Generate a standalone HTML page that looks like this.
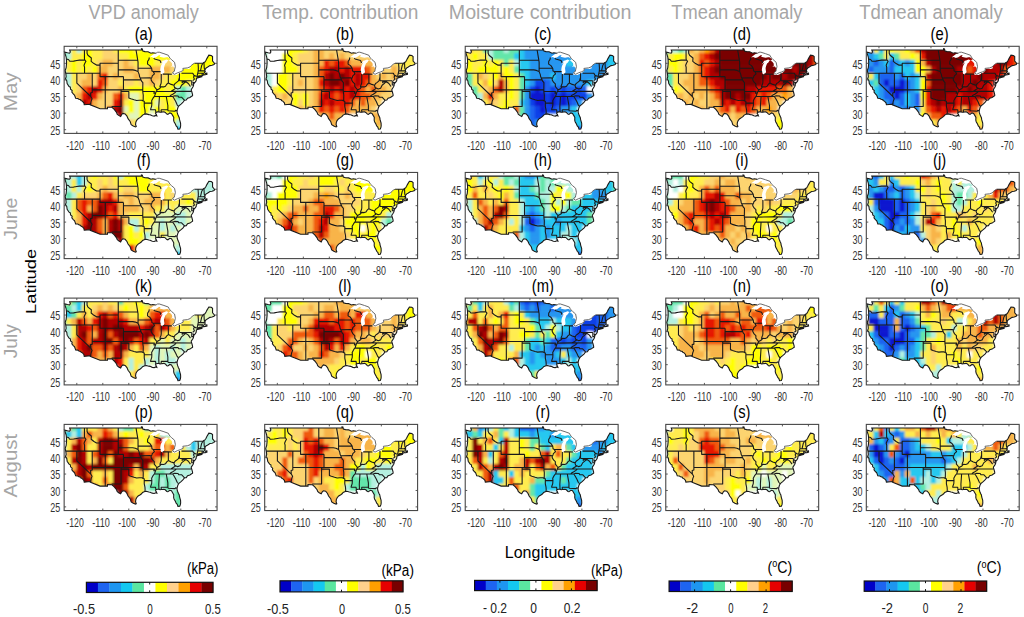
<!DOCTYPE html><html><head><meta charset="utf-8"><style>html,body{margin:0;padding:0;background:#fff;}svg{display:block;}text{font-family:"Liberation Sans",sans-serif;}</style></head><body><svg width="1024" height="617" viewBox="0 0 1024 617"><defs><clipPath id="us"><path d="M0.9 6.3L3.8 7.0L5.9 7.4L6.7 6.2L6.0 4.2L77.8 4.2L77.8 3.0L78.7 3.2L79.2 5.2L81.3 5.8L84.4 6.0L87.3 7.4L89.1 6.9L92.2 7.5L89.9 8.5L87.3 10.5L85.7 11.7L88.0 11.2L90.1 12.2L92.5 11.4L95.3 9.5L96.9 9.4L95.8 10.9L97.9 11.4L100.3 12.0L102.9 11.5L104.2 11.5L105.5 12.5L106.5 12.5L106.8 14.2L104.9 14.7L102.9 13.8L100.3 14.8L99.0 15.0L97.4 17.2L96.4 19.0L97.7 17.8L99.2 16.5L97.7 19.2L97.1 20.8L96.6 23.5L96.7 25.8L97.4 28.0L98.4 28.8L100.0 27.8L100.8 26.1L100.5 24.1L100.3 22.1L101.0 19.8L101.8 17.8L103.1 16.8L104.2 15.0L104.9 14.8L106.8 15.8L108.3 17.5L108.6 19.8L107.0 21.1L108.3 20.8L109.6 20.7L110.7 22.1L110.9 24.1L110.7 25.5L109.1 26.5L108.8 27.5L108.2 28.5L110.1 29.3L112.7 29.1L115.9 27.6L117.7 26.6L119.6 24.6L119.6 23.3L122.4 23.0L125.0 23.3L127.0 22.5L126.8 20.8L128.1 19.5L130.2 17.8L130.9 17.5L139.3 17.5L140.6 16.5L141.3 16.2L142.4 14.5L143.2 12.8L145.2 9.4L147.6 9.7L148.9 10.7L148.9 15.2L149.8 16.2L151.0 17.8L150.4 18.7L148.4 19.5L146.3 19.8L143.7 21.5L142.5 22.1L141.3 23.8L141.1 25.1L141.6 25.5L140.6 26.5L141.6 27.5L143.2 27.3L143.3 28.5L141.6 29.0L140.0 29.1L138.2 29.8L135.6 29.9L133.5 30.9L138.0 30.6L138.2 30.9L133.0 32.3L132.8 32.4L132.5 34.9L131.7 36.1L130.4 37.6L129.1 36.1L129.9 38.1L130.0 39.2L129.5 40.7L128.6 42.2L127.7 43.6L127.6 44.4L128.1 45.7L128.9 48.7L128.9 49.9L127.6 50.7L126.3 51.7L123.9 52.4L122.6 54.3L120.8 54.5L119.2 56.7L117.4 58.3L115.3 60.0L114.3 61.7L113.8 63.3L113.4 65.0L113.5 66.6L114.0 68.3L114.8 70.3L115.6 71.9L115.9 73.9L116.9 77.3L117.0 79.6L116.8 81.4L116.1 83.2L114.3 83.4L113.6 81.2L112.5 80.2L111.7 78.3L110.4 75.9L110.0 74.3L110.1 71.6L109.4 70.3L107.8 67.6L106.2 67.1L104.2 68.6L103.2 68.3L101.6 66.6L100.3 66.0L97.7 66.3L96.4 66.5L95.3 66.1L93.8 66.1L92.2 66.6L91.9 67.6L92.7 68.6L93.2 70.0L91.9 69.6L90.6 70.3L88.6 70.0L86.5 69.0L85.2 68.8L82.6 68.1L81.1 68.3L78.9 69.3L77.9 70.6L76.6 71.6L74.5 72.9L73.0 74.6L72.2 76.3L71.9 78.6L72.6 80.7L71.9 81.1L69.6 80.2L67.5 78.9L66.5 75.6L64.4 72.9L63.3 70.3L61.5 68.1L59.2 67.6L58.1 68.6L57.0 70.7L55.0 69.6L53.5 68.3L52.9 66.6L50.6 63.6L48.3 61.5L43.8 61.4L43.8 62.9L36.4 62.9L26.7 59.0L26.9 58.3L20.6 58.9L20.2 57.0L18.6 55.3L17.3 54.8L17.1 54.0L15.2 53.5L14.2 52.7L12.0 52.5L11.5 51.0L10.8 49.2L9.8 48.4L8.2 46.4L8.5 44.7L6.9 43.4L6.7 41.4L5.4 40.7L3.5 37.7L3.1 34.8L1.8 33.1L2.5 30.8L2.2 28.1L1.5 24.8L2.5 21.8L2.9 17.5L2.8 14.2L2.5 11.2L0.9 6.3Z"/></clipPath><filter id="bl" x="-5%%" y="-5%%" width="110%%" height="110%%"><feGaussianBlur stdDeviation="0.9"/></filter><g id="st"><path d="M2.8 13.3L4.8 13.7L6.1 15.5L10.0 15.3L13.2 14.7L15.8 14.3L21.2 14.2M20.8 4.2L20.8 12.8L21.2 14.2M21.2 14.2L22.3 15.5L21.2 17.5L20.4 19.5L20.9 21.5L20.9 27.5M2.2 27.5L36.4 27.5M13.2 27.5L13.2 37.4L27.1 50.7M27.1 50.7L28.4 53.0L27.5 55.3L26.9 58.3M28.6 44.1L28.6 46.7L26.9 47.2L27.1 50.7M28.6 27.5L28.6 44.1M28.6 44.1L79.1 44.1M41.6 30.8L41.6 62.9M36.4 27.5L36.4 30.8L59.8 30.8M36.4 27.5L36.4 19.2L32.9 19.3L30.3 17.8L27.5 15.5L27.7 12.2L24.3 9.5L23.4 7.5L23.4 4.2M36.4 19.2L36.4 17.5L54.6 17.5M54.6 4.2L54.6 30.8M59.8 30.8L59.8 44.1M57.4 44.1L57.4 60.7L48.0 60.7M57.4 45.7L65.2 45.7L65.2 52.2L67.2 53.0L70.4 54.0L73.0 54.7L75.6 54.5L78.2 54.5L79.5 55.2M54.6 24.1L69.1 24.1L71.7 24.6L74.4 25.8M54.6 14.4L74.1 14.4M72.4 4.2L73.5 10.9L74.1 14.4L74.4 16.5L74.4 25.8M59.8 34.1L77.4 34.1M74.4 25.8L75.6 28.8L75.9 30.8L77.4 34.1L77.9 35.4L79.2 36.9L79.1 44.1L79.1 45.7M74.4 22.5L88.0 22.5M76.1 32.2L86.7 32.1L87.5 32.8M85.7 11.7L85.2 13.8L84.0 15.5L83.9 18.3L86.2 19.8L88.0 22.5L88.3 25.1L89.6 25.8L90.8 28.1L88.6 30.1L88.3 31.4L87.5 32.8L87.5 34.1L88.8 36.4L90.6 38.1L90.6 40.7L92.5 43.1L93.4 44.1L92.5 45.7L91.9 47.4L90.9 50.4L89.6 52.0L88.0 55.0L88.2 57.3L88.0 60.3L87.0 63.3L87.0 64.0L91.9 64.0L92.2 66.6M93.4 44.1L96.1 42.6L97.4 40.9L100.0 41.1L101.8 40.4L103.1 38.4L104.7 37.1L107.5 38.6L110.4 39.4L111.4 37.7L112.7 36.8L114.8 35.1L115.6 32.1M97.6 28.3L97.6 36.3L97.4 37.7L96.6 39.7L96.2 41.4M104.7 28.3L104.7 37.1M99.0 28.3L104.7 28.3L108.2 28.4M89.5 25.8L96.9 25.8M90.1 12.3L90.9 13.2L94.5 14.2L96.4 14.8L97.4 17.2M92.5 45.7L107.6 45.4L127.9 45.6M79.1 45.7L90.8 45.7L90.2 47.4L91.9 47.4M79.1 45.7L79.6 49.4L79.5 55.2L80.6 55.5L80.6 57.3L88.2 57.3M80.6 57.3L80.6 60.7L81.3 64.0L81.5 67.0L81.1 68.3M95.8 50.7L95.1 61.0L95.3 66.0M102.6 50.7L104.2 59.7L104.2 64.0M97.4 64.0L104.2 64.0L104.5 65.0L111.4 65.4L112.0 64.6L113.4 65.0M97.4 64.0L97.7 66.3M90.4 50.7L109.1 50.7M109.1 50.7L110.4 52.7L112.2 56.0L113.5 59.0L114.8 60.5M109.1 50.7L110.9 50.0L114.4 50.2L115.1 51.4L117.9 51.4L120.9 54.5M106.0 50.7L106.8 49.7L109.1 48.4L111.2 47.0L112.8 45.4M107.6 45.4L109.9 43.9L111.2 43.1L112.0 42.3L110.9 41.7L110.4 40.1L110.4 39.4M112.0 42.3L114.0 43.2L116.4 42.4L117.9 39.4L120.0 37.7L121.6 36.1L123.0 36.4M123.0 36.4L121.6 35.4L119.8 35.8L118.5 36.8L118.5 35.0M123.0 36.4L124.7 37.7L126.8 40.7M115.8 35.0L128.1 35.0M115.8 35.0L115.8 27.5M117.8 27.5L129.2 27.5L129.9 29.1L130.9 29.6L129.9 31.3L130.8 33.4L129.1 34.8M130.9 29.6L133.0 30.8M128.1 35.0L128.1 39.2L130.0 39.2M134.4 17.5L134.7 22.1L134.6 25.0L134.1 27.3L133.5 30.4L133.8 30.8M139.3 17.5L138.0 19.8L136.8 25.0M134.7 25.0L139.8 25.1L141.1 24.6M134.1 27.3L139.6 27.4M138.5 27.4L138.5 29.8M139.6 27.4L140.3 29.1M140.3 16.5L140.6 22.5L141.3 23.9" fill="none" stroke="#1a1a1a" stroke-width="1.1" stroke-linejoin="round"/><path d="M130.9 17.5L139.3 17.5L140.6 16.5L141.3 16.2L142.4 14.5L143.2 12.8L145.2 9.4L147.6 9.7L148.9 10.7L148.9 15.2L149.8 16.2L151.0 17.8L150.4 18.7L148.4 19.5L146.3 19.8L143.7 21.5L142.5 22.1L141.3 23.8L141.1 25.1L141.6 25.5L140.6 26.5L141.6 27.5L143.2 27.3L143.3 28.5L141.6 29.0L140.0 29.1L138.2 29.8L135.6 29.9L133.5 30.9L138.0 30.6L138.2 30.9L133.0 32.3L132.8 32.4L132.5 34.9L131.7 36.1L130.4 37.6L129.1 36.1L129.9 38.1L130.0 39.2L129.5 40.7L128.6 42.2L127.7 43.6L127.6 44.4L128.1 45.7L128.9 48.7L128.9 49.9L127.6 50.7L126.3 51.7L123.9 52.4L122.6 54.3L120.8 54.5L119.2 56.7L117.4 58.3L115.3 60.0L114.3 61.7L113.8 63.3L113.4 65.0L113.5 66.6L114.0 68.3L114.8 70.3L115.6 71.9L115.9 73.9L116.9 77.3L117.0 79.6L116.8 81.4L116.1 83.2L114.3 83.4L113.6 81.2L112.5 80.2L111.7 78.3L110.4 75.9L110.0 74.3L110.1 71.6L109.4 70.3L107.8 67.6L106.2 67.1L104.2 68.6L103.2 68.3L101.6 66.6L100.3 66.0L97.7 66.3L96.4 66.5L95.3 66.1L93.8 66.1L92.2 66.6L91.9 67.6L92.7 68.6L93.2 70.0L91.9 69.6L90.6 70.3L88.6 70.0L86.5 69.0L85.2 68.8L82.6 68.1L81.1 68.3L78.9 69.3L77.9 70.6L76.6 71.6L74.5 72.9L73.0 74.6L72.2 76.3L71.9 78.6L72.6 80.7L71.9 81.1L69.6 80.2L67.5 78.9L66.5 75.6L64.4 72.9L63.3 70.3L61.5 68.1L59.2 67.6L58.1 68.6L57.0 70.7L55.0 69.6L53.5 68.3L52.9 66.6L50.6 63.6L48.3 61.5L43.8 61.4L43.8 62.9L36.4 62.9L26.7 59.0L26.9 58.3L20.6 58.9L20.2 57.0L18.6 55.3L17.3 54.8L17.1 54.0L15.2 53.5L14.2 52.7L12.0 52.5L11.5 51.0L10.8 49.2L9.8 48.4L8.2 46.4L8.5 44.7L6.9 43.4L6.7 41.4L5.4 40.7L3.5 37.7L3.1 34.8L1.8 33.1L2.5 30.8L2.2 28.1L1.5 24.8L2.5 21.8L2.9 17.5L2.8 14.2L2.5 11.2L0.9 6.3L0.9 6.3L3.8 7.0L5.9 7.4L6.7 6.2L6.0 4.2L77.8 4.2L77.8 3.0L78.7 3.2L79.2 5.2L81.3 5.8L84.4 6.0L87.3 7.4L89.1 6.9L92.2 7.5" fill="none" stroke="#1a1a1a" stroke-width="1.1"/><path d="M92.2 7.5L93.8 6.5L95.6 6.4L100.3 7.9L104.7 9.5L105.5 11.2L106.5 12.5L107.8 13.8L110.9 16.5L111.7 20.8L110.9 24.1L110.7 25.5L109.1 26.5L109.1 27.5L110.9 28.5L113.8 27.0L116.6 26.1L119.6 24.6L119.2 22.6L123.7 22.1L126.5 21.1L127.0 20.2L129.4 18.2L130.9 17.5" fill="none" stroke="#5a5a5a" stroke-width="0.9"/></g></defs><text x="88.6" y="18.8" font-size="19.5" fill="#a6a6a6" textLength="110.2" lengthAdjust="spacingAndGlyphs">VPD anomaly</text><text x="262.0" y="18.8" font-size="19.5" fill="#a6a6a6" textLength="156.4" lengthAdjust="spacingAndGlyphs">Temp. contribution</text><text x="448.8" y="18.8" font-size="19.5" fill="#a6a6a6" textLength="182.6" lengthAdjust="spacingAndGlyphs">Moisture contribution</text><text x="671.3" y="18.8" font-size="19.5" fill="#a6a6a6" textLength="131.2" lengthAdjust="spacingAndGlyphs">Tmean anomaly</text><text x="859.2" y="18.8" font-size="19.5" fill="#a6a6a6" textLength="143.5" lengthAdjust="spacingAndGlyphs">Tdmean anomaly</text><text transform="translate(16.6 91.8) rotate(-90)" text-anchor="middle" font-size="18.5" fill="#a6a6a6" textLength="39.0" lengthAdjust="spacingAndGlyphs">May</text><text transform="translate(16.6 218.7) rotate(-90)" text-anchor="middle" font-size="18.5" fill="#a6a6a6" textLength="42.0" lengthAdjust="spacingAndGlyphs">June</text><text transform="translate(16.6 341.3) rotate(-90)" text-anchor="middle" font-size="18.5" fill="#a6a6a6" textLength="34.0" lengthAdjust="spacingAndGlyphs">July</text><text transform="translate(16.6 465.6) rotate(-90)" text-anchor="middle" font-size="18.5" fill="#a6a6a6" textLength="63.6" lengthAdjust="spacingAndGlyphs">August</text><text transform="translate(36.4 281.4) rotate(-90)" text-anchor="middle" font-size="15.5" fill="#000" textLength="65" lengthAdjust="spacingAndGlyphs">Latitude</text><g transform="translate(63.65 45.80) scale(1 1.0000)"><g clip-path="url(#us)"><g filter="url(#bl)"><rect x="-2.7" y="-1.1" width="11.0" height="8.9" fill="#b4f0e0"/><rect x="7.7" y="-1.1" width="5.8" height="8.9" fill="#ffec50"/><rect x="12.9" y="-1.1" width="5.8" height="8.9" fill="#b4f0e0"/><rect x="18.1" y="-1.1" width="5.8" height="8.9" fill="#ffec50"/><rect x="23.3" y="-1.1" width="5.8" height="8.9" fill="#ffff00"/><rect x="28.5" y="-1.1" width="11.0" height="8.9" fill="#ffec50"/><rect x="38.9" y="-1.1" width="11.0" height="8.9" fill="#fcd470"/><rect x="49.3" y="-1.1" width="5.8" height="8.9" fill="#ffec50"/><rect x="54.5" y="-1.1" width="16.2" height="8.9" fill="#ffff00"/><rect x="70.1" y="-1.1" width="5.8" height="8.9" fill="#ffec50"/><rect x="75.3" y="-1.1" width="16.2" height="8.9" fill="#ffff00"/><rect x="-2.7" y="7.2" width="5.8" height="7.2" fill="#64e6aa"/><rect x="2.5" y="7.2" width="5.8" height="7.2" fill="#b4f0e0"/><rect x="7.7" y="7.2" width="11.0" height="7.2" fill="#ffec50"/><rect x="18.1" y="7.2" width="11.0" height="7.2" fill="#ffff00"/><rect x="28.5" y="7.2" width="11.0" height="7.2" fill="#ffec50"/><rect x="38.9" y="7.2" width="16.2" height="7.2" fill="#fcd470"/><rect x="54.5" y="7.2" width="11.0" height="7.2" fill="#ffec50"/><rect x="64.9" y="7.2" width="42.2" height="7.2" fill="#ffff00"/><rect x="137.7" y="7.2" width="16.2" height="7.2" fill="#ffff00"/><rect x="-2.7" y="13.9" width="5.8" height="7.2" fill="#b4f0e0"/><rect x="2.5" y="13.9" width="5.8" height="7.2" fill="#ffec50"/><rect x="7.7" y="13.9" width="5.8" height="7.2" fill="#ffff00"/><rect x="12.9" y="13.9" width="5.8" height="7.2" fill="#ffec50"/><rect x="18.1" y="13.9" width="11.0" height="7.2" fill="#ffff00"/><rect x="28.5" y="13.9" width="5.8" height="7.2" fill="#ffec50"/><rect x="33.7" y="13.9" width="5.8" height="7.2" fill="#fcd470"/><rect x="38.9" y="13.9" width="11.0" height="7.2" fill="#f8b448"/><rect x="49.3" y="13.9" width="11.0" height="7.2" fill="#fcd470"/><rect x="59.7" y="13.9" width="5.8" height="7.2" fill="#f8b448"/><rect x="64.9" y="13.9" width="5.8" height="7.2" fill="#fcd470"/><rect x="70.1" y="13.9" width="5.8" height="7.2" fill="#ffec50"/><rect x="75.3" y="13.9" width="16.2" height="7.2" fill="#ffff00"/><rect x="90.9" y="13.9" width="11.0" height="7.2" fill="#ffec50"/><rect x="101.3" y="13.9" width="11.0" height="7.2" fill="#fcd470"/><rect x="116.9" y="13.9" width="37.0" height="7.2" fill="#ffff00"/><rect x="-2.7" y="20.5" width="5.8" height="7.2" fill="#b4f0e0"/><rect x="2.5" y="20.5" width="5.8" height="7.2" fill="#ffec50"/><rect x="7.7" y="20.5" width="5.8" height="7.2" fill="#ffff00"/><rect x="12.9" y="20.5" width="5.8" height="7.2" fill="#ffec50"/><rect x="18.1" y="20.5" width="5.8" height="7.2" fill="#ffff00"/><rect x="23.3" y="20.5" width="5.8" height="7.2" fill="#ffec50"/><rect x="28.5" y="20.5" width="5.8" height="7.2" fill="#ffff00"/><rect x="33.7" y="20.5" width="11.0" height="7.2" fill="#f8b448"/><rect x="44.1" y="20.5" width="16.2" height="7.2" fill="#fcd470"/><rect x="59.7" y="20.5" width="11.0" height="7.2" fill="#f8b448"/><rect x="70.1" y="20.5" width="16.2" height="7.2" fill="#fcd470"/><rect x="85.7" y="20.5" width="21.4" height="7.2" fill="#f8b448"/><rect x="106.5" y="20.5" width="5.8" height="7.2" fill="#fcd470"/><rect x="111.7" y="20.5" width="31.8" height="7.2" fill="#ffff00"/><rect x="-2.7" y="27.2" width="5.8" height="7.2" fill="#64e6aa"/><rect x="2.5" y="27.2" width="5.8" height="7.2" fill="#b4f0e0"/><rect x="7.7" y="27.2" width="5.8" height="7.2" fill="#ffec50"/><rect x="12.9" y="27.2" width="11.0" height="7.2" fill="#fcd470"/><rect x="23.3" y="27.2" width="5.8" height="7.2" fill="#f8b448"/><rect x="28.5" y="27.2" width="5.8" height="7.2" fill="#fcd470"/><rect x="33.7" y="27.2" width="5.8" height="7.2" fill="#f05a10"/><rect x="38.9" y="27.2" width="5.8" height="7.2" fill="#e61400"/><rect x="44.1" y="27.2" width="5.8" height="7.2" fill="#fcd470"/><rect x="49.3" y="27.2" width="5.8" height="7.2" fill="#f8b448"/><rect x="54.5" y="27.2" width="16.2" height="7.2" fill="#fcd470"/><rect x="70.1" y="27.2" width="5.8" height="7.2" fill="#f8b448"/><rect x="75.3" y="27.2" width="11.0" height="7.2" fill="#fcd470"/><rect x="85.7" y="27.2" width="11.0" height="7.2" fill="#f8b448"/><rect x="96.1" y="27.2" width="5.8" height="7.2" fill="#fcd470"/><rect x="101.3" y="27.2" width="11.0" height="7.2" fill="#ffec50"/><rect x="111.7" y="27.2" width="31.8" height="7.2" fill="#ffff00"/><rect x="2.5" y="33.8" width="5.8" height="7.2" fill="#b4f0e0"/><rect x="7.7" y="33.8" width="5.8" height="7.2" fill="#ffec50"/><rect x="12.9" y="33.8" width="5.8" height="7.2" fill="#fcd470"/><rect x="18.1" y="33.8" width="11.0" height="7.2" fill="#f8b448"/><rect x="28.5" y="33.8" width="5.8" height="7.2" fill="#fcd470"/><rect x="33.7" y="33.8" width="5.8" height="7.2" fill="#e61400"/><rect x="38.9" y="33.8" width="5.8" height="7.2" fill="#f05a10"/><rect x="44.1" y="33.8" width="11.0" height="7.2" fill="#fcd470"/><rect x="54.5" y="33.8" width="5.8" height="7.2" fill="#ffec50"/><rect x="59.7" y="33.8" width="11.0" height="7.2" fill="#fcd470"/><rect x="70.1" y="33.8" width="5.8" height="7.2" fill="#ffec50"/><rect x="75.3" y="33.8" width="11.0" height="7.2" fill="#fcd470"/><rect x="85.7" y="33.8" width="5.8" height="7.2" fill="#f8b448"/><rect x="90.9" y="33.8" width="5.8" height="7.2" fill="#fcd470"/><rect x="96.1" y="33.8" width="11.0" height="7.2" fill="#ffec50"/><rect x="106.5" y="33.8" width="16.2" height="7.2" fill="#ffff00"/><rect x="122.1" y="33.8" width="5.8" height="7.2" fill="#ffec50"/><rect x="2.5" y="40.4" width="5.8" height="7.2" fill="#b4f0e0"/><rect x="7.7" y="40.4" width="5.8" height="7.2" fill="#ffec50"/><rect x="12.9" y="40.4" width="5.8" height="7.2" fill="#fcd470"/><rect x="18.1" y="40.4" width="5.8" height="7.2" fill="#f05a10"/><rect x="23.3" y="40.4" width="5.8" height="7.2" fill="#e61400"/><rect x="28.5" y="40.4" width="5.8" height="7.2" fill="#b00000"/><rect x="33.7" y="40.4" width="5.8" height="7.2" fill="#e61400"/><rect x="38.9" y="40.4" width="5.8" height="7.2" fill="#f8b448"/><rect x="44.1" y="40.4" width="11.0" height="7.2" fill="#fcd470"/><rect x="54.5" y="40.4" width="5.8" height="7.2" fill="#f8b448"/><rect x="59.7" y="40.4" width="5.8" height="7.2" fill="#ffec50"/><rect x="64.9" y="40.4" width="37.0" height="7.2" fill="#ffff00"/><rect x="101.3" y="40.4" width="5.8" height="7.2" fill="#ffec50"/><rect x="106.5" y="40.4" width="5.8" height="7.2" fill="#ffff00"/><rect x="111.7" y="40.4" width="5.8" height="7.2" fill="#b4f0e0"/><rect x="116.9" y="40.4" width="5.8" height="7.2" fill="#64e6aa"/><rect x="122.1" y="40.4" width="5.8" height="7.2" fill="#b4f0e0"/><rect x="7.7" y="47.1" width="5.8" height="7.2" fill="#fcd470"/><rect x="12.9" y="47.1" width="5.8" height="7.2" fill="#f8b448"/><rect x="18.1" y="47.1" width="5.8" height="7.2" fill="#e61400"/><rect x="23.3" y="47.1" width="5.8" height="7.2" fill="#b00000"/><rect x="28.5" y="47.1" width="5.8" height="7.2" fill="#e61400"/><rect x="33.7" y="47.1" width="5.8" height="7.2" fill="#f8b448"/><rect x="38.9" y="47.1" width="11.0" height="7.2" fill="#fcd470"/><rect x="49.3" y="47.1" width="5.8" height="7.2" fill="#f05a10"/><rect x="54.5" y="47.1" width="5.8" height="7.2" fill="#e61400"/><rect x="59.7" y="47.1" width="5.8" height="7.2" fill="#f8b448"/><rect x="64.9" y="47.1" width="11.0" height="7.2" fill="#e2f6b8"/><rect x="75.3" y="47.1" width="5.8" height="7.2" fill="#ffec50"/><rect x="80.5" y="47.1" width="26.6" height="7.2" fill="#ffff00"/><rect x="106.5" y="47.1" width="5.8" height="7.2" fill="#ffec50"/><rect x="111.7" y="47.1" width="11.0" height="7.2" fill="#64e6aa"/><rect x="122.1" y="47.1" width="5.8" height="7.2" fill="#b4f0e0"/><rect x="12.9" y="53.7" width="5.8" height="7.2" fill="#f8b448"/><rect x="18.1" y="53.7" width="5.8" height="7.2" fill="#b00000"/><rect x="23.3" y="53.7" width="5.8" height="7.2" fill="#e61400"/><rect x="28.5" y="53.7" width="5.8" height="7.2" fill="#f8b448"/><rect x="33.7" y="53.7" width="16.2" height="7.2" fill="#fcd470"/><rect x="49.3" y="53.7" width="5.8" height="7.2" fill="#e61400"/><rect x="54.5" y="53.7" width="5.8" height="7.2" fill="#b00000"/><rect x="59.7" y="53.7" width="5.8" height="7.2" fill="#ffec50"/><rect x="64.9" y="53.7" width="5.8" height="7.2" fill="#ffff00"/><rect x="70.1" y="53.7" width="5.8" height="7.2" fill="#e2f6b8"/><rect x="75.3" y="53.7" width="16.2" height="7.2" fill="#ffff00"/><rect x="90.9" y="53.7" width="5.8" height="7.2" fill="#e2f6b8"/><rect x="96.1" y="53.7" width="5.8" height="7.2" fill="#ffec50"/><rect x="101.3" y="53.7" width="5.8" height="7.2" fill="#ffff00"/><rect x="106.5" y="53.7" width="5.8" height="7.2" fill="#ffec50"/><rect x="111.7" y="53.7" width="5.8" height="7.2" fill="#b4f0e0"/><rect x="23.3" y="60.4" width="11.0" height="7.2" fill="#f8b448"/><rect x="33.7" y="60.4" width="11.0" height="7.2" fill="#fcd470"/><rect x="44.1" y="60.4" width="5.8" height="7.2" fill="#f05a10"/><rect x="49.3" y="60.4" width="5.8" height="7.2" fill="#b00000"/><rect x="54.5" y="60.4" width="5.8" height="7.2" fill="#7a0000"/><rect x="59.7" y="60.4" width="5.8" height="7.2" fill="#e2f6b8"/><rect x="64.9" y="60.4" width="5.8" height="7.2" fill="#ffff00"/><rect x="70.1" y="60.4" width="5.8" height="7.2" fill="#e2f6b8"/><rect x="75.3" y="60.4" width="11.0" height="7.2" fill="#ffff00"/><rect x="85.7" y="60.4" width="5.8" height="7.2" fill="#e2f6b8"/><rect x="90.9" y="60.4" width="5.8" height="7.2" fill="#ffff00"/><rect x="96.1" y="60.4" width="5.8" height="7.2" fill="#ffec50"/><rect x="101.3" y="60.4" width="11.0" height="7.2" fill="#ffff00"/><rect x="54.5" y="67.0" width="5.8" height="7.2" fill="#b00000"/><rect x="59.7" y="67.0" width="5.8" height="7.2" fill="#ffec50"/><rect x="64.9" y="67.0" width="11.0" height="7.2" fill="#e2f6b8"/><rect x="75.3" y="67.0" width="5.8" height="7.2" fill="#ffff00"/><rect x="106.5" y="67.0" width="11.0" height="7.2" fill="#ffff00"/><rect x="64.9" y="73.6" width="5.8" height="7.2" fill="#fcd470"/><rect x="70.1" y="73.6" width="5.8" height="7.2" fill="#ffec50"/><rect x="106.5" y="73.6" width="5.8" height="7.2" fill="#ffff00"/><rect x="111.7" y="73.6" width="5.8" height="7.2" fill="#b4f0e0"/><rect x="70.1" y="80.3" width="5.8" height="7.2" fill="#fcd470"/><rect x="111.7" y="80.3" width="5.8" height="7.2" fill="#28c8f0"/></g></g><use href="#st"/></g><rect x="64.15" y="46.30" width="152.90" height="87.10" fill="none" stroke="#474747" stroke-width="1.1"/><path d="M76.80 133.40v-2M76.80 46.30v2M102.80 133.40v-2M102.80 46.30v2M128.80 133.40v-2M128.80 46.30v2M154.80 133.40v-2M154.80 46.30v2M180.80 133.40v-2M180.80 46.30v2M206.80 133.40v-2M206.80 46.30v2M64.15 129.70h2M217.05 129.70h-2M64.15 113.10h2M217.05 113.10h-2M64.15 96.50h2M217.05 96.50h-2M64.15 79.90h2M217.05 79.90h-2M64.15 63.30h2M217.05 63.30h-2" stroke="#474747" stroke-width="0.9"/><g font-size="12.2" fill="#333"><text x="75.00" y="149.70" text-anchor="middle" textLength="17.5" lengthAdjust="spacingAndGlyphs">-120</text><text x="101.00" y="149.70" text-anchor="middle" textLength="17.5" lengthAdjust="spacingAndGlyphs">-110</text><text x="127.00" y="149.70" text-anchor="middle" textLength="17.5" lengthAdjust="spacingAndGlyphs">-100</text><text x="153.00" y="149.70" text-anchor="middle" textLength="12.9" lengthAdjust="spacingAndGlyphs">-90</text><text x="179.00" y="149.70" text-anchor="middle" textLength="12.9" lengthAdjust="spacingAndGlyphs">-80</text><text x="205.00" y="149.70" text-anchor="middle" textLength="12.9" lengthAdjust="spacingAndGlyphs">-70</text><text x="60.25" y="135.10" text-anchor="end" textLength="10" lengthAdjust="spacingAndGlyphs">25</text><text x="60.25" y="118.50" text-anchor="end" textLength="10" lengthAdjust="spacingAndGlyphs">30</text><text x="60.25" y="101.90" text-anchor="end" textLength="10" lengthAdjust="spacingAndGlyphs">35</text><text x="60.25" y="85.30" text-anchor="end" textLength="10" lengthAdjust="spacingAndGlyphs">40</text><text x="60.25" y="68.70" text-anchor="end" textLength="10" lengthAdjust="spacingAndGlyphs">45</text></g><text transform="translate(143.65 40.10) scale(0.82 1)" font-size="18" text-anchor="middle" fill="#000">(a)</text><g transform="translate(264.19 45.80) scale(1 1.0000)"><g clip-path="url(#us)"><g filter="url(#bl)"><rect x="-2.7" y="-1.1" width="5.8" height="8.9" fill="#64e6aa"/><rect x="2.5" y="-1.1" width="21.4" height="8.9" fill="#ffffff"/><rect x="23.3" y="-1.1" width="16.2" height="8.9" fill="#ffff00"/><rect x="38.9" y="-1.1" width="5.8" height="8.9" fill="#ffec50"/><rect x="44.1" y="-1.1" width="5.8" height="8.9" fill="#fcd470"/><rect x="49.3" y="-1.1" width="11.0" height="8.9" fill="#f8b448"/><rect x="59.7" y="-1.1" width="31.8" height="8.9" fill="#fcd470"/><rect x="-2.7" y="7.2" width="5.8" height="7.2" fill="#64e6aa"/><rect x="2.5" y="7.2" width="16.2" height="7.2" fill="#ffffff"/><rect x="18.1" y="7.2" width="11.0" height="7.2" fill="#ffff00"/><rect x="28.5" y="7.2" width="5.8" height="7.2" fill="#ffec50"/><rect x="33.7" y="7.2" width="16.2" height="7.2" fill="#fcd470"/><rect x="49.3" y="7.2" width="11.0" height="7.2" fill="#f8b448"/><rect x="59.7" y="7.2" width="5.8" height="7.2" fill="#fcd470"/><rect x="64.9" y="7.2" width="5.8" height="7.2" fill="#f8b448"/><rect x="70.1" y="7.2" width="5.8" height="7.2" fill="#fcd470"/><rect x="75.3" y="7.2" width="5.8" height="7.2" fill="#f8b448"/><rect x="80.5" y="7.2" width="26.6" height="7.2" fill="#fcd470"/><rect x="137.7" y="7.2" width="5.8" height="7.2" fill="#fcd470"/><rect x="142.9" y="7.2" width="11.0" height="7.2" fill="#ffec50"/><rect x="-2.7" y="13.9" width="5.8" height="7.2" fill="#64e6aa"/><rect x="2.5" y="13.9" width="16.2" height="7.2" fill="#ffffff"/><rect x="18.1" y="13.9" width="11.0" height="7.2" fill="#ffff00"/><rect x="28.5" y="13.9" width="5.8" height="7.2" fill="#ffec50"/><rect x="33.7" y="13.9" width="16.2" height="7.2" fill="#fcd470"/><rect x="49.3" y="13.9" width="11.0" height="7.2" fill="#f8b448"/><rect x="59.7" y="13.9" width="5.8" height="7.2" fill="#e61400"/><rect x="64.9" y="13.9" width="5.8" height="7.2" fill="#f05a10"/><rect x="70.1" y="13.9" width="11.0" height="7.2" fill="#e61400"/><rect x="80.5" y="13.9" width="5.8" height="7.2" fill="#f05a10"/><rect x="85.7" y="13.9" width="26.6" height="7.2" fill="#f8b448"/><rect x="116.9" y="13.9" width="16.2" height="7.2" fill="#fcd470"/><rect x="132.5" y="13.9" width="21.4" height="7.2" fill="#ffec50"/><rect x="-2.7" y="20.5" width="5.8" height="7.2" fill="#64e6aa"/><rect x="2.5" y="20.5" width="16.2" height="7.2" fill="#ffffff"/><rect x="18.1" y="20.5" width="16.2" height="7.2" fill="#ffff00"/><rect x="33.7" y="20.5" width="16.2" height="7.2" fill="#fcd470"/><rect x="49.3" y="20.5" width="5.8" height="7.2" fill="#f8b448"/><rect x="54.5" y="20.5" width="5.8" height="7.2" fill="#f05a10"/><rect x="59.7" y="20.5" width="5.8" height="7.2" fill="#e61400"/><rect x="64.9" y="20.5" width="11.0" height="7.2" fill="#b00000"/><rect x="75.3" y="20.5" width="5.8" height="7.2" fill="#e61400"/><rect x="80.5" y="20.5" width="5.8" height="7.2" fill="#b00000"/><rect x="85.7" y="20.5" width="16.2" height="7.2" fill="#e61400"/><rect x="101.3" y="20.5" width="5.8" height="7.2" fill="#f05a10"/><rect x="106.5" y="20.5" width="11.0" height="7.2" fill="#f8b448"/><rect x="116.9" y="20.5" width="11.0" height="7.2" fill="#fcd470"/><rect x="127.3" y="20.5" width="5.8" height="7.2" fill="#f8b448"/><rect x="132.5" y="20.5" width="5.8" height="7.2" fill="#fcd470"/><rect x="137.7" y="20.5" width="5.8" height="7.2" fill="#ffec50"/><rect x="-2.7" y="27.2" width="5.8" height="7.2" fill="#64e6aa"/><rect x="2.5" y="27.2" width="5.8" height="7.2" fill="#b4f0e0"/><rect x="7.7" y="27.2" width="5.8" height="7.2" fill="#ffffff"/><rect x="12.9" y="27.2" width="11.0" height="7.2" fill="#ffff00"/><rect x="23.3" y="27.2" width="5.8" height="7.2" fill="#ffec50"/><rect x="28.5" y="27.2" width="21.4" height="7.2" fill="#fcd470"/><rect x="49.3" y="27.2" width="5.8" height="7.2" fill="#f8b448"/><rect x="54.5" y="27.2" width="5.8" height="7.2" fill="#f05a10"/><rect x="59.7" y="27.2" width="5.8" height="7.2" fill="#b00000"/><rect x="64.9" y="27.2" width="5.8" height="7.2" fill="#7a0000"/><rect x="70.1" y="27.2" width="5.8" height="7.2" fill="#b00000"/><rect x="75.3" y="27.2" width="5.8" height="7.2" fill="#7a0000"/><rect x="80.5" y="27.2" width="5.8" height="7.2" fill="#b00000"/><rect x="85.7" y="27.2" width="5.8" height="7.2" fill="#e61400"/><rect x="90.9" y="27.2" width="5.8" height="7.2" fill="#b00000"/><rect x="96.1" y="27.2" width="11.0" height="7.2" fill="#e61400"/><rect x="106.5" y="27.2" width="5.8" height="7.2" fill="#f8b448"/><rect x="111.7" y="27.2" width="5.8" height="7.2" fill="#fcd470"/><rect x="116.9" y="27.2" width="5.8" height="7.2" fill="#f8b448"/><rect x="122.1" y="27.2" width="5.8" height="7.2" fill="#fcd470"/><rect x="127.3" y="27.2" width="5.8" height="7.2" fill="#f8b448"/><rect x="132.5" y="27.2" width="5.8" height="7.2" fill="#fcd470"/><rect x="2.5" y="33.8" width="5.8" height="7.2" fill="#b4f0e0"/><rect x="7.7" y="33.8" width="5.8" height="7.2" fill="#ffffff"/><rect x="12.9" y="33.8" width="11.0" height="7.2" fill="#ffff00"/><rect x="23.3" y="33.8" width="5.8" height="7.2" fill="#ffec50"/><rect x="28.5" y="33.8" width="5.8" height="7.2" fill="#fcd470"/><rect x="33.7" y="33.8" width="5.8" height="7.2" fill="#f8b448"/><rect x="38.9" y="33.8" width="11.0" height="7.2" fill="#fcd470"/><rect x="49.3" y="33.8" width="5.8" height="7.2" fill="#f8b448"/><rect x="54.5" y="33.8" width="5.8" height="7.2" fill="#e61400"/><rect x="59.7" y="33.8" width="5.8" height="7.2" fill="#b00000"/><rect x="64.9" y="33.8" width="11.0" height="7.2" fill="#7a0000"/><rect x="75.3" y="33.8" width="5.8" height="7.2" fill="#b00000"/><rect x="80.5" y="33.8" width="5.8" height="7.2" fill="#7a0000"/><rect x="85.7" y="33.8" width="5.8" height="7.2" fill="#e61400"/><rect x="90.9" y="33.8" width="5.8" height="7.2" fill="#b00000"/><rect x="96.1" y="33.8" width="5.8" height="7.2" fill="#e61400"/><rect x="101.3" y="33.8" width="5.8" height="7.2" fill="#f05a10"/><rect x="106.5" y="33.8" width="11.0" height="7.2" fill="#f8b448"/><rect x="116.9" y="33.8" width="11.0" height="7.2" fill="#fcd470"/><rect x="2.5" y="40.4" width="5.8" height="7.2" fill="#b4f0e0"/><rect x="7.7" y="40.4" width="5.8" height="7.2" fill="#ffec50"/><rect x="12.9" y="40.4" width="11.0" height="7.2" fill="#ffff00"/><rect x="23.3" y="40.4" width="26.6" height="7.2" fill="#fcd470"/><rect x="49.3" y="40.4" width="5.8" height="7.2" fill="#f8b448"/><rect x="54.5" y="40.4" width="5.8" height="7.2" fill="#f05a10"/><rect x="59.7" y="40.4" width="5.8" height="7.2" fill="#e61400"/><rect x="64.9" y="40.4" width="5.8" height="7.2" fill="#b00000"/><rect x="70.1" y="40.4" width="5.8" height="7.2" fill="#e61400"/><rect x="75.3" y="40.4" width="5.8" height="7.2" fill="#b00000"/><rect x="80.5" y="40.4" width="5.8" height="7.2" fill="#e61400"/><rect x="85.7" y="40.4" width="5.8" height="7.2" fill="#b00000"/><rect x="90.9" y="40.4" width="5.8" height="7.2" fill="#e61400"/><rect x="96.1" y="40.4" width="5.8" height="7.2" fill="#f05a10"/><rect x="101.3" y="40.4" width="5.8" height="7.2" fill="#f8b448"/><rect x="106.5" y="40.4" width="5.8" height="7.2" fill="#f05a10"/><rect x="111.7" y="40.4" width="11.0" height="7.2" fill="#f8b448"/><rect x="122.1" y="40.4" width="5.8" height="7.2" fill="#fcd470"/><rect x="7.7" y="47.1" width="5.8" height="7.2" fill="#f8b448"/><rect x="12.9" y="47.1" width="5.8" height="7.2" fill="#fcd470"/><rect x="18.1" y="47.1" width="5.8" height="7.2" fill="#f8b448"/><rect x="23.3" y="47.1" width="5.8" height="7.2" fill="#fcd470"/><rect x="28.5" y="47.1" width="5.8" height="7.2" fill="#ffff00"/><rect x="33.7" y="47.1" width="5.8" height="7.2" fill="#ffec50"/><rect x="38.9" y="47.1" width="5.8" height="7.2" fill="#ffff00"/><rect x="44.1" y="47.1" width="5.8" height="7.2" fill="#fcd470"/><rect x="49.3" y="47.1" width="5.8" height="7.2" fill="#f8b448"/><rect x="54.5" y="47.1" width="5.8" height="7.2" fill="#e61400"/><rect x="59.7" y="47.1" width="5.8" height="7.2" fill="#b00000"/><rect x="64.9" y="47.1" width="5.8" height="7.2" fill="#e61400"/><rect x="70.1" y="47.1" width="5.8" height="7.2" fill="#f05a10"/><rect x="75.3" y="47.1" width="11.0" height="7.2" fill="#e61400"/><rect x="85.7" y="47.1" width="5.8" height="7.2" fill="#b00000"/><rect x="90.9" y="47.1" width="5.8" height="7.2" fill="#e61400"/><rect x="96.1" y="47.1" width="11.0" height="7.2" fill="#f05a10"/><rect x="106.5" y="47.1" width="11.0" height="7.2" fill="#f8b448"/><rect x="116.9" y="47.1" width="11.0" height="7.2" fill="#fcd470"/><rect x="12.9" y="53.7" width="5.8" height="7.2" fill="#f8b448"/><rect x="18.1" y="53.7" width="11.0" height="7.2" fill="#fcd470"/><rect x="28.5" y="53.7" width="5.8" height="7.2" fill="#ffff00"/><rect x="33.7" y="53.7" width="5.8" height="7.2" fill="#fcd470"/><rect x="38.9" y="53.7" width="5.8" height="7.2" fill="#ffff00"/><rect x="44.1" y="53.7" width="5.8" height="7.2" fill="#fcd470"/><rect x="49.3" y="53.7" width="5.8" height="7.2" fill="#f8b448"/><rect x="54.5" y="53.7" width="5.8" height="7.2" fill="#b00000"/><rect x="59.7" y="53.7" width="5.8" height="7.2" fill="#e61400"/><rect x="64.9" y="53.7" width="5.8" height="7.2" fill="#b00000"/><rect x="70.1" y="53.7" width="16.2" height="7.2" fill="#e61400"/><rect x="85.7" y="53.7" width="5.8" height="7.2" fill="#f05a10"/><rect x="90.9" y="53.7" width="5.8" height="7.2" fill="#f8b448"/><rect x="96.1" y="53.7" width="5.8" height="7.2" fill="#f05a10"/><rect x="101.3" y="53.7" width="11.0" height="7.2" fill="#f8b448"/><rect x="111.7" y="53.7" width="5.8" height="7.2" fill="#fcd470"/><rect x="23.3" y="60.4" width="11.0" height="7.2" fill="#fcd470"/><rect x="33.7" y="60.4" width="5.8" height="7.2" fill="#f8b448"/><rect x="38.9" y="60.4" width="5.8" height="7.2" fill="#fcd470"/><rect x="44.1" y="60.4" width="11.0" height="7.2" fill="#f8b448"/><rect x="54.5" y="60.4" width="5.8" height="7.2" fill="#e61400"/><rect x="59.7" y="60.4" width="5.8" height="7.2" fill="#f05a10"/><rect x="64.9" y="60.4" width="5.8" height="7.2" fill="#e61400"/><rect x="70.1" y="60.4" width="5.8" height="7.2" fill="#f05a10"/><rect x="75.3" y="60.4" width="5.8" height="7.2" fill="#e61400"/><rect x="80.5" y="60.4" width="5.8" height="7.2" fill="#f05a10"/><rect x="85.7" y="60.4" width="21.4" height="7.2" fill="#f8b448"/><rect x="106.5" y="60.4" width="5.8" height="7.2" fill="#fcd470"/><rect x="54.5" y="67.0" width="11.0" height="7.2" fill="#f8b448"/><rect x="64.9" y="67.0" width="5.8" height="7.2" fill="#f05a10"/><rect x="70.1" y="67.0" width="11.0" height="7.2" fill="#f8b448"/><rect x="106.5" y="67.0" width="11.0" height="7.2" fill="#f8b448"/><rect x="64.9" y="73.6" width="11.0" height="7.2" fill="#f8b448"/><rect x="106.5" y="73.6" width="5.8" height="7.2" fill="#ffec50"/><rect x="111.7" y="73.6" width="5.8" height="7.2" fill="#f8b448"/><rect x="70.1" y="80.3" width="5.8" height="7.2" fill="#f8b448"/><rect x="111.7" y="80.3" width="5.8" height="7.2" fill="#ffec50"/></g></g><use href="#st"/></g><rect x="264.69" y="46.30" width="152.90" height="87.10" fill="none" stroke="#474747" stroke-width="1.1"/><path d="M277.34 133.40v-2M277.34 46.30v2M303.34 133.40v-2M303.34 46.30v2M329.34 133.40v-2M329.34 46.30v2M355.34 133.40v-2M355.34 46.30v2M381.34 133.40v-2M381.34 46.30v2M407.34 133.40v-2M407.34 46.30v2M264.69 129.70h2M417.59 129.70h-2M264.69 113.10h2M417.59 113.10h-2M264.69 96.50h2M417.59 96.50h-2M264.69 79.90h2M417.59 79.90h-2M264.69 63.30h2M417.59 63.30h-2" stroke="#474747" stroke-width="0.9"/><g font-size="12.2" fill="#333"><text x="275.54" y="149.70" text-anchor="middle" textLength="17.5" lengthAdjust="spacingAndGlyphs">-120</text><text x="301.54" y="149.70" text-anchor="middle" textLength="17.5" lengthAdjust="spacingAndGlyphs">-110</text><text x="327.54" y="149.70" text-anchor="middle" textLength="17.5" lengthAdjust="spacingAndGlyphs">-100</text><text x="353.54" y="149.70" text-anchor="middle" textLength="12.9" lengthAdjust="spacingAndGlyphs">-90</text><text x="379.54" y="149.70" text-anchor="middle" textLength="12.9" lengthAdjust="spacingAndGlyphs">-80</text><text x="405.54" y="149.70" text-anchor="middle" textLength="12.9" lengthAdjust="spacingAndGlyphs">-70</text><text x="260.79" y="135.10" text-anchor="end" textLength="10" lengthAdjust="spacingAndGlyphs">25</text><text x="260.79" y="118.50" text-anchor="end" textLength="10" lengthAdjust="spacingAndGlyphs">30</text><text x="260.79" y="101.90" text-anchor="end" textLength="10" lengthAdjust="spacingAndGlyphs">35</text><text x="260.79" y="85.30" text-anchor="end" textLength="10" lengthAdjust="spacingAndGlyphs">40</text><text x="260.79" y="68.70" text-anchor="end" textLength="10" lengthAdjust="spacingAndGlyphs">45</text></g><text transform="translate(344.89 40.10) scale(0.82 1)" font-size="18" text-anchor="middle" fill="#000">(b)</text><g transform="translate(464.73 45.80) scale(1 1.0000)"><g clip-path="url(#us)"><g filter="url(#bl)"><rect x="-2.7" y="-1.1" width="5.8" height="8.9" fill="#ffec50"/><rect x="2.5" y="-1.1" width="5.8" height="8.9" fill="#f8b448"/><rect x="7.7" y="-1.1" width="11.0" height="8.9" fill="#ffec50"/><rect x="18.1" y="-1.1" width="5.8" height="8.9" fill="#64e6aa"/><rect x="23.3" y="-1.1" width="5.8" height="8.9" fill="#b4f0e0"/><rect x="28.5" y="-1.1" width="11.0" height="8.9" fill="#64e6aa"/><rect x="38.9" y="-1.1" width="5.8" height="8.9" fill="#b4f0e0"/><rect x="44.1" y="-1.1" width="11.0" height="8.9" fill="#64e6aa"/><rect x="54.5" y="-1.1" width="5.8" height="8.9" fill="#28c8f0"/><rect x="59.7" y="-1.1" width="31.8" height="8.9" fill="#2896f0"/><rect x="-2.7" y="7.2" width="11.0" height="7.2" fill="#ffec50"/><rect x="7.7" y="7.2" width="5.8" height="7.2" fill="#ffff00"/><rect x="12.9" y="7.2" width="11.0" height="7.2" fill="#ffec50"/><rect x="23.3" y="7.2" width="5.8" height="7.2" fill="#b4f0e0"/><rect x="28.5" y="7.2" width="21.4" height="7.2" fill="#64e6aa"/><rect x="49.3" y="7.2" width="11.0" height="7.2" fill="#28c8f0"/><rect x="59.7" y="7.2" width="47.4" height="7.2" fill="#2896f0"/><rect x="137.7" y="7.2" width="16.2" height="7.2" fill="#28c8f0"/><rect x="-2.7" y="13.9" width="5.8" height="7.2" fill="#ffec50"/><rect x="2.5" y="13.9" width="5.8" height="7.2" fill="#ffff00"/><rect x="7.7" y="13.9" width="11.0" height="7.2" fill="#ffec50"/><rect x="18.1" y="13.9" width="5.8" height="7.2" fill="#ffff00"/><rect x="23.3" y="13.9" width="5.8" height="7.2" fill="#ffec50"/><rect x="28.5" y="13.9" width="5.8" height="7.2" fill="#ffff00"/><rect x="33.7" y="13.9" width="5.8" height="7.2" fill="#ffec50"/><rect x="38.9" y="13.9" width="5.8" height="7.2" fill="#64e6aa"/><rect x="44.1" y="13.9" width="5.8" height="7.2" fill="#ffec50"/><rect x="49.3" y="13.9" width="5.8" height="7.2" fill="#b4f0e0"/><rect x="54.5" y="13.9" width="11.0" height="7.2" fill="#28c8f0"/><rect x="64.9" y="13.9" width="37.0" height="7.2" fill="#2896f0"/><rect x="101.3" y="13.9" width="11.0" height="7.2" fill="#28c8f0"/><rect x="116.9" y="13.9" width="26.6" height="7.2" fill="#2896f0"/><rect x="142.9" y="13.9" width="11.0" height="7.2" fill="#28c8f0"/><rect x="-2.7" y="20.5" width="5.8" height="7.2" fill="#ffec50"/><rect x="2.5" y="20.5" width="5.8" height="7.2" fill="#ffff00"/><rect x="7.7" y="20.5" width="5.8" height="7.2" fill="#ffec50"/><rect x="12.9" y="20.5" width="21.4" height="7.2" fill="#ffff00"/><rect x="33.7" y="20.5" width="5.8" height="7.2" fill="#ffec50"/><rect x="38.9" y="20.5" width="5.8" height="7.2" fill="#ffff00"/><rect x="44.1" y="20.5" width="5.8" height="7.2" fill="#ffec50"/><rect x="49.3" y="20.5" width="5.8" height="7.2" fill="#64e6aa"/><rect x="54.5" y="20.5" width="11.0" height="7.2" fill="#28c8f0"/><rect x="64.9" y="20.5" width="78.6" height="7.2" fill="#2896f0"/><rect x="-2.7" y="27.2" width="11.0" height="7.2" fill="#64e6aa"/><rect x="7.7" y="27.2" width="5.8" height="7.2" fill="#ffec50"/><rect x="12.9" y="27.2" width="5.8" height="7.2" fill="#f8b448"/><rect x="18.1" y="27.2" width="5.8" height="7.2" fill="#fcd470"/><rect x="23.3" y="27.2" width="5.8" height="7.2" fill="#ffec50"/><rect x="28.5" y="27.2" width="5.8" height="7.2" fill="#ffff00"/><rect x="33.7" y="27.2" width="5.8" height="7.2" fill="#f8b448"/><rect x="38.9" y="27.2" width="11.0" height="7.2" fill="#ffff00"/><rect x="49.3" y="27.2" width="5.8" height="7.2" fill="#ffec50"/><rect x="54.5" y="27.2" width="5.8" height="7.2" fill="#64e6aa"/><rect x="59.7" y="27.2" width="5.8" height="7.2" fill="#28c8f0"/><rect x="64.9" y="27.2" width="21.4" height="7.2" fill="#2896f0"/><rect x="85.7" y="27.2" width="5.8" height="7.2" fill="#28c8f0"/><rect x="90.9" y="27.2" width="47.4" height="7.2" fill="#2896f0"/><rect x="2.5" y="33.8" width="5.8" height="7.2" fill="#64e6aa"/><rect x="7.7" y="33.8" width="11.0" height="7.2" fill="#ffec50"/><rect x="18.1" y="33.8" width="5.8" height="7.2" fill="#f8b448"/><rect x="23.3" y="33.8" width="5.8" height="7.2" fill="#ffff00"/><rect x="28.5" y="33.8" width="5.8" height="7.2" fill="#fcd470"/><rect x="33.7" y="33.8" width="5.8" height="7.2" fill="#b00000"/><rect x="38.9" y="33.8" width="5.8" height="7.2" fill="#f8b448"/><rect x="44.1" y="33.8" width="5.8" height="7.2" fill="#ffff00"/><rect x="49.3" y="33.8" width="5.8" height="7.2" fill="#ffec50"/><rect x="54.5" y="33.8" width="5.8" height="7.2" fill="#64e6aa"/><rect x="59.7" y="33.8" width="5.8" height="7.2" fill="#28c8f0"/><rect x="64.9" y="33.8" width="5.8" height="7.2" fill="#2896f0"/><rect x="70.1" y="33.8" width="11.0" height="7.2" fill="#1040e8"/><rect x="80.5" y="33.8" width="5.8" height="7.2" fill="#1e64f0"/><rect x="85.7" y="33.8" width="37.0" height="7.2" fill="#2896f0"/><rect x="122.1" y="33.8" width="5.8" height="7.2" fill="#28c8f0"/><rect x="2.5" y="40.4" width="5.8" height="7.2" fill="#b4f0e0"/><rect x="7.7" y="40.4" width="5.8" height="7.2" fill="#64e6aa"/><rect x="12.9" y="40.4" width="5.8" height="7.2" fill="#ffec50"/><rect x="18.1" y="40.4" width="5.8" height="7.2" fill="#fcd470"/><rect x="23.3" y="40.4" width="5.8" height="7.2" fill="#f8b448"/><rect x="28.5" y="40.4" width="5.8" height="7.2" fill="#f05a10"/><rect x="33.7" y="40.4" width="5.8" height="7.2" fill="#b00000"/><rect x="38.9" y="40.4" width="5.8" height="7.2" fill="#f8b448"/><rect x="44.1" y="40.4" width="5.8" height="7.2" fill="#ffff00"/><rect x="49.3" y="40.4" width="5.8" height="7.2" fill="#ffec50"/><rect x="54.5" y="40.4" width="5.8" height="7.2" fill="#64e6aa"/><rect x="59.7" y="40.4" width="5.8" height="7.2" fill="#2896f0"/><rect x="64.9" y="40.4" width="5.8" height="7.2" fill="#1040e8"/><rect x="70.1" y="40.4" width="5.8" height="7.2" fill="#0818d0"/><rect x="75.3" y="40.4" width="5.8" height="7.2" fill="#1040e8"/><rect x="80.5" y="40.4" width="5.8" height="7.2" fill="#1e64f0"/><rect x="85.7" y="40.4" width="5.8" height="7.2" fill="#1040e8"/><rect x="90.9" y="40.4" width="5.8" height="7.2" fill="#1e64f0"/><rect x="96.1" y="40.4" width="5.8" height="7.2" fill="#1040e8"/><rect x="101.3" y="40.4" width="11.0" height="7.2" fill="#1e64f0"/><rect x="111.7" y="40.4" width="5.8" height="7.2" fill="#1040e8"/><rect x="116.9" y="40.4" width="5.8" height="7.2" fill="#1e64f0"/><rect x="122.1" y="40.4" width="5.8" height="7.2" fill="#ffffff"/><rect x="7.7" y="47.1" width="5.8" height="7.2" fill="#64e6aa"/><rect x="12.9" y="47.1" width="5.8" height="7.2" fill="#b4f0e0"/><rect x="18.1" y="47.1" width="5.8" height="7.2" fill="#f8b448"/><rect x="23.3" y="47.1" width="5.8" height="7.2" fill="#e61400"/><rect x="28.5" y="47.1" width="5.8" height="7.2" fill="#f8b448"/><rect x="33.7" y="47.1" width="11.0" height="7.2" fill="#ffec50"/><rect x="44.1" y="47.1" width="5.8" height="7.2" fill="#ffff00"/><rect x="49.3" y="47.1" width="5.8" height="7.2" fill="#ffec50"/><rect x="54.5" y="47.1" width="5.8" height="7.2" fill="#64e6aa"/><rect x="59.7" y="47.1" width="5.8" height="7.2" fill="#2896f0"/><rect x="64.9" y="47.1" width="16.2" height="7.2" fill="#0818d0"/><rect x="80.5" y="47.1" width="5.8" height="7.2" fill="#1040e8"/><rect x="85.7" y="47.1" width="5.8" height="7.2" fill="#0818d0"/><rect x="90.9" y="47.1" width="5.8" height="7.2" fill="#1040e8"/><rect x="96.1" y="47.1" width="5.8" height="7.2" fill="#0818d0"/><rect x="101.3" y="47.1" width="21.4" height="7.2" fill="#1040e8"/><rect x="122.1" y="47.1" width="5.8" height="7.2" fill="#2896f0"/><rect x="12.9" y="53.7" width="5.8" height="7.2" fill="#b4f0e0"/><rect x="18.1" y="53.7" width="5.8" height="7.2" fill="#ffec50"/><rect x="23.3" y="53.7" width="5.8" height="7.2" fill="#f8b448"/><rect x="28.5" y="53.7" width="5.8" height="7.2" fill="#fcd470"/><rect x="33.7" y="53.7" width="5.8" height="7.2" fill="#ffec50"/><rect x="38.9" y="53.7" width="5.8" height="7.2" fill="#ffff00"/><rect x="44.1" y="53.7" width="11.0" height="7.2" fill="#ffec50"/><rect x="54.5" y="53.7" width="5.8" height="7.2" fill="#28c8f0"/><rect x="59.7" y="53.7" width="5.8" height="7.2" fill="#2896f0"/><rect x="64.9" y="53.7" width="5.8" height="7.2" fill="#1040e8"/><rect x="70.1" y="53.7" width="11.0" height="7.2" fill="#0818d0"/><rect x="80.5" y="53.7" width="5.8" height="7.2" fill="#1040e8"/><rect x="85.7" y="53.7" width="5.8" height="7.2" fill="#0818d0"/><rect x="90.9" y="53.7" width="5.8" height="7.2" fill="#1040e8"/><rect x="96.1" y="53.7" width="5.8" height="7.2" fill="#0818d0"/><rect x="101.3" y="53.7" width="5.8" height="7.2" fill="#1040e8"/><rect x="106.5" y="53.7" width="5.8" height="7.2" fill="#1e64f0"/><rect x="111.7" y="53.7" width="5.8" height="7.2" fill="#2896f0"/><rect x="23.3" y="60.4" width="5.8" height="7.2" fill="#ffec50"/><rect x="28.5" y="60.4" width="16.2" height="7.2" fill="#ffff00"/><rect x="44.1" y="60.4" width="5.8" height="7.2" fill="#ffec50"/><rect x="49.3" y="60.4" width="5.8" height="7.2" fill="#f05a10"/><rect x="54.5" y="60.4" width="5.8" height="7.2" fill="#64e6aa"/><rect x="59.7" y="60.4" width="5.8" height="7.2" fill="#2896f0"/><rect x="64.9" y="60.4" width="5.8" height="7.2" fill="#1e64f0"/><rect x="70.1" y="60.4" width="5.8" height="7.2" fill="#1040e8"/><rect x="75.3" y="60.4" width="5.8" height="7.2" fill="#0818d0"/><rect x="80.5" y="60.4" width="11.0" height="7.2" fill="#1040e8"/><rect x="90.9" y="60.4" width="5.8" height="7.2" fill="#1e64f0"/><rect x="96.1" y="60.4" width="11.0" height="7.2" fill="#2896f0"/><rect x="106.5" y="60.4" width="5.8" height="7.2" fill="#28c8f0"/><rect x="54.5" y="67.0" width="5.8" height="7.2" fill="#64e6aa"/><rect x="59.7" y="67.0" width="5.8" height="7.2" fill="#2896f0"/><rect x="64.9" y="67.0" width="5.8" height="7.2" fill="#1e64f0"/><rect x="70.1" y="67.0" width="11.0" height="7.2" fill="#1040e8"/><rect x="106.5" y="67.0" width="11.0" height="7.2" fill="#28c8f0"/><rect x="64.9" y="73.6" width="5.8" height="7.2" fill="#1e64f0"/><rect x="70.1" y="73.6" width="5.8" height="7.2" fill="#2896f0"/><rect x="106.5" y="73.6" width="11.0" height="7.2" fill="#28c8f0"/><rect x="70.1" y="80.3" width="5.8" height="7.2" fill="#2896f0"/><rect x="111.7" y="80.3" width="5.8" height="7.2" fill="#1e64f0"/></g></g><use href="#st"/></g><rect x="465.23" y="46.30" width="152.90" height="87.10" fill="none" stroke="#474747" stroke-width="1.1"/><path d="M477.88 133.40v-2M477.88 46.30v2M503.88 133.40v-2M503.88 46.30v2M529.88 133.40v-2M529.88 46.30v2M555.88 133.40v-2M555.88 46.30v2M581.88 133.40v-2M581.88 46.30v2M607.88 133.40v-2M607.88 46.30v2M465.23 129.70h2M618.13 129.70h-2M465.23 113.10h2M618.13 113.10h-2M465.23 96.50h2M618.13 96.50h-2M465.23 79.90h2M618.13 79.90h-2M465.23 63.30h2M618.13 63.30h-2" stroke="#474747" stroke-width="0.9"/><g font-size="12.2" fill="#333"><text x="476.08" y="149.70" text-anchor="middle" textLength="17.5" lengthAdjust="spacingAndGlyphs">-120</text><text x="502.08" y="149.70" text-anchor="middle" textLength="17.5" lengthAdjust="spacingAndGlyphs">-110</text><text x="528.08" y="149.70" text-anchor="middle" textLength="17.5" lengthAdjust="spacingAndGlyphs">-100</text><text x="554.08" y="149.70" text-anchor="middle" textLength="12.9" lengthAdjust="spacingAndGlyphs">-90</text><text x="580.08" y="149.70" text-anchor="middle" textLength="12.9" lengthAdjust="spacingAndGlyphs">-80</text><text x="606.08" y="149.70" text-anchor="middle" textLength="12.9" lengthAdjust="spacingAndGlyphs">-70</text><text x="461.33" y="135.10" text-anchor="end" textLength="10" lengthAdjust="spacingAndGlyphs">25</text><text x="461.33" y="118.50" text-anchor="end" textLength="10" lengthAdjust="spacingAndGlyphs">30</text><text x="461.33" y="101.90" text-anchor="end" textLength="10" lengthAdjust="spacingAndGlyphs">35</text><text x="461.33" y="85.30" text-anchor="end" textLength="10" lengthAdjust="spacingAndGlyphs">40</text><text x="461.33" y="68.70" text-anchor="end" textLength="10" lengthAdjust="spacingAndGlyphs">45</text></g><text transform="translate(542.83 40.10) scale(0.82 1)" font-size="18" text-anchor="middle" fill="#000">(c)</text><g transform="translate(665.27 45.80) scale(1 1.0000)"><g clip-path="url(#us)"><g filter="url(#bl)"><rect x="-2.7" y="-1.1" width="5.8" height="8.9" fill="#64e6aa"/><rect x="2.5" y="-1.1" width="11.0" height="8.9" fill="#b4f0e0"/><rect x="12.9" y="-1.1" width="5.8" height="8.9" fill="#64e6aa"/><rect x="18.1" y="-1.1" width="5.8" height="8.9" fill="#b4f0e0"/><rect x="23.3" y="-1.1" width="5.8" height="8.9" fill="#f8b448"/><rect x="28.5" y="-1.1" width="5.8" height="8.9" fill="#fcd470"/><rect x="33.7" y="-1.1" width="5.8" height="8.9" fill="#f8b448"/><rect x="38.9" y="-1.1" width="5.8" height="8.9" fill="#ffa000"/><rect x="44.1" y="-1.1" width="5.8" height="8.9" fill="#f05a10"/><rect x="49.3" y="-1.1" width="5.8" height="8.9" fill="#b00000"/><rect x="54.5" y="-1.1" width="37.0" height="8.9" fill="#7a0000"/><rect x="-2.7" y="7.2" width="5.8" height="7.2" fill="#64e6aa"/><rect x="2.5" y="7.2" width="5.8" height="7.2" fill="#ffec50"/><rect x="7.7" y="7.2" width="11.0" height="7.2" fill="#ffff00"/><rect x="18.1" y="7.2" width="5.8" height="7.2" fill="#ffec50"/><rect x="23.3" y="7.2" width="5.8" height="7.2" fill="#fcd470"/><rect x="28.5" y="7.2" width="5.8" height="7.2" fill="#f8b448"/><rect x="33.7" y="7.2" width="5.8" height="7.2" fill="#f05a10"/><rect x="38.9" y="7.2" width="5.8" height="7.2" fill="#e61400"/><rect x="44.1" y="7.2" width="5.8" height="7.2" fill="#b00000"/><rect x="49.3" y="7.2" width="57.8" height="7.2" fill="#7a0000"/><rect x="137.7" y="7.2" width="5.8" height="7.2" fill="#7a0000"/><rect x="142.9" y="7.2" width="5.8" height="7.2" fill="#b00000"/><rect x="148.1" y="7.2" width="5.8" height="7.2" fill="#f05a10"/><rect x="-2.7" y="13.9" width="5.8" height="7.2" fill="#64e6aa"/><rect x="2.5" y="13.9" width="11.0" height="7.2" fill="#ffff00"/><rect x="12.9" y="13.9" width="5.8" height="7.2" fill="#ffec50"/><rect x="18.1" y="13.9" width="11.0" height="7.2" fill="#fcd470"/><rect x="28.5" y="13.9" width="5.8" height="7.2" fill="#f8b448"/><rect x="33.7" y="13.9" width="5.8" height="7.2" fill="#e61400"/><rect x="38.9" y="13.9" width="5.8" height="7.2" fill="#f05a10"/><rect x="44.1" y="13.9" width="5.8" height="7.2" fill="#e61400"/><rect x="49.3" y="13.9" width="5.8" height="7.2" fill="#b00000"/><rect x="54.5" y="13.9" width="57.8" height="7.2" fill="#7a0000"/><rect x="116.9" y="13.9" width="26.6" height="7.2" fill="#7a0000"/><rect x="142.9" y="13.9" width="5.8" height="7.2" fill="#b00000"/><rect x="148.1" y="13.9" width="5.8" height="7.2" fill="#f05a10"/><rect x="-2.7" y="20.5" width="5.8" height="7.2" fill="#64e6aa"/><rect x="2.5" y="20.5" width="5.8" height="7.2" fill="#ffec50"/><rect x="7.7" y="20.5" width="5.8" height="7.2" fill="#ffff00"/><rect x="12.9" y="20.5" width="5.8" height="7.2" fill="#ffec50"/><rect x="18.1" y="20.5" width="11.0" height="7.2" fill="#fcd470"/><rect x="28.5" y="20.5" width="5.8" height="7.2" fill="#f8b448"/><rect x="33.7" y="20.5" width="5.8" height="7.2" fill="#f05a10"/><rect x="38.9" y="20.5" width="5.8" height="7.2" fill="#e61400"/><rect x="44.1" y="20.5" width="5.8" height="7.2" fill="#b00000"/><rect x="49.3" y="20.5" width="78.6" height="7.2" fill="#7a0000"/><rect x="127.3" y="20.5" width="5.8" height="7.2" fill="#b00000"/><rect x="132.5" y="20.5" width="11.0" height="7.2" fill="#7a0000"/><rect x="-2.7" y="27.2" width="11.0" height="7.2" fill="#64e6aa"/><rect x="7.7" y="27.2" width="5.8" height="7.2" fill="#ffec50"/><rect x="12.9" y="27.2" width="11.0" height="7.2" fill="#fcd470"/><rect x="23.3" y="27.2" width="11.0" height="7.2" fill="#f8b448"/><rect x="33.7" y="27.2" width="5.8" height="7.2" fill="#f05a10"/><rect x="38.9" y="27.2" width="5.8" height="7.2" fill="#e61400"/><rect x="44.1" y="27.2" width="11.0" height="7.2" fill="#b00000"/><rect x="54.5" y="27.2" width="47.4" height="7.2" fill="#7a0000"/><rect x="101.3" y="27.2" width="5.8" height="7.2" fill="#b00000"/><rect x="106.5" y="27.2" width="11.0" height="7.2" fill="#7a0000"/><rect x="116.9" y="27.2" width="5.8" height="7.2" fill="#b00000"/><rect x="122.1" y="27.2" width="11.0" height="7.2" fill="#7a0000"/><rect x="132.5" y="27.2" width="5.8" height="7.2" fill="#b00000"/><rect x="2.5" y="33.8" width="5.8" height="7.2" fill="#64e6aa"/><rect x="7.7" y="33.8" width="5.8" height="7.2" fill="#ffec50"/><rect x="12.9" y="33.8" width="5.8" height="7.2" fill="#fcd470"/><rect x="18.1" y="33.8" width="16.2" height="7.2" fill="#f8b448"/><rect x="33.7" y="33.8" width="11.0" height="7.2" fill="#f05a10"/><rect x="44.1" y="33.8" width="5.8" height="7.2" fill="#e61400"/><rect x="49.3" y="33.8" width="11.0" height="7.2" fill="#b00000"/><rect x="59.7" y="33.8" width="37.0" height="7.2" fill="#7a0000"/><rect x="96.1" y="33.8" width="21.4" height="7.2" fill="#b00000"/><rect x="116.9" y="33.8" width="5.8" height="7.2" fill="#7a0000"/><rect x="122.1" y="33.8" width="5.8" height="7.2" fill="#b00000"/><rect x="2.5" y="40.4" width="5.8" height="7.2" fill="#b4f0e0"/><rect x="7.7" y="40.4" width="5.8" height="7.2" fill="#ffff00"/><rect x="12.9" y="40.4" width="5.8" height="7.2" fill="#ffec50"/><rect x="18.1" y="40.4" width="5.8" height="7.2" fill="#fcd470"/><rect x="23.3" y="40.4" width="21.4" height="7.2" fill="#f8b448"/><rect x="44.1" y="40.4" width="5.8" height="7.2" fill="#f05a10"/><rect x="49.3" y="40.4" width="5.8" height="7.2" fill="#e61400"/><rect x="54.5" y="40.4" width="5.8" height="7.2" fill="#b00000"/><rect x="59.7" y="40.4" width="21.4" height="7.2" fill="#7a0000"/><rect x="80.5" y="40.4" width="11.0" height="7.2" fill="#b00000"/><rect x="90.9" y="40.4" width="21.4" height="7.2" fill="#e61400"/><rect x="111.7" y="40.4" width="11.0" height="7.2" fill="#f05a10"/><rect x="122.1" y="40.4" width="5.8" height="7.2" fill="#f8b448"/><rect x="7.7" y="47.1" width="5.8" height="7.2" fill="#fcd470"/><rect x="12.9" y="47.1" width="5.8" height="7.2" fill="#f8b448"/><rect x="18.1" y="47.1" width="5.8" height="7.2" fill="#fcd470"/><rect x="23.3" y="47.1" width="5.8" height="7.2" fill="#f8b448"/><rect x="28.5" y="47.1" width="5.8" height="7.2" fill="#fcd470"/><rect x="33.7" y="47.1" width="5.8" height="7.2" fill="#f8b448"/><rect x="38.9" y="47.1" width="5.8" height="7.2" fill="#fcd470"/><rect x="44.1" y="47.1" width="5.8" height="7.2" fill="#f8b448"/><rect x="49.3" y="47.1" width="5.8" height="7.2" fill="#f05a10"/><rect x="54.5" y="47.1" width="5.8" height="7.2" fill="#b00000"/><rect x="59.7" y="47.1" width="11.0" height="7.2" fill="#7a0000"/><rect x="70.1" y="47.1" width="5.8" height="7.2" fill="#b00000"/><rect x="75.3" y="47.1" width="11.0" height="7.2" fill="#7a0000"/><rect x="85.7" y="47.1" width="5.8" height="7.2" fill="#e61400"/><rect x="90.9" y="47.1" width="5.8" height="7.2" fill="#f05a10"/><rect x="96.1" y="47.1" width="5.8" height="7.2" fill="#e61400"/><rect x="101.3" y="47.1" width="5.8" height="7.2" fill="#f05a10"/><rect x="106.5" y="47.1" width="11.0" height="7.2" fill="#f8b448"/><rect x="116.9" y="47.1" width="5.8" height="7.2" fill="#ffa000"/><rect x="122.1" y="47.1" width="5.8" height="7.2" fill="#f8b448"/><rect x="12.9" y="53.7" width="5.8" height="7.2" fill="#fcd470"/><rect x="18.1" y="53.7" width="5.8" height="7.2" fill="#f8b448"/><rect x="23.3" y="53.7" width="5.8" height="7.2" fill="#fcd470"/><rect x="28.5" y="53.7" width="5.8" height="7.2" fill="#f8b448"/><rect x="33.7" y="53.7" width="11.0" height="7.2" fill="#fcd470"/><rect x="44.1" y="53.7" width="11.0" height="7.2" fill="#f8b448"/><rect x="54.5" y="53.7" width="5.8" height="7.2" fill="#b00000"/><rect x="59.7" y="53.7" width="5.8" height="7.2" fill="#e61400"/><rect x="64.9" y="53.7" width="5.8" height="7.2" fill="#b00000"/><rect x="70.1" y="53.7" width="5.8" height="7.2" fill="#e61400"/><rect x="75.3" y="53.7" width="11.0" height="7.2" fill="#b00000"/><rect x="85.7" y="53.7" width="5.8" height="7.2" fill="#e61400"/><rect x="90.9" y="53.7" width="5.8" height="7.2" fill="#f05a10"/><rect x="96.1" y="53.7" width="5.8" height="7.2" fill="#e61400"/><rect x="101.3" y="53.7" width="11.0" height="7.2" fill="#f8b448"/><rect x="111.7" y="53.7" width="5.8" height="7.2" fill="#fcd470"/><rect x="23.3" y="60.4" width="11.0" height="7.2" fill="#fcd470"/><rect x="33.7" y="60.4" width="5.8" height="7.2" fill="#f8b448"/><rect x="38.9" y="60.4" width="5.8" height="7.2" fill="#fcd470"/><rect x="44.1" y="60.4" width="11.0" height="7.2" fill="#f8b448"/><rect x="54.5" y="60.4" width="5.8" height="7.2" fill="#f05a10"/><rect x="59.7" y="60.4" width="5.8" height="7.2" fill="#e61400"/><rect x="64.9" y="60.4" width="5.8" height="7.2" fill="#f8b448"/><rect x="70.1" y="60.4" width="5.8" height="7.2" fill="#e61400"/><rect x="75.3" y="60.4" width="5.8" height="7.2" fill="#f05a10"/><rect x="80.5" y="60.4" width="5.8" height="7.2" fill="#e61400"/><rect x="85.7" y="60.4" width="5.8" height="7.2" fill="#f05a10"/><rect x="90.9" y="60.4" width="11.0" height="7.2" fill="#f8b448"/><rect x="101.3" y="60.4" width="5.8" height="7.2" fill="#ffa000"/><rect x="106.5" y="60.4" width="5.8" height="7.2" fill="#f8b448"/><rect x="54.5" y="67.0" width="11.0" height="7.2" fill="#f8b448"/><rect x="64.9" y="67.0" width="5.8" height="7.2" fill="#fcd470"/><rect x="70.1" y="67.0" width="11.0" height="7.2" fill="#f8b448"/><rect x="106.5" y="67.0" width="5.8" height="7.2" fill="#fcd470"/><rect x="111.7" y="67.0" width="5.8" height="7.2" fill="#ffec50"/><rect x="64.9" y="73.6" width="11.0" height="7.2" fill="#fcd470"/><rect x="106.5" y="73.6" width="5.8" height="7.2" fill="#ffec50"/><rect x="111.7" y="73.6" width="5.8" height="7.2" fill="#ffff00"/><rect x="70.1" y="80.3" width="5.8" height="7.2" fill="#f8b448"/><rect x="111.7" y="80.3" width="5.8" height="7.2" fill="#ffff00"/></g></g><use href="#st"/></g><rect x="665.77" y="46.30" width="152.90" height="87.10" fill="none" stroke="#474747" stroke-width="1.1"/><path d="M678.42 133.40v-2M678.42 46.30v2M704.42 133.40v-2M704.42 46.30v2M730.42 133.40v-2M730.42 46.30v2M756.42 133.40v-2M756.42 46.30v2M782.42 133.40v-2M782.42 46.30v2M808.42 133.40v-2M808.42 46.30v2M665.77 129.70h2M818.67 129.70h-2M665.77 113.10h2M818.67 113.10h-2M665.77 96.50h2M818.67 96.50h-2M665.77 79.90h2M818.67 79.90h-2M665.77 63.30h2M818.67 63.30h-2" stroke="#474747" stroke-width="0.9"/><g font-size="12.2" fill="#333"><text x="676.62" y="149.70" text-anchor="middle" textLength="17.5" lengthAdjust="spacingAndGlyphs">-120</text><text x="702.62" y="149.70" text-anchor="middle" textLength="17.5" lengthAdjust="spacingAndGlyphs">-110</text><text x="728.62" y="149.70" text-anchor="middle" textLength="17.5" lengthAdjust="spacingAndGlyphs">-100</text><text x="754.62" y="149.70" text-anchor="middle" textLength="12.9" lengthAdjust="spacingAndGlyphs">-90</text><text x="780.62" y="149.70" text-anchor="middle" textLength="12.9" lengthAdjust="spacingAndGlyphs">-80</text><text x="806.62" y="149.70" text-anchor="middle" textLength="12.9" lengthAdjust="spacingAndGlyphs">-70</text><text x="661.87" y="135.10" text-anchor="end" textLength="10" lengthAdjust="spacingAndGlyphs">25</text><text x="661.87" y="118.50" text-anchor="end" textLength="10" lengthAdjust="spacingAndGlyphs">30</text><text x="661.87" y="101.90" text-anchor="end" textLength="10" lengthAdjust="spacingAndGlyphs">35</text><text x="661.87" y="85.30" text-anchor="end" textLength="10" lengthAdjust="spacingAndGlyphs">40</text><text x="661.87" y="68.70" text-anchor="end" textLength="10" lengthAdjust="spacingAndGlyphs">45</text></g><text transform="translate(741.87 40.10) scale(0.82 1)" font-size="18" text-anchor="middle" fill="#000">(d)</text><g transform="translate(865.81 45.80) scale(1 1.0000)"><g clip-path="url(#us)"><g filter="url(#bl)"><rect x="-2.7" y="-1.1" width="5.8" height="8.9" fill="#28c8f0"/><rect x="2.5" y="-1.1" width="5.8" height="8.9" fill="#1e64f0"/><rect x="7.7" y="-1.1" width="5.8" height="8.9" fill="#ffec50"/><rect x="12.9" y="-1.1" width="5.8" height="8.9" fill="#28c8f0"/><rect x="18.1" y="-1.1" width="5.8" height="8.9" fill="#ffec50"/><rect x="23.3" y="-1.1" width="5.8" height="8.9" fill="#ffff00"/><rect x="28.5" y="-1.1" width="11.0" height="8.9" fill="#ffec50"/><rect x="38.9" y="-1.1" width="5.8" height="8.9" fill="#ffff00"/><rect x="44.1" y="-1.1" width="5.8" height="8.9" fill="#f8b448"/><rect x="49.3" y="-1.1" width="5.8" height="8.9" fill="#f05a10"/><rect x="54.5" y="-1.1" width="5.8" height="8.9" fill="#b00000"/><rect x="59.7" y="-1.1" width="31.8" height="8.9" fill="#7a0000"/><rect x="-2.7" y="7.2" width="5.8" height="7.2" fill="#28c8f0"/><rect x="2.5" y="7.2" width="5.8" height="7.2" fill="#2896f0"/><rect x="7.7" y="7.2" width="5.8" height="7.2" fill="#28c8f0"/><rect x="12.9" y="7.2" width="5.8" height="7.2" fill="#64e6aa"/><rect x="18.1" y="7.2" width="5.8" height="7.2" fill="#ffec50"/><rect x="23.3" y="7.2" width="5.8" height="7.2" fill="#28c8f0"/><rect x="28.5" y="7.2" width="5.8" height="7.2" fill="#64e6aa"/><rect x="33.7" y="7.2" width="11.0" height="7.2" fill="#ffec50"/><rect x="44.1" y="7.2" width="5.8" height="7.2" fill="#ffff00"/><rect x="49.3" y="7.2" width="5.8" height="7.2" fill="#ffec50"/><rect x="54.5" y="7.2" width="5.8" height="7.2" fill="#e61400"/><rect x="59.7" y="7.2" width="47.4" height="7.2" fill="#7a0000"/><rect x="137.7" y="7.2" width="5.8" height="7.2" fill="#b00000"/><rect x="142.9" y="7.2" width="5.8" height="7.2" fill="#e61400"/><rect x="148.1" y="7.2" width="5.8" height="7.2" fill="#f05a10"/><rect x="-2.7" y="13.9" width="5.8" height="7.2" fill="#28c8f0"/><rect x="2.5" y="13.9" width="5.8" height="7.2" fill="#2896f0"/><rect x="7.7" y="13.9" width="5.8" height="7.2" fill="#1e64f0"/><rect x="12.9" y="13.9" width="5.8" height="7.2" fill="#2896f0"/><rect x="18.1" y="13.9" width="5.8" height="7.2" fill="#28c8f0"/><rect x="23.3" y="13.9" width="5.8" height="7.2" fill="#1e64f0"/><rect x="28.5" y="13.9" width="5.8" height="7.2" fill="#2896f0"/><rect x="33.7" y="13.9" width="5.8" height="7.2" fill="#28c8f0"/><rect x="38.9" y="13.9" width="5.8" height="7.2" fill="#2896f0"/><rect x="44.1" y="13.9" width="5.8" height="7.2" fill="#28c8f0"/><rect x="49.3" y="13.9" width="5.8" height="7.2" fill="#ffff00"/><rect x="54.5" y="13.9" width="5.8" height="7.2" fill="#f8b448"/><rect x="59.7" y="13.9" width="5.8" height="7.2" fill="#b00000"/><rect x="64.9" y="13.9" width="37.0" height="7.2" fill="#7a0000"/><rect x="101.3" y="13.9" width="11.0" height="7.2" fill="#e61400"/><rect x="116.9" y="13.9" width="16.2" height="7.2" fill="#b00000"/><rect x="132.5" y="13.9" width="5.8" height="7.2" fill="#7a0000"/><rect x="137.7" y="13.9" width="5.8" height="7.2" fill="#b00000"/><rect x="142.9" y="13.9" width="5.8" height="7.2" fill="#e61400"/><rect x="148.1" y="13.9" width="5.8" height="7.2" fill="#f05a10"/><rect x="-2.7" y="20.5" width="5.8" height="7.2" fill="#28c8f0"/><rect x="2.5" y="20.5" width="5.8" height="7.2" fill="#1e64f0"/><rect x="7.7" y="20.5" width="16.2" height="7.2" fill="#2896f0"/><rect x="23.3" y="20.5" width="5.8" height="7.2" fill="#1e64f0"/><rect x="28.5" y="20.5" width="21.4" height="7.2" fill="#28c8f0"/><rect x="49.3" y="20.5" width="11.0" height="7.2" fill="#ffff00"/><rect x="59.7" y="20.5" width="5.8" height="7.2" fill="#f8b448"/><rect x="64.9" y="20.5" width="5.8" height="7.2" fill="#b00000"/><rect x="70.1" y="20.5" width="21.4" height="7.2" fill="#7a0000"/><rect x="90.9" y="20.5" width="11.0" height="7.2" fill="#b00000"/><rect x="101.3" y="20.5" width="5.8" height="7.2" fill="#f05a10"/><rect x="106.5" y="20.5" width="5.8" height="7.2" fill="#e61400"/><rect x="111.7" y="20.5" width="5.8" height="7.2" fill="#b00000"/><rect x="116.9" y="20.5" width="5.8" height="7.2" fill="#7a0000"/><rect x="122.1" y="20.5" width="16.2" height="7.2" fill="#b00000"/><rect x="137.7" y="20.5" width="5.8" height="7.2" fill="#f05a10"/><rect x="-2.7" y="27.2" width="5.8" height="7.2" fill="#64e6aa"/><rect x="2.5" y="27.2" width="5.8" height="7.2" fill="#ffec50"/><rect x="7.7" y="27.2" width="5.8" height="7.2" fill="#28c8f0"/><rect x="12.9" y="27.2" width="16.2" height="7.2" fill="#1e64f0"/><rect x="28.5" y="27.2" width="5.8" height="7.2" fill="#2896f0"/><rect x="33.7" y="27.2" width="5.8" height="7.2" fill="#1e64f0"/><rect x="38.9" y="27.2" width="5.8" height="7.2" fill="#28c8f0"/><rect x="44.1" y="27.2" width="5.8" height="7.2" fill="#2896f0"/><rect x="49.3" y="27.2" width="5.8" height="7.2" fill="#28c8f0"/><rect x="54.5" y="27.2" width="5.8" height="7.2" fill="#ffec50"/><rect x="59.7" y="27.2" width="5.8" height="7.2" fill="#b00000"/><rect x="64.9" y="27.2" width="31.8" height="7.2" fill="#7a0000"/><rect x="96.1" y="27.2" width="16.2" height="7.2" fill="#b00000"/><rect x="111.7" y="27.2" width="5.8" height="7.2" fill="#7a0000"/><rect x="116.9" y="27.2" width="16.2" height="7.2" fill="#b00000"/><rect x="132.5" y="27.2" width="5.8" height="7.2" fill="#e61400"/><rect x="2.5" y="33.8" width="5.8" height="7.2" fill="#28c8f0"/><rect x="7.7" y="33.8" width="5.8" height="7.2" fill="#64e6aa"/><rect x="12.9" y="33.8" width="5.8" height="7.2" fill="#1e64f0"/><rect x="18.1" y="33.8" width="5.8" height="7.2" fill="#0818d0"/><rect x="23.3" y="33.8" width="11.0" height="7.2" fill="#1e64f0"/><rect x="33.7" y="33.8" width="5.8" height="7.2" fill="#0818d0"/><rect x="38.9" y="33.8" width="5.8" height="7.2" fill="#1e64f0"/><rect x="44.1" y="33.8" width="5.8" height="7.2" fill="#2896f0"/><rect x="49.3" y="33.8" width="5.8" height="7.2" fill="#28c8f0"/><rect x="54.5" y="33.8" width="5.8" height="7.2" fill="#ffff00"/><rect x="59.7" y="33.8" width="5.8" height="7.2" fill="#f05a10"/><rect x="64.9" y="33.8" width="31.8" height="7.2" fill="#7a0000"/><rect x="96.1" y="33.8" width="11.0" height="7.2" fill="#b00000"/><rect x="106.5" y="33.8" width="5.8" height="7.2" fill="#7a0000"/><rect x="111.7" y="33.8" width="11.0" height="7.2" fill="#b00000"/><rect x="122.1" y="33.8" width="5.8" height="7.2" fill="#e61400"/><rect x="2.5" y="40.4" width="5.8" height="7.2" fill="#b4f0e0"/><rect x="7.7" y="40.4" width="5.8" height="7.2" fill="#28c8f0"/><rect x="12.9" y="40.4" width="5.8" height="7.2" fill="#2896f0"/><rect x="18.1" y="40.4" width="5.8" height="7.2" fill="#1e64f0"/><rect x="23.3" y="40.4" width="16.2" height="7.2" fill="#0818d0"/><rect x="38.9" y="40.4" width="5.8" height="7.2" fill="#1e64f0"/><rect x="44.1" y="40.4" width="5.8" height="7.2" fill="#2896f0"/><rect x="49.3" y="40.4" width="5.8" height="7.2" fill="#28c8f0"/><rect x="54.5" y="40.4" width="5.8" height="7.2" fill="#ffff00"/><rect x="59.7" y="40.4" width="5.8" height="7.2" fill="#e61400"/><rect x="64.9" y="40.4" width="26.6" height="7.2" fill="#7a0000"/><rect x="90.9" y="40.4" width="11.0" height="7.2" fill="#b00000"/><rect x="101.3" y="40.4" width="5.8" height="7.2" fill="#7a0000"/><rect x="106.5" y="40.4" width="16.2" height="7.2" fill="#b00000"/><rect x="122.1" y="40.4" width="5.8" height="7.2" fill="#e61400"/><rect x="7.7" y="47.1" width="5.8" height="7.2" fill="#28c8f0"/><rect x="12.9" y="47.1" width="5.8" height="7.2" fill="#2896f0"/><rect x="18.1" y="47.1" width="11.0" height="7.2" fill="#1e64f0"/><rect x="28.5" y="47.1" width="5.8" height="7.2" fill="#0818d0"/><rect x="33.7" y="47.1" width="5.8" height="7.2" fill="#1e64f0"/><rect x="38.9" y="47.1" width="5.8" height="7.2" fill="#28c8f0"/><rect x="44.1" y="47.1" width="5.8" height="7.2" fill="#2896f0"/><rect x="49.3" y="47.1" width="5.8" height="7.2" fill="#1e64f0"/><rect x="54.5" y="47.1" width="5.8" height="7.2" fill="#ffff00"/><rect x="59.7" y="47.1" width="5.8" height="7.2" fill="#e61400"/><rect x="64.9" y="47.1" width="16.2" height="7.2" fill="#7a0000"/><rect x="80.5" y="47.1" width="11.0" height="7.2" fill="#b00000"/><rect x="90.9" y="47.1" width="5.8" height="7.2" fill="#e61400"/><rect x="96.1" y="47.1" width="26.6" height="7.2" fill="#b00000"/><rect x="122.1" y="47.1" width="5.8" height="7.2" fill="#e61400"/><rect x="12.9" y="53.7" width="5.8" height="7.2" fill="#28c8f0"/><rect x="18.1" y="53.7" width="5.8" height="7.2" fill="#2896f0"/><rect x="23.3" y="53.7" width="5.8" height="7.2" fill="#1e64f0"/><rect x="28.5" y="53.7" width="5.8" height="7.2" fill="#2896f0"/><rect x="33.7" y="53.7" width="5.8" height="7.2" fill="#1e64f0"/><rect x="38.9" y="53.7" width="5.8" height="7.2" fill="#28c8f0"/><rect x="44.1" y="53.7" width="5.8" height="7.2" fill="#2896f0"/><rect x="49.3" y="53.7" width="5.8" height="7.2" fill="#1e64f0"/><rect x="54.5" y="53.7" width="5.8" height="7.2" fill="#ffec50"/><rect x="59.7" y="53.7" width="5.8" height="7.2" fill="#e61400"/><rect x="64.9" y="53.7" width="5.8" height="7.2" fill="#b00000"/><rect x="70.1" y="53.7" width="5.8" height="7.2" fill="#7a0000"/><rect x="75.3" y="53.7" width="16.2" height="7.2" fill="#b00000"/><rect x="90.9" y="53.7" width="5.8" height="7.2" fill="#e61400"/><rect x="96.1" y="53.7" width="11.0" height="7.2" fill="#b00000"/><rect x="106.5" y="53.7" width="5.8" height="7.2" fill="#e61400"/><rect x="111.7" y="53.7" width="5.8" height="7.2" fill="#f05a10"/><rect x="23.3" y="60.4" width="5.8" height="7.2" fill="#2896f0"/><rect x="28.5" y="60.4" width="5.8" height="7.2" fill="#1e64f0"/><rect x="33.7" y="60.4" width="5.8" height="7.2" fill="#2896f0"/><rect x="38.9" y="60.4" width="5.8" height="7.2" fill="#1e64f0"/><rect x="44.1" y="60.4" width="11.0" height="7.2" fill="#2896f0"/><rect x="54.5" y="60.4" width="5.8" height="7.2" fill="#ffec50"/><rect x="59.7" y="60.4" width="5.8" height="7.2" fill="#f05a10"/><rect x="64.9" y="60.4" width="5.8" height="7.2" fill="#e61400"/><rect x="70.1" y="60.4" width="5.8" height="7.2" fill="#b00000"/><rect x="75.3" y="60.4" width="5.8" height="7.2" fill="#e61400"/><rect x="80.5" y="60.4" width="5.8" height="7.2" fill="#b00000"/><rect x="85.7" y="60.4" width="5.8" height="7.2" fill="#e61400"/><rect x="90.9" y="60.4" width="5.8" height="7.2" fill="#f05a10"/><rect x="96.1" y="60.4" width="5.8" height="7.2" fill="#f8b448"/><rect x="101.3" y="60.4" width="5.8" height="7.2" fill="#e61400"/><rect x="106.5" y="60.4" width="5.8" height="7.2" fill="#f05a10"/><rect x="54.5" y="67.0" width="5.8" height="7.2" fill="#ffff00"/><rect x="59.7" y="67.0" width="5.8" height="7.2" fill="#f8b448"/><rect x="64.9" y="67.0" width="11.0" height="7.2" fill="#f05a10"/><rect x="75.3" y="67.0" width="5.8" height="7.2" fill="#e61400"/><rect x="106.5" y="67.0" width="5.8" height="7.2" fill="#f8b448"/><rect x="111.7" y="67.0" width="5.8" height="7.2" fill="#ffec50"/><rect x="64.9" y="73.6" width="5.8" height="7.2" fill="#ffec50"/><rect x="70.1" y="73.6" width="5.8" height="7.2" fill="#f8b448"/><rect x="106.5" y="73.6" width="5.8" height="7.2" fill="#ffff00"/><rect x="111.7" y="73.6" width="5.8" height="7.2" fill="#ffec50"/><rect x="70.1" y="80.3" width="5.8" height="7.2" fill="#f8b448"/><rect x="111.7" y="80.3" width="5.8" height="7.2" fill="#f8b448"/></g></g><use href="#st"/></g><rect x="866.31" y="46.30" width="152.90" height="87.10" fill="none" stroke="#474747" stroke-width="1.1"/><path d="M878.96 133.40v-2M878.96 46.30v2M904.96 133.40v-2M904.96 46.30v2M930.96 133.40v-2M930.96 46.30v2M956.96 133.40v-2M956.96 46.30v2M982.96 133.40v-2M982.96 46.30v2M1008.96 133.40v-2M1008.96 46.30v2M866.31 129.70h2M1019.21 129.70h-2M866.31 113.10h2M1019.21 113.10h-2M866.31 96.50h2M1019.21 96.50h-2M866.31 79.90h2M1019.21 79.90h-2M866.31 63.30h2M1019.21 63.30h-2" stroke="#474747" stroke-width="0.9"/><g font-size="12.2" fill="#333"><text x="877.16" y="149.70" text-anchor="middle" textLength="17.5" lengthAdjust="spacingAndGlyphs">-120</text><text x="903.16" y="149.70" text-anchor="middle" textLength="17.5" lengthAdjust="spacingAndGlyphs">-110</text><text x="929.16" y="149.70" text-anchor="middle" textLength="17.5" lengthAdjust="spacingAndGlyphs">-100</text><text x="955.16" y="149.70" text-anchor="middle" textLength="12.9" lengthAdjust="spacingAndGlyphs">-90</text><text x="981.16" y="149.70" text-anchor="middle" textLength="12.9" lengthAdjust="spacingAndGlyphs">-80</text><text x="1007.16" y="149.70" text-anchor="middle" textLength="12.9" lengthAdjust="spacingAndGlyphs">-70</text><text x="862.41" y="135.10" text-anchor="end" textLength="10" lengthAdjust="spacingAndGlyphs">25</text><text x="862.41" y="118.50" text-anchor="end" textLength="10" lengthAdjust="spacingAndGlyphs">30</text><text x="862.41" y="101.90" text-anchor="end" textLength="10" lengthAdjust="spacingAndGlyphs">35</text><text x="862.41" y="85.30" text-anchor="end" textLength="10" lengthAdjust="spacingAndGlyphs">40</text><text x="862.41" y="68.70" text-anchor="end" textLength="10" lengthAdjust="spacingAndGlyphs">45</text></g><text transform="translate(939.61 40.10) scale(0.82 1)" font-size="18" text-anchor="middle" fill="#000">(e)</text><g transform="translate(63.65 171.95) scale(1 0.9892)"><g clip-path="url(#us)"><g filter="url(#bl)"><rect x="-2.7" y="-1.1" width="5.8" height="8.9" fill="#64e6aa"/><rect x="2.5" y="-1.1" width="11.0" height="8.9" fill="#b4f0e0"/><rect x="12.9" y="-1.1" width="5.8" height="8.9" fill="#28c8f0"/><rect x="18.1" y="-1.1" width="5.8" height="8.9" fill="#b4f0e0"/><rect x="23.3" y="-1.1" width="5.8" height="8.9" fill="#ffec50"/><rect x="28.5" y="-1.1" width="5.8" height="8.9" fill="#ffff00"/><rect x="33.7" y="-1.1" width="11.0" height="8.9" fill="#ffec50"/><rect x="44.1" y="-1.1" width="5.8" height="8.9" fill="#fcd470"/><rect x="49.3" y="-1.1" width="5.8" height="8.9" fill="#ffff00"/><rect x="54.5" y="-1.1" width="5.8" height="8.9" fill="#b4f0e0"/><rect x="59.7" y="-1.1" width="31.8" height="8.9" fill="#ffff00"/><rect x="-2.7" y="7.2" width="5.8" height="7.2" fill="#64e6aa"/><rect x="2.5" y="7.2" width="5.8" height="7.2" fill="#b4f0e0"/><rect x="7.7" y="7.2" width="5.8" height="7.2" fill="#ffec50"/><rect x="12.9" y="7.2" width="5.8" height="7.2" fill="#28c8f0"/><rect x="18.1" y="7.2" width="5.8" height="7.2" fill="#b4f0e0"/><rect x="23.3" y="7.2" width="11.0" height="7.2" fill="#ffec50"/><rect x="33.7" y="7.2" width="5.8" height="7.2" fill="#fcd470"/><rect x="38.9" y="7.2" width="5.8" height="7.2" fill="#ffec50"/><rect x="44.1" y="7.2" width="5.8" height="7.2" fill="#fcd470"/><rect x="49.3" y="7.2" width="16.2" height="7.2" fill="#ffec50"/><rect x="64.9" y="7.2" width="21.4" height="7.2" fill="#ffff00"/><rect x="85.7" y="7.2" width="21.4" height="7.2" fill="#ffec50"/><rect x="137.7" y="7.2" width="16.2" height="7.2" fill="#b4f0e0"/><rect x="-2.7" y="13.9" width="5.8" height="7.2" fill="#64e6aa"/><rect x="2.5" y="13.9" width="5.8" height="7.2" fill="#b4f0e0"/><rect x="7.7" y="13.9" width="5.8" height="7.2" fill="#ffec50"/><rect x="12.9" y="13.9" width="5.8" height="7.2" fill="#b4f0e0"/><rect x="18.1" y="13.9" width="5.8" height="7.2" fill="#ffec50"/><rect x="23.3" y="13.9" width="5.8" height="7.2" fill="#ffff00"/><rect x="28.5" y="13.9" width="5.8" height="7.2" fill="#ffec50"/><rect x="33.7" y="13.9" width="5.8" height="7.2" fill="#fcd470"/><rect x="38.9" y="13.9" width="5.8" height="7.2" fill="#f8b448"/><rect x="44.1" y="13.9" width="11.0" height="7.2" fill="#fcd470"/><rect x="54.5" y="13.9" width="5.8" height="7.2" fill="#ffec50"/><rect x="59.7" y="13.9" width="11.0" height="7.2" fill="#fcd470"/><rect x="70.1" y="13.9" width="5.8" height="7.2" fill="#ffec50"/><rect x="75.3" y="13.9" width="11.0" height="7.2" fill="#ffff00"/><rect x="85.7" y="13.9" width="26.6" height="7.2" fill="#ffec50"/><rect x="116.9" y="13.9" width="11.0" height="7.2" fill="#ffec50"/><rect x="127.3" y="13.9" width="26.6" height="7.2" fill="#b4f0e0"/><rect x="-2.7" y="20.5" width="5.8" height="7.2" fill="#b4f0e0"/><rect x="2.5" y="20.5" width="5.8" height="7.2" fill="#64e6aa"/><rect x="7.7" y="20.5" width="5.8" height="7.2" fill="#b4f0e0"/><rect x="12.9" y="20.5" width="5.8" height="7.2" fill="#ffec50"/><rect x="18.1" y="20.5" width="16.2" height="7.2" fill="#fcd470"/><rect x="33.7" y="20.5" width="5.8" height="7.2" fill="#f8b448"/><rect x="38.9" y="20.5" width="5.8" height="7.2" fill="#f05a10"/><rect x="44.1" y="20.5" width="5.8" height="7.2" fill="#e61400"/><rect x="49.3" y="20.5" width="5.8" height="7.2" fill="#f8b448"/><rect x="54.5" y="20.5" width="5.8" height="7.2" fill="#fcd470"/><rect x="59.7" y="20.5" width="11.0" height="7.2" fill="#f8b448"/><rect x="70.1" y="20.5" width="16.2" height="7.2" fill="#fcd470"/><rect x="85.7" y="20.5" width="16.2" height="7.2" fill="#f8b448"/><rect x="101.3" y="20.5" width="5.8" height="7.2" fill="#ffec50"/><rect x="106.5" y="20.5" width="5.8" height="7.2" fill="#fcd470"/><rect x="111.7" y="20.5" width="21.4" height="7.2" fill="#ffec50"/><rect x="132.5" y="20.5" width="11.0" height="7.2" fill="#b4f0e0"/><rect x="-2.7" y="27.2" width="11.0" height="7.2" fill="#b4f0e0"/><rect x="7.7" y="27.2" width="5.8" height="7.2" fill="#ffec50"/><rect x="12.9" y="27.2" width="5.8" height="7.2" fill="#f05a10"/><rect x="18.1" y="27.2" width="5.8" height="7.2" fill="#e61400"/><rect x="23.3" y="27.2" width="11.0" height="7.2" fill="#f05a10"/><rect x="33.7" y="27.2" width="16.2" height="7.2" fill="#b00000"/><rect x="49.3" y="27.2" width="5.8" height="7.2" fill="#e61400"/><rect x="54.5" y="27.2" width="5.8" height="7.2" fill="#f8b448"/><rect x="59.7" y="27.2" width="5.8" height="7.2" fill="#fcd470"/><rect x="64.9" y="27.2" width="5.8" height="7.2" fill="#f8b448"/><rect x="70.1" y="27.2" width="11.0" height="7.2" fill="#fcd470"/><rect x="80.5" y="27.2" width="21.4" height="7.2" fill="#f8b448"/><rect x="101.3" y="27.2" width="21.4" height="7.2" fill="#ffec50"/><rect x="122.1" y="27.2" width="5.8" height="7.2" fill="#ffff00"/><rect x="127.3" y="27.2" width="5.8" height="7.2" fill="#ffec50"/><rect x="132.5" y="27.2" width="5.8" height="7.2" fill="#b4f0e0"/><rect x="2.5" y="33.8" width="5.8" height="7.2" fill="#b4f0e0"/><rect x="7.7" y="33.8" width="5.8" height="7.2" fill="#ffec50"/><rect x="12.9" y="33.8" width="5.8" height="7.2" fill="#f05a10"/><rect x="18.1" y="33.8" width="5.8" height="7.2" fill="#e61400"/><rect x="23.3" y="33.8" width="5.8" height="7.2" fill="#f8b448"/><rect x="28.5" y="33.8" width="5.8" height="7.2" fill="#f05a10"/><rect x="33.7" y="33.8" width="5.8" height="7.2" fill="#7a0000"/><rect x="38.9" y="33.8" width="5.8" height="7.2" fill="#b00000"/><rect x="44.1" y="33.8" width="5.8" height="7.2" fill="#e61400"/><rect x="49.3" y="33.8" width="5.8" height="7.2" fill="#b00000"/><rect x="54.5" y="33.8" width="21.4" height="7.2" fill="#f8b448"/><rect x="75.3" y="33.8" width="11.0" height="7.2" fill="#fcd470"/><rect x="85.7" y="33.8" width="5.8" height="7.2" fill="#f8b448"/><rect x="90.9" y="33.8" width="11.0" height="7.2" fill="#ffec50"/><rect x="101.3" y="33.8" width="5.8" height="7.2" fill="#e2f6b8"/><rect x="106.5" y="33.8" width="5.8" height="7.2" fill="#ffec50"/><rect x="111.7" y="33.8" width="16.2" height="7.2" fill="#e2f6b8"/><rect x="2.5" y="40.4" width="5.8" height="7.2" fill="#b4f0e0"/><rect x="7.7" y="40.4" width="5.8" height="7.2" fill="#ffec50"/><rect x="12.9" y="40.4" width="5.8" height="7.2" fill="#f8b448"/><rect x="18.1" y="40.4" width="5.8" height="7.2" fill="#e61400"/><rect x="23.3" y="40.4" width="5.8" height="7.2" fill="#b00000"/><rect x="28.5" y="40.4" width="11.0" height="7.2" fill="#7a0000"/><rect x="38.9" y="40.4" width="5.8" height="7.2" fill="#b00000"/><rect x="44.1" y="40.4" width="5.8" height="7.2" fill="#f05a10"/><rect x="49.3" y="40.4" width="5.8" height="7.2" fill="#e61400"/><rect x="54.5" y="40.4" width="5.8" height="7.2" fill="#f8b448"/><rect x="59.7" y="40.4" width="5.8" height="7.2" fill="#fcd470"/><rect x="64.9" y="40.4" width="26.6" height="7.2" fill="#ffec50"/><rect x="90.9" y="40.4" width="21.4" height="7.2" fill="#e2f6b8"/><rect x="111.7" y="40.4" width="11.0" height="7.2" fill="#b4f0e0"/><rect x="122.1" y="40.4" width="5.8" height="7.2" fill="#e2f6b8"/><rect x="7.7" y="47.1" width="5.8" height="7.2" fill="#fcd470"/><rect x="12.9" y="47.1" width="5.8" height="7.2" fill="#f8b448"/><rect x="18.1" y="47.1" width="5.8" height="7.2" fill="#e61400"/><rect x="23.3" y="47.1" width="5.8" height="7.2" fill="#7a0000"/><rect x="28.5" y="47.1" width="5.8" height="7.2" fill="#b00000"/><rect x="33.7" y="47.1" width="5.8" height="7.2" fill="#f05a10"/><rect x="38.9" y="47.1" width="5.8" height="7.2" fill="#f8b448"/><rect x="44.1" y="47.1" width="5.8" height="7.2" fill="#b00000"/><rect x="49.3" y="47.1" width="5.8" height="7.2" fill="#7a0000"/><rect x="54.5" y="47.1" width="5.8" height="7.2" fill="#b00000"/><rect x="59.7" y="47.1" width="5.8" height="7.2" fill="#f8b448"/><rect x="64.9" y="47.1" width="11.0" height="7.2" fill="#b4f0e0"/><rect x="75.3" y="47.1" width="5.8" height="7.2" fill="#ffec50"/><rect x="80.5" y="47.1" width="5.8" height="7.2" fill="#ffff00"/><rect x="85.7" y="47.1" width="5.8" height="7.2" fill="#ffec50"/><rect x="90.9" y="47.1" width="5.8" height="7.2" fill="#e2f6b8"/><rect x="96.1" y="47.1" width="5.8" height="7.2" fill="#b4f0e0"/><rect x="101.3" y="47.1" width="11.0" height="7.2" fill="#e2f6b8"/><rect x="111.7" y="47.1" width="11.0" height="7.2" fill="#b4f0e0"/><rect x="122.1" y="47.1" width="5.8" height="7.2" fill="#e2f6b8"/><rect x="12.9" y="53.7" width="5.8" height="7.2" fill="#f8b448"/><rect x="18.1" y="53.7" width="5.8" height="7.2" fill="#b00000"/><rect x="23.3" y="53.7" width="5.8" height="7.2" fill="#7a0000"/><rect x="28.5" y="53.7" width="5.8" height="7.2" fill="#b00000"/><rect x="33.7" y="53.7" width="5.8" height="7.2" fill="#f05a10"/><rect x="38.9" y="53.7" width="5.8" height="7.2" fill="#f8b448"/><rect x="44.1" y="53.7" width="5.8" height="7.2" fill="#b00000"/><rect x="49.3" y="53.7" width="5.8" height="7.2" fill="#7a0000"/><rect x="54.5" y="53.7" width="5.8" height="7.2" fill="#b00000"/><rect x="59.7" y="53.7" width="5.8" height="7.2" fill="#ffec50"/><rect x="64.9" y="53.7" width="5.8" height="7.2" fill="#ffff00"/><rect x="70.1" y="53.7" width="5.8" height="7.2" fill="#b4f0e0"/><rect x="75.3" y="53.7" width="11.0" height="7.2" fill="#ffec50"/><rect x="85.7" y="53.7" width="11.0" height="7.2" fill="#e2f6b8"/><rect x="96.1" y="53.7" width="5.8" height="7.2" fill="#b4f0e0"/><rect x="101.3" y="53.7" width="5.8" height="7.2" fill="#e2f6b8"/><rect x="106.5" y="53.7" width="5.8" height="7.2" fill="#b4f0e0"/><rect x="111.7" y="53.7" width="5.8" height="7.2" fill="#e2f6b8"/><rect x="23.3" y="60.4" width="11.0" height="7.2" fill="#b00000"/><rect x="33.7" y="60.4" width="5.8" height="7.2" fill="#e61400"/><rect x="38.9" y="60.4" width="5.8" height="7.2" fill="#f8b448"/><rect x="44.1" y="60.4" width="5.8" height="7.2" fill="#b00000"/><rect x="49.3" y="60.4" width="11.0" height="7.2" fill="#7a0000"/><rect x="59.7" y="60.4" width="5.8" height="7.2" fill="#ffec50"/><rect x="64.9" y="60.4" width="5.8" height="7.2" fill="#ffff00"/><rect x="70.1" y="60.4" width="5.8" height="7.2" fill="#ffec50"/><rect x="75.3" y="60.4" width="5.8" height="7.2" fill="#ffff00"/><rect x="80.5" y="60.4" width="5.8" height="7.2" fill="#b4f0e0"/><rect x="85.7" y="60.4" width="11.0" height="7.2" fill="#e2f6b8"/><rect x="96.1" y="60.4" width="5.8" height="7.2" fill="#ffec50"/><rect x="101.3" y="60.4" width="11.0" height="7.2" fill="#e2f6b8"/><rect x="54.5" y="67.0" width="5.8" height="7.2" fill="#b00000"/><rect x="59.7" y="67.0" width="5.8" height="7.2" fill="#ffec50"/><rect x="64.9" y="67.0" width="11.0" height="7.2" fill="#ffff00"/><rect x="75.3" y="67.0" width="5.8" height="7.2" fill="#ffec50"/><rect x="106.5" y="67.0" width="11.0" height="7.2" fill="#e2f6b8"/><rect x="64.9" y="73.6" width="5.8" height="7.2" fill="#e61400"/><rect x="70.1" y="73.6" width="5.8" height="7.2" fill="#f8b448"/><rect x="106.5" y="73.6" width="5.8" height="7.2" fill="#e2f6b8"/><rect x="111.7" y="73.6" width="5.8" height="7.2" fill="#b4f0e0"/><rect x="70.1" y="80.3" width="5.8" height="7.2" fill="#f05a10"/><rect x="111.7" y="80.3" width="5.8" height="7.2" fill="#28c8f0"/></g></g><use href="#st"/></g><rect x="64.15" y="172.45" width="152.90" height="86.15" fill="none" stroke="#474747" stroke-width="1.1"/><path d="M76.80 258.60v-2M76.80 172.45v2M102.80 258.60v-2M102.80 172.45v2M128.80 258.60v-2M128.80 172.45v2M154.80 258.60v-2M154.80 172.45v2M180.80 258.60v-2M180.80 172.45v2M206.80 258.60v-2M206.80 172.45v2M64.15 254.94h2M217.05 254.94h-2M64.15 238.52h2M217.05 238.52h-2M64.15 222.10h2M217.05 222.10h-2M64.15 205.68h2M217.05 205.68h-2M64.15 189.26h2M217.05 189.26h-2" stroke="#474747" stroke-width="0.9"/><g font-size="12.2" fill="#333"><text x="75.00" y="274.90" text-anchor="middle" textLength="17.5" lengthAdjust="spacingAndGlyphs">-120</text><text x="101.00" y="274.90" text-anchor="middle" textLength="17.5" lengthAdjust="spacingAndGlyphs">-110</text><text x="127.00" y="274.90" text-anchor="middle" textLength="17.5" lengthAdjust="spacingAndGlyphs">-100</text><text x="153.00" y="274.90" text-anchor="middle" textLength="12.9" lengthAdjust="spacingAndGlyphs">-90</text><text x="179.00" y="274.90" text-anchor="middle" textLength="12.9" lengthAdjust="spacingAndGlyphs">-80</text><text x="205.00" y="274.90" text-anchor="middle" textLength="12.9" lengthAdjust="spacingAndGlyphs">-70</text><text x="60.25" y="260.34" text-anchor="end" textLength="10" lengthAdjust="spacingAndGlyphs">25</text><text x="60.25" y="243.92" text-anchor="end" textLength="10" lengthAdjust="spacingAndGlyphs">30</text><text x="60.25" y="227.50" text-anchor="end" textLength="10" lengthAdjust="spacingAndGlyphs">35</text><text x="60.25" y="211.08" text-anchor="end" textLength="10" lengthAdjust="spacingAndGlyphs">40</text><text x="60.25" y="194.66" text-anchor="end" textLength="10" lengthAdjust="spacingAndGlyphs">45</text></g><text transform="translate(143.65 166.25) scale(0.82 1)" font-size="18" text-anchor="middle" fill="#000">(f)</text><g transform="translate(264.19 171.95) scale(1 0.9892)"><g clip-path="url(#us)"><g filter="url(#bl)"><rect x="-2.7" y="-1.1" width="11.0" height="8.9" fill="#64e6aa"/><rect x="7.7" y="-1.1" width="5.8" height="8.9" fill="#b4f0e0"/><rect x="12.9" y="-1.1" width="5.8" height="8.9" fill="#64e6aa"/><rect x="18.1" y="-1.1" width="5.8" height="8.9" fill="#ffffff"/><rect x="23.3" y="-1.1" width="11.0" height="8.9" fill="#ffff00"/><rect x="33.7" y="-1.1" width="11.0" height="8.9" fill="#ffec50"/><rect x="44.1" y="-1.1" width="5.8" height="8.9" fill="#fcd470"/><rect x="49.3" y="-1.1" width="5.8" height="8.9" fill="#ffec50"/><rect x="54.5" y="-1.1" width="21.4" height="8.9" fill="#ffff00"/><rect x="75.3" y="-1.1" width="11.0" height="8.9" fill="#ffec50"/><rect x="85.7" y="-1.1" width="5.8" height="8.9" fill="#ffff00"/><rect x="-2.7" y="7.2" width="5.8" height="7.2" fill="#64e6aa"/><rect x="2.5" y="7.2" width="16.2" height="7.2" fill="#ffffff"/><rect x="18.1" y="7.2" width="11.0" height="7.2" fill="#ffff00"/><rect x="28.5" y="7.2" width="11.0" height="7.2" fill="#ffec50"/><rect x="38.9" y="7.2" width="5.8" height="7.2" fill="#fcd470"/><rect x="44.1" y="7.2" width="11.0" height="7.2" fill="#ffec50"/><rect x="54.5" y="7.2" width="16.2" height="7.2" fill="#ffff00"/><rect x="70.1" y="7.2" width="5.8" height="7.2" fill="#ffec50"/><rect x="75.3" y="7.2" width="5.8" height="7.2" fill="#fcd470"/><rect x="80.5" y="7.2" width="11.0" height="7.2" fill="#ffec50"/><rect x="90.9" y="7.2" width="16.2" height="7.2" fill="#ffff00"/><rect x="137.7" y="7.2" width="16.2" height="7.2" fill="#ffff00"/><rect x="-2.7" y="13.9" width="5.8" height="7.2" fill="#64e6aa"/><rect x="2.5" y="13.9" width="16.2" height="7.2" fill="#ffffff"/><rect x="18.1" y="13.9" width="16.2" height="7.2" fill="#ffff00"/><rect x="33.7" y="13.9" width="21.4" height="7.2" fill="#fcd470"/><rect x="54.5" y="13.9" width="5.8" height="7.2" fill="#ffec50"/><rect x="59.7" y="13.9" width="11.0" height="7.2" fill="#fcd470"/><rect x="70.1" y="13.9" width="11.0" height="7.2" fill="#ffec50"/><rect x="80.5" y="13.9" width="5.8" height="7.2" fill="#fcd470"/><rect x="85.7" y="13.9" width="5.8" height="7.2" fill="#ffec50"/><rect x="90.9" y="13.9" width="21.4" height="7.2" fill="#ffff00"/><rect x="116.9" y="13.9" width="37.0" height="7.2" fill="#ffff00"/><rect x="-2.7" y="20.5" width="5.8" height="7.2" fill="#64e6aa"/><rect x="2.5" y="20.5" width="5.8" height="7.2" fill="#b4f0e0"/><rect x="7.7" y="20.5" width="5.8" height="7.2" fill="#ffffff"/><rect x="12.9" y="20.5" width="21.4" height="7.2" fill="#ffff00"/><rect x="33.7" y="20.5" width="16.2" height="7.2" fill="#fcd470"/><rect x="49.3" y="20.5" width="11.0" height="7.2" fill="#f8b448"/><rect x="59.7" y="20.5" width="5.8" height="7.2" fill="#ffa000"/><rect x="64.9" y="20.5" width="5.8" height="7.2" fill="#f8b448"/><rect x="70.1" y="20.5" width="11.0" height="7.2" fill="#fcd470"/><rect x="80.5" y="20.5" width="5.8" height="7.2" fill="#f8b448"/><rect x="85.7" y="20.5" width="5.8" height="7.2" fill="#fcd470"/><rect x="90.9" y="20.5" width="21.4" height="7.2" fill="#ffec50"/><rect x="111.7" y="20.5" width="31.8" height="7.2" fill="#ffff00"/><rect x="-2.7" y="27.2" width="5.8" height="7.2" fill="#64e6aa"/><rect x="2.5" y="27.2" width="21.4" height="7.2" fill="#ffff00"/><rect x="23.3" y="27.2" width="5.8" height="7.2" fill="#ffec50"/><rect x="28.5" y="27.2" width="16.2" height="7.2" fill="#fcd470"/><rect x="44.1" y="27.2" width="5.8" height="7.2" fill="#f8b448"/><rect x="49.3" y="27.2" width="11.0" height="7.2" fill="#f05a10"/><rect x="59.7" y="27.2" width="16.2" height="7.2" fill="#f8b448"/><rect x="75.3" y="27.2" width="21.4" height="7.2" fill="#fcd470"/><rect x="96.1" y="27.2" width="11.0" height="7.2" fill="#ffec50"/><rect x="106.5" y="27.2" width="31.8" height="7.2" fill="#ffff00"/><rect x="2.5" y="33.8" width="5.8" height="7.2" fill="#ffff00"/><rect x="7.7" y="33.8" width="5.8" height="7.2" fill="#ffec50"/><rect x="12.9" y="33.8" width="5.8" height="7.2" fill="#ffff00"/><rect x="18.1" y="33.8" width="5.8" height="7.2" fill="#ffec50"/><rect x="23.3" y="33.8" width="5.8" height="7.2" fill="#fcd470"/><rect x="28.5" y="33.8" width="11.0" height="7.2" fill="#f8b448"/><rect x="38.9" y="33.8" width="5.8" height="7.2" fill="#f05a10"/><rect x="44.1" y="33.8" width="11.0" height="7.2" fill="#f8b448"/><rect x="54.5" y="33.8" width="5.8" height="7.2" fill="#f05a10"/><rect x="59.7" y="33.8" width="11.0" height="7.2" fill="#e61400"/><rect x="70.1" y="33.8" width="5.8" height="7.2" fill="#f05a10"/><rect x="75.3" y="33.8" width="5.8" height="7.2" fill="#f8b448"/><rect x="80.5" y="33.8" width="11.0" height="7.2" fill="#fcd470"/><rect x="90.9" y="33.8" width="16.2" height="7.2" fill="#ffec50"/><rect x="106.5" y="33.8" width="21.4" height="7.2" fill="#ffff00"/><rect x="2.5" y="40.4" width="5.8" height="7.2" fill="#ffff00"/><rect x="7.7" y="40.4" width="5.8" height="7.2" fill="#ffec50"/><rect x="12.9" y="40.4" width="5.8" height="7.2" fill="#fcd470"/><rect x="18.1" y="40.4" width="5.8" height="7.2" fill="#f8b448"/><rect x="23.3" y="40.4" width="11.0" height="7.2" fill="#f05a10"/><rect x="33.7" y="40.4" width="16.2" height="7.2" fill="#f8b448"/><rect x="49.3" y="40.4" width="11.0" height="7.2" fill="#f05a10"/><rect x="59.7" y="40.4" width="5.8" height="7.2" fill="#b00000"/><rect x="64.9" y="40.4" width="5.8" height="7.2" fill="#e61400"/><rect x="70.1" y="40.4" width="11.0" height="7.2" fill="#f8b448"/><rect x="80.5" y="40.4" width="5.8" height="7.2" fill="#fcd470"/><rect x="85.7" y="40.4" width="31.8" height="7.2" fill="#ffff00"/><rect x="116.9" y="40.4" width="5.8" height="7.2" fill="#ffec50"/><rect x="122.1" y="40.4" width="5.8" height="7.2" fill="#b4f0e0"/><rect x="7.7" y="47.1" width="5.8" height="7.2" fill="#ffec50"/><rect x="12.9" y="47.1" width="5.8" height="7.2" fill="#f8b448"/><rect x="18.1" y="47.1" width="5.8" height="7.2" fill="#f05a10"/><rect x="23.3" y="47.1" width="5.8" height="7.2" fill="#b00000"/><rect x="28.5" y="47.1" width="5.8" height="7.2" fill="#f8b448"/><rect x="33.7" y="47.1" width="5.8" height="7.2" fill="#fcd470"/><rect x="38.9" y="47.1" width="11.0" height="7.2" fill="#f8b448"/><rect x="49.3" y="47.1" width="5.8" height="7.2" fill="#f05a10"/><rect x="54.5" y="47.1" width="5.8" height="7.2" fill="#e61400"/><rect x="59.7" y="47.1" width="5.8" height="7.2" fill="#b00000"/><rect x="64.9" y="47.1" width="11.0" height="7.2" fill="#f8b448"/><rect x="75.3" y="47.1" width="5.8" height="7.2" fill="#fcd470"/><rect x="80.5" y="47.1" width="21.4" height="7.2" fill="#ffff00"/><rect x="101.3" y="47.1" width="5.8" height="7.2" fill="#ffec50"/><rect x="106.5" y="47.1" width="11.0" height="7.2" fill="#ffff00"/><rect x="116.9" y="47.1" width="5.8" height="7.2" fill="#b4f0e0"/><rect x="122.1" y="47.1" width="5.8" height="7.2" fill="#64e6aa"/><rect x="12.9" y="53.7" width="5.8" height="7.2" fill="#f8b448"/><rect x="18.1" y="53.7" width="5.8" height="7.2" fill="#e61400"/><rect x="23.3" y="53.7" width="5.8" height="7.2" fill="#b00000"/><rect x="28.5" y="53.7" width="5.8" height="7.2" fill="#f05a10"/><rect x="33.7" y="53.7" width="16.2" height="7.2" fill="#f8b448"/><rect x="49.3" y="53.7" width="5.8" height="7.2" fill="#f05a10"/><rect x="54.5" y="53.7" width="5.8" height="7.2" fill="#b00000"/><rect x="59.7" y="53.7" width="5.8" height="7.2" fill="#e61400"/><rect x="64.9" y="53.7" width="11.0" height="7.2" fill="#f8b448"/><rect x="75.3" y="53.7" width="5.8" height="7.2" fill="#fcd470"/><rect x="80.5" y="53.7" width="5.8" height="7.2" fill="#ffec50"/><rect x="85.7" y="53.7" width="11.0" height="7.2" fill="#ffff00"/><rect x="96.1" y="53.7" width="5.8" height="7.2" fill="#ffffff"/><rect x="101.3" y="53.7" width="5.8" height="7.2" fill="#ffec50"/><rect x="106.5" y="53.7" width="5.8" height="7.2" fill="#ffff00"/><rect x="111.7" y="53.7" width="5.8" height="7.2" fill="#ffec50"/><rect x="23.3" y="60.4" width="5.8" height="7.2" fill="#f8b448"/><rect x="28.5" y="60.4" width="5.8" height="7.2" fill="#f05a10"/><rect x="33.7" y="60.4" width="16.2" height="7.2" fill="#f8b448"/><rect x="49.3" y="60.4" width="5.8" height="7.2" fill="#f05a10"/><rect x="54.5" y="60.4" width="5.8" height="7.2" fill="#b00000"/><rect x="59.7" y="60.4" width="5.8" height="7.2" fill="#f05a10"/><rect x="64.9" y="60.4" width="16.2" height="7.2" fill="#f8b448"/><rect x="80.5" y="60.4" width="5.8" height="7.2" fill="#fcd470"/><rect x="85.7" y="60.4" width="5.8" height="7.2" fill="#ffec50"/><rect x="90.9" y="60.4" width="5.8" height="7.2" fill="#ffff00"/><rect x="96.1" y="60.4" width="5.8" height="7.2" fill="#ffec50"/><rect x="101.3" y="60.4" width="11.0" height="7.2" fill="#ffff00"/><rect x="54.5" y="67.0" width="5.8" height="7.2" fill="#f05a10"/><rect x="59.7" y="67.0" width="21.4" height="7.2" fill="#f8b448"/><rect x="106.5" y="67.0" width="5.8" height="7.2" fill="#ffff00"/><rect x="111.7" y="67.0" width="5.8" height="7.2" fill="#ffec50"/><rect x="64.9" y="73.6" width="5.8" height="7.2" fill="#f05a10"/><rect x="70.1" y="73.6" width="5.8" height="7.2" fill="#f8b448"/><rect x="106.5" y="73.6" width="11.0" height="7.2" fill="#ffff00"/><rect x="70.1" y="80.3" width="5.8" height="7.2" fill="#f8b448"/><rect x="111.7" y="80.3" width="5.8" height="7.2" fill="#ffec50"/></g></g><use href="#st"/></g><rect x="264.69" y="172.45" width="152.90" height="86.15" fill="none" stroke="#474747" stroke-width="1.1"/><path d="M277.34 258.60v-2M277.34 172.45v2M303.34 258.60v-2M303.34 172.45v2M329.34 258.60v-2M329.34 172.45v2M355.34 258.60v-2M355.34 172.45v2M381.34 258.60v-2M381.34 172.45v2M407.34 258.60v-2M407.34 172.45v2M264.69 254.94h2M417.59 254.94h-2M264.69 238.52h2M417.59 238.52h-2M264.69 222.10h2M417.59 222.10h-2M264.69 205.68h2M417.59 205.68h-2M264.69 189.26h2M417.59 189.26h-2" stroke="#474747" stroke-width="0.9"/><g font-size="12.2" fill="#333"><text x="275.54" y="274.90" text-anchor="middle" textLength="17.5" lengthAdjust="spacingAndGlyphs">-120</text><text x="301.54" y="274.90" text-anchor="middle" textLength="17.5" lengthAdjust="spacingAndGlyphs">-110</text><text x="327.54" y="274.90" text-anchor="middle" textLength="17.5" lengthAdjust="spacingAndGlyphs">-100</text><text x="353.54" y="274.90" text-anchor="middle" textLength="12.9" lengthAdjust="spacingAndGlyphs">-90</text><text x="379.54" y="274.90" text-anchor="middle" textLength="12.9" lengthAdjust="spacingAndGlyphs">-80</text><text x="405.54" y="274.90" text-anchor="middle" textLength="12.9" lengthAdjust="spacingAndGlyphs">-70</text><text x="260.79" y="260.34" text-anchor="end" textLength="10" lengthAdjust="spacingAndGlyphs">25</text><text x="260.79" y="243.92" text-anchor="end" textLength="10" lengthAdjust="spacingAndGlyphs">30</text><text x="260.79" y="227.50" text-anchor="end" textLength="10" lengthAdjust="spacingAndGlyphs">35</text><text x="260.79" y="211.08" text-anchor="end" textLength="10" lengthAdjust="spacingAndGlyphs">40</text><text x="260.79" y="194.66" text-anchor="end" textLength="10" lengthAdjust="spacingAndGlyphs">45</text></g><text transform="translate(344.89 166.25) scale(0.82 1)" font-size="18" text-anchor="middle" fill="#000">(g)</text><g transform="translate(464.73 171.95) scale(1 0.9892)"><g clip-path="url(#us)"><g filter="url(#bl)"><rect x="-2.7" y="-1.1" width="5.8" height="8.9" fill="#ffec50"/><rect x="2.5" y="-1.1" width="5.8" height="8.9" fill="#f8b448"/><rect x="7.7" y="-1.1" width="5.8" height="8.9" fill="#ffec50"/><rect x="12.9" y="-1.1" width="5.8" height="8.9" fill="#28c8f0"/><rect x="18.1" y="-1.1" width="5.8" height="8.9" fill="#b4f0e0"/><rect x="23.3" y="-1.1" width="11.0" height="8.9" fill="#ffec50"/><rect x="33.7" y="-1.1" width="5.8" height="8.9" fill="#b4f0e0"/><rect x="38.9" y="-1.1" width="11.0" height="8.9" fill="#64e6aa"/><rect x="49.3" y="-1.1" width="5.8" height="8.9" fill="#b4f0e0"/><rect x="54.5" y="-1.1" width="5.8" height="8.9" fill="#28c8f0"/><rect x="59.7" y="-1.1" width="11.0" height="8.9" fill="#2896f0"/><rect x="70.1" y="-1.1" width="5.8" height="8.9" fill="#28c8f0"/><rect x="75.3" y="-1.1" width="11.0" height="8.9" fill="#64e6aa"/><rect x="85.7" y="-1.1" width="5.8" height="8.9" fill="#b4f0e0"/><rect x="-2.7" y="7.2" width="5.8" height="7.2" fill="#ffec50"/><rect x="2.5" y="7.2" width="5.8" height="7.2" fill="#ffff00"/><rect x="7.7" y="7.2" width="5.8" height="7.2" fill="#ffec50"/><rect x="12.9" y="7.2" width="5.8" height="7.2" fill="#b4f0e0"/><rect x="18.1" y="7.2" width="5.8" height="7.2" fill="#ffec50"/><rect x="23.3" y="7.2" width="5.8" height="7.2" fill="#ffff00"/><rect x="28.5" y="7.2" width="5.8" height="7.2" fill="#b4f0e0"/><rect x="33.7" y="7.2" width="5.8" height="7.2" fill="#ffec50"/><rect x="38.9" y="7.2" width="5.8" height="7.2" fill="#64e6aa"/><rect x="44.1" y="7.2" width="5.8" height="7.2" fill="#b4f0e0"/><rect x="49.3" y="7.2" width="5.8" height="7.2" fill="#64e6aa"/><rect x="54.5" y="7.2" width="16.2" height="7.2" fill="#28c8f0"/><rect x="70.1" y="7.2" width="5.8" height="7.2" fill="#b4f0e0"/><rect x="75.3" y="7.2" width="5.8" height="7.2" fill="#64e6aa"/><rect x="80.5" y="7.2" width="5.8" height="7.2" fill="#b4f0e0"/><rect x="85.7" y="7.2" width="5.8" height="7.2" fill="#64e6aa"/><rect x="90.9" y="7.2" width="16.2" height="7.2" fill="#b4f0e0"/><rect x="137.7" y="7.2" width="11.0" height="7.2" fill="#28c8f0"/><rect x="148.1" y="7.2" width="5.8" height="7.2" fill="#64e6aa"/><rect x="-2.7" y="13.9" width="5.8" height="7.2" fill="#ffec50"/><rect x="2.5" y="13.9" width="5.8" height="7.2" fill="#ffff00"/><rect x="7.7" y="13.9" width="5.8" height="7.2" fill="#f8b448"/><rect x="12.9" y="13.9" width="5.8" height="7.2" fill="#ffec50"/><rect x="18.1" y="13.9" width="5.8" height="7.2" fill="#f8b448"/><rect x="23.3" y="13.9" width="5.8" height="7.2" fill="#ffec50"/><rect x="28.5" y="13.9" width="5.8" height="7.2" fill="#ffff00"/><rect x="33.7" y="13.9" width="5.8" height="7.2" fill="#ffec50"/><rect x="38.9" y="13.9" width="5.8" height="7.2" fill="#ffff00"/><rect x="44.1" y="13.9" width="5.8" height="7.2" fill="#ffec50"/><rect x="49.3" y="13.9" width="5.8" height="7.2" fill="#b4f0e0"/><rect x="54.5" y="13.9" width="11.0" height="7.2" fill="#28c8f0"/><rect x="64.9" y="13.9" width="5.8" height="7.2" fill="#64e6aa"/><rect x="70.1" y="13.9" width="5.8" height="7.2" fill="#b4f0e0"/><rect x="75.3" y="13.9" width="5.8" height="7.2" fill="#64e6aa"/><rect x="80.5" y="13.9" width="11.0" height="7.2" fill="#b4f0e0"/><rect x="90.9" y="13.9" width="11.0" height="7.2" fill="#ffff00"/><rect x="101.3" y="13.9" width="11.0" height="7.2" fill="#b4f0e0"/><rect x="116.9" y="13.9" width="5.8" height="7.2" fill="#28c8f0"/><rect x="122.1" y="13.9" width="16.2" height="7.2" fill="#2896f0"/><rect x="137.7" y="13.9" width="11.0" height="7.2" fill="#28c8f0"/><rect x="148.1" y="13.9" width="5.8" height="7.2" fill="#64e6aa"/><rect x="-2.7" y="20.5" width="11.0" height="7.2" fill="#ffec50"/><rect x="7.7" y="20.5" width="5.8" height="7.2" fill="#f05a10"/><rect x="12.9" y="20.5" width="11.0" height="7.2" fill="#ffec50"/><rect x="23.3" y="20.5" width="5.8" height="7.2" fill="#fcd470"/><rect x="28.5" y="20.5" width="5.8" height="7.2" fill="#ffec50"/><rect x="33.7" y="20.5" width="5.8" height="7.2" fill="#ffff00"/><rect x="38.9" y="20.5" width="5.8" height="7.2" fill="#f8b448"/><rect x="44.1" y="20.5" width="5.8" height="7.2" fill="#ffec50"/><rect x="49.3" y="20.5" width="5.8" height="7.2" fill="#64e6aa"/><rect x="54.5" y="20.5" width="16.2" height="7.2" fill="#28c8f0"/><rect x="70.1" y="20.5" width="5.8" height="7.2" fill="#64e6aa"/><rect x="75.3" y="20.5" width="11.0" height="7.2" fill="#b4f0e0"/><rect x="85.7" y="20.5" width="5.8" height="7.2" fill="#ffff00"/><rect x="90.9" y="20.5" width="11.0" height="7.2" fill="#ffec50"/><rect x="101.3" y="20.5" width="5.8" height="7.2" fill="#ffff00"/><rect x="106.5" y="20.5" width="11.0" height="7.2" fill="#b4f0e0"/><rect x="116.9" y="20.5" width="11.0" height="7.2" fill="#28c8f0"/><rect x="127.3" y="20.5" width="16.2" height="7.2" fill="#2896f0"/><rect x="-2.7" y="27.2" width="5.8" height="7.2" fill="#ffec50"/><rect x="2.5" y="27.2" width="5.8" height="7.2" fill="#b4f0e0"/><rect x="7.7" y="27.2" width="5.8" height="7.2" fill="#ffec50"/><rect x="12.9" y="27.2" width="5.8" height="7.2" fill="#f05a10"/><rect x="18.1" y="27.2" width="5.8" height="7.2" fill="#f8b448"/><rect x="23.3" y="27.2" width="5.8" height="7.2" fill="#ffec50"/><rect x="28.5" y="27.2" width="5.8" height="7.2" fill="#f8b448"/><rect x="33.7" y="27.2" width="5.8" height="7.2" fill="#ffec50"/><rect x="38.9" y="27.2" width="5.8" height="7.2" fill="#f05a10"/><rect x="44.1" y="27.2" width="11.0" height="7.2" fill="#ffec50"/><rect x="54.5" y="27.2" width="5.8" height="7.2" fill="#b4f0e0"/><rect x="59.7" y="27.2" width="16.2" height="7.2" fill="#28c8f0"/><rect x="75.3" y="27.2" width="5.8" height="7.2" fill="#64e6aa"/><rect x="80.5" y="27.2" width="5.8" height="7.2" fill="#b4f0e0"/><rect x="85.7" y="27.2" width="5.8" height="7.2" fill="#ffff00"/><rect x="90.9" y="27.2" width="5.8" height="7.2" fill="#b4f0e0"/><rect x="96.1" y="27.2" width="5.8" height="7.2" fill="#ffff00"/><rect x="101.3" y="27.2" width="5.8" height="7.2" fill="#b4f0e0"/><rect x="106.5" y="27.2" width="11.0" height="7.2" fill="#64e6aa"/><rect x="116.9" y="27.2" width="21.4" height="7.2" fill="#28c8f0"/><rect x="2.5" y="33.8" width="5.8" height="7.2" fill="#b4f0e0"/><rect x="7.7" y="33.8" width="5.8" height="7.2" fill="#ffec50"/><rect x="12.9" y="33.8" width="5.8" height="7.2" fill="#f8b448"/><rect x="18.1" y="33.8" width="5.8" height="7.2" fill="#f05a10"/><rect x="23.3" y="33.8" width="5.8" height="7.2" fill="#f8b448"/><rect x="28.5" y="33.8" width="5.8" height="7.2" fill="#f05a10"/><rect x="33.7" y="33.8" width="5.8" height="7.2" fill="#7a0000"/><rect x="38.9" y="33.8" width="5.8" height="7.2" fill="#b00000"/><rect x="44.1" y="33.8" width="11.0" height="7.2" fill="#ffec50"/><rect x="54.5" y="33.8" width="5.8" height="7.2" fill="#b4f0e0"/><rect x="59.7" y="33.8" width="5.8" height="7.2" fill="#28c8f0"/><rect x="64.9" y="33.8" width="5.8" height="7.2" fill="#2896f0"/><rect x="70.1" y="33.8" width="5.8" height="7.2" fill="#28c8f0"/><rect x="75.3" y="33.8" width="5.8" height="7.2" fill="#64e6aa"/><rect x="80.5" y="33.8" width="5.8" height="7.2" fill="#b4f0e0"/><rect x="85.7" y="33.8" width="11.0" height="7.2" fill="#ffff00"/><rect x="96.1" y="33.8" width="5.8" height="7.2" fill="#b4f0e0"/><rect x="101.3" y="33.8" width="5.8" height="7.2" fill="#64e6aa"/><rect x="106.5" y="33.8" width="21.4" height="7.2" fill="#28c8f0"/><rect x="2.5" y="40.4" width="5.8" height="7.2" fill="#b4f0e0"/><rect x="7.7" y="40.4" width="5.8" height="7.2" fill="#ffec50"/><rect x="12.9" y="40.4" width="5.8" height="7.2" fill="#f8b448"/><rect x="18.1" y="40.4" width="5.8" height="7.2" fill="#f05a10"/><rect x="23.3" y="40.4" width="5.8" height="7.2" fill="#f8b448"/><rect x="28.5" y="40.4" width="5.8" height="7.2" fill="#b00000"/><rect x="33.7" y="40.4" width="5.8" height="7.2" fill="#7a0000"/><rect x="38.9" y="40.4" width="5.8" height="7.2" fill="#f05a10"/><rect x="44.1" y="40.4" width="11.0" height="7.2" fill="#ffec50"/><rect x="54.5" y="40.4" width="5.8" height="7.2" fill="#b4f0e0"/><rect x="59.7" y="40.4" width="5.8" height="7.2" fill="#2896f0"/><rect x="64.9" y="40.4" width="5.8" height="7.2" fill="#1e64f0"/><rect x="70.1" y="40.4" width="5.8" height="7.2" fill="#2896f0"/><rect x="75.3" y="40.4" width="5.8" height="7.2" fill="#28c8f0"/><rect x="80.5" y="40.4" width="5.8" height="7.2" fill="#b4f0e0"/><rect x="85.7" y="40.4" width="37.0" height="7.2" fill="#28c8f0"/><rect x="122.1" y="40.4" width="5.8" height="7.2" fill="#64e6aa"/><rect x="7.7" y="47.1" width="5.8" height="7.2" fill="#b4f0e0"/><rect x="12.9" y="47.1" width="5.8" height="7.2" fill="#f8b448"/><rect x="18.1" y="47.1" width="5.8" height="7.2" fill="#f05a10"/><rect x="23.3" y="47.1" width="5.8" height="7.2" fill="#b00000"/><rect x="28.5" y="47.1" width="5.8" height="7.2" fill="#f05a10"/><rect x="33.7" y="47.1" width="5.8" height="7.2" fill="#f8b448"/><rect x="38.9" y="47.1" width="5.8" height="7.2" fill="#ffec50"/><rect x="44.1" y="47.1" width="5.8" height="7.2" fill="#b4f0e0"/><rect x="49.3" y="47.1" width="5.8" height="7.2" fill="#ffec50"/><rect x="54.5" y="47.1" width="5.8" height="7.2" fill="#b4f0e0"/><rect x="59.7" y="47.1" width="5.8" height="7.2" fill="#1e64f0"/><rect x="64.9" y="47.1" width="5.8" height="7.2" fill="#0818d0"/><rect x="70.1" y="47.1" width="5.8" height="7.2" fill="#1e64f0"/><rect x="75.3" y="47.1" width="5.8" height="7.2" fill="#2896f0"/><rect x="80.5" y="47.1" width="11.0" height="7.2" fill="#28c8f0"/><rect x="90.9" y="47.1" width="5.8" height="7.2" fill="#2896f0"/><rect x="96.1" y="47.1" width="26.6" height="7.2" fill="#28c8f0"/><rect x="122.1" y="47.1" width="5.8" height="7.2" fill="#64e6aa"/><rect x="12.9" y="53.7" width="5.8" height="7.2" fill="#b4f0e0"/><rect x="18.1" y="53.7" width="5.8" height="7.2" fill="#b00000"/><rect x="23.3" y="53.7" width="5.8" height="7.2" fill="#f05a10"/><rect x="28.5" y="53.7" width="5.8" height="7.2" fill="#f8b448"/><rect x="33.7" y="53.7" width="21.4" height="7.2" fill="#ffec50"/><rect x="54.5" y="53.7" width="5.8" height="7.2" fill="#28c8f0"/><rect x="59.7" y="53.7" width="5.8" height="7.2" fill="#2896f0"/><rect x="64.9" y="53.7" width="5.8" height="7.2" fill="#1e64f0"/><rect x="70.1" y="53.7" width="5.8" height="7.2" fill="#2896f0"/><rect x="75.3" y="53.7" width="5.8" height="7.2" fill="#28c8f0"/><rect x="80.5" y="53.7" width="5.8" height="7.2" fill="#2896f0"/><rect x="85.7" y="53.7" width="16.2" height="7.2" fill="#28c8f0"/><rect x="101.3" y="53.7" width="5.8" height="7.2" fill="#b4f0e0"/><rect x="106.5" y="53.7" width="11.0" height="7.2" fill="#28c8f0"/><rect x="23.3" y="60.4" width="5.8" height="7.2" fill="#f8b448"/><rect x="28.5" y="60.4" width="21.4" height="7.2" fill="#ffec50"/><rect x="49.3" y="60.4" width="5.8" height="7.2" fill="#f05a10"/><rect x="54.5" y="60.4" width="5.8" height="7.2" fill="#b4f0e0"/><rect x="59.7" y="60.4" width="5.8" height="7.2" fill="#28c8f0"/><rect x="64.9" y="60.4" width="11.0" height="7.2" fill="#2896f0"/><rect x="75.3" y="60.4" width="5.8" height="7.2" fill="#28c8f0"/><rect x="80.5" y="60.4" width="5.8" height="7.2" fill="#2896f0"/><rect x="85.7" y="60.4" width="11.0" height="7.2" fill="#28c8f0"/><rect x="96.1" y="60.4" width="11.0" height="7.2" fill="#b4f0e0"/><rect x="106.5" y="60.4" width="5.8" height="7.2" fill="#28c8f0"/><rect x="54.5" y="67.0" width="5.8" height="7.2" fill="#b4f0e0"/><rect x="59.7" y="67.0" width="5.8" height="7.2" fill="#28c8f0"/><rect x="64.9" y="67.0" width="11.0" height="7.2" fill="#2896f0"/><rect x="75.3" y="67.0" width="5.8" height="7.2" fill="#28c8f0"/><rect x="106.5" y="67.0" width="5.8" height="7.2" fill="#b4f0e0"/><rect x="111.7" y="67.0" width="5.8" height="7.2" fill="#28c8f0"/><rect x="64.9" y="73.6" width="11.0" height="7.2" fill="#28c8f0"/><rect x="106.5" y="73.6" width="11.0" height="7.2" fill="#28c8f0"/><rect x="70.1" y="80.3" width="5.8" height="7.2" fill="#28c8f0"/><rect x="111.7" y="80.3" width="5.8" height="7.2" fill="#1e64f0"/></g></g><use href="#st"/></g><rect x="465.23" y="172.45" width="152.90" height="86.15" fill="none" stroke="#474747" stroke-width="1.1"/><path d="M477.88 258.60v-2M477.88 172.45v2M503.88 258.60v-2M503.88 172.45v2M529.88 258.60v-2M529.88 172.45v2M555.88 258.60v-2M555.88 172.45v2M581.88 258.60v-2M581.88 172.45v2M607.88 258.60v-2M607.88 172.45v2M465.23 254.94h2M618.13 254.94h-2M465.23 238.52h2M618.13 238.52h-2M465.23 222.10h2M618.13 222.10h-2M465.23 205.68h2M618.13 205.68h-2M465.23 189.26h2M618.13 189.26h-2" stroke="#474747" stroke-width="0.9"/><g font-size="12.2" fill="#333"><text x="476.08" y="274.90" text-anchor="middle" textLength="17.5" lengthAdjust="spacingAndGlyphs">-120</text><text x="502.08" y="274.90" text-anchor="middle" textLength="17.5" lengthAdjust="spacingAndGlyphs">-110</text><text x="528.08" y="274.90" text-anchor="middle" textLength="17.5" lengthAdjust="spacingAndGlyphs">-100</text><text x="554.08" y="274.90" text-anchor="middle" textLength="12.9" lengthAdjust="spacingAndGlyphs">-90</text><text x="580.08" y="274.90" text-anchor="middle" textLength="12.9" lengthAdjust="spacingAndGlyphs">-80</text><text x="606.08" y="274.90" text-anchor="middle" textLength="12.9" lengthAdjust="spacingAndGlyphs">-70</text><text x="461.33" y="260.34" text-anchor="end" textLength="10" lengthAdjust="spacingAndGlyphs">25</text><text x="461.33" y="243.92" text-anchor="end" textLength="10" lengthAdjust="spacingAndGlyphs">30</text><text x="461.33" y="227.50" text-anchor="end" textLength="10" lengthAdjust="spacingAndGlyphs">35</text><text x="461.33" y="211.08" text-anchor="end" textLength="10" lengthAdjust="spacingAndGlyphs">40</text><text x="461.33" y="194.66" text-anchor="end" textLength="10" lengthAdjust="spacingAndGlyphs">45</text></g><text transform="translate(542.83 166.25) scale(0.82 1)" font-size="18" text-anchor="middle" fill="#000">(h)</text><g transform="translate(665.27 171.95) scale(1 0.9892)"><g clip-path="url(#us)"><g filter="url(#bl)"><rect x="-2.7" y="-1.1" width="21.4" height="8.9" fill="#64e6aa"/><rect x="18.1" y="-1.1" width="5.8" height="8.9" fill="#ffffff"/><rect x="23.3" y="-1.1" width="11.0" height="8.9" fill="#ffff00"/><rect x="33.7" y="-1.1" width="11.0" height="8.9" fill="#ffec50"/><rect x="44.1" y="-1.1" width="11.0" height="8.9" fill="#fcd470"/><rect x="54.5" y="-1.1" width="5.8" height="8.9" fill="#f8b448"/><rect x="59.7" y="-1.1" width="21.4" height="8.9" fill="#fcd470"/><rect x="80.5" y="-1.1" width="5.8" height="8.9" fill="#f8b448"/><rect x="85.7" y="-1.1" width="5.8" height="8.9" fill="#fcd470"/><rect x="-2.7" y="7.2" width="5.8" height="7.2" fill="#64e6aa"/><rect x="2.5" y="7.2" width="5.8" height="7.2" fill="#b4f0e0"/><rect x="7.7" y="7.2" width="5.8" height="7.2" fill="#ffffff"/><rect x="12.9" y="7.2" width="5.8" height="7.2" fill="#b4f0e0"/><rect x="18.1" y="7.2" width="5.8" height="7.2" fill="#ffec50"/><rect x="23.3" y="7.2" width="5.8" height="7.2" fill="#ffff00"/><rect x="28.5" y="7.2" width="11.0" height="7.2" fill="#ffec50"/><rect x="38.9" y="7.2" width="11.0" height="7.2" fill="#fcd470"/><rect x="49.3" y="7.2" width="5.8" height="7.2" fill="#f8b448"/><rect x="54.5" y="7.2" width="5.8" height="7.2" fill="#fcd470"/><rect x="59.7" y="7.2" width="11.0" height="7.2" fill="#f8b448"/><rect x="70.1" y="7.2" width="37.0" height="7.2" fill="#fcd470"/><rect x="137.7" y="7.2" width="5.8" height="7.2" fill="#fcd470"/><rect x="142.9" y="7.2" width="11.0" height="7.2" fill="#ffec50"/><rect x="-2.7" y="13.9" width="5.8" height="7.2" fill="#64e6aa"/><rect x="2.5" y="13.9" width="5.8" height="7.2" fill="#ffffff"/><rect x="7.7" y="13.9" width="5.8" height="7.2" fill="#b4f0e0"/><rect x="12.9" y="13.9" width="5.8" height="7.2" fill="#ffffff"/><rect x="18.1" y="13.9" width="5.8" height="7.2" fill="#ffec50"/><rect x="23.3" y="13.9" width="5.8" height="7.2" fill="#ffff00"/><rect x="28.5" y="13.9" width="5.8" height="7.2" fill="#ffec50"/><rect x="33.7" y="13.9" width="5.8" height="7.2" fill="#f8b448"/><rect x="38.9" y="13.9" width="5.8" height="7.2" fill="#f05a10"/><rect x="44.1" y="13.9" width="5.8" height="7.2" fill="#f8b448"/><rect x="49.3" y="13.9" width="5.8" height="7.2" fill="#f05a10"/><rect x="54.5" y="13.9" width="16.2" height="7.2" fill="#f8b448"/><rect x="70.1" y="13.9" width="42.2" height="7.2" fill="#fcd470"/><rect x="116.9" y="13.9" width="11.0" height="7.2" fill="#fcd470"/><rect x="127.3" y="13.9" width="5.8" height="7.2" fill="#f8b448"/><rect x="132.5" y="13.9" width="11.0" height="7.2" fill="#fcd470"/><rect x="142.9" y="13.9" width="11.0" height="7.2" fill="#ffec50"/><rect x="-2.7" y="20.5" width="5.8" height="7.2" fill="#64e6aa"/><rect x="2.5" y="20.5" width="11.0" height="7.2" fill="#ffffff"/><rect x="12.9" y="20.5" width="5.8" height="7.2" fill="#ffec50"/><rect x="18.1" y="20.5" width="5.8" height="7.2" fill="#ffff00"/><rect x="23.3" y="20.5" width="11.0" height="7.2" fill="#ffec50"/><rect x="33.7" y="20.5" width="5.8" height="7.2" fill="#f8b448"/><rect x="38.9" y="20.5" width="11.0" height="7.2" fill="#e61400"/><rect x="49.3" y="20.5" width="5.8" height="7.2" fill="#b00000"/><rect x="54.5" y="20.5" width="5.8" height="7.2" fill="#e61400"/><rect x="59.7" y="20.5" width="11.0" height="7.2" fill="#f8b448"/><rect x="70.1" y="20.5" width="5.8" height="7.2" fill="#f05a10"/><rect x="75.3" y="20.5" width="11.0" height="7.2" fill="#f8b448"/><rect x="85.7" y="20.5" width="47.4" height="7.2" fill="#fcd470"/><rect x="132.5" y="20.5" width="11.0" height="7.2" fill="#ffec50"/><rect x="-2.7" y="27.2" width="5.8" height="7.2" fill="#64e6aa"/><rect x="2.5" y="27.2" width="5.8" height="7.2" fill="#b4f0e0"/><rect x="7.7" y="27.2" width="5.8" height="7.2" fill="#ffec50"/><rect x="12.9" y="27.2" width="5.8" height="7.2" fill="#fcd470"/><rect x="18.1" y="27.2" width="11.0" height="7.2" fill="#f8b448"/><rect x="28.5" y="27.2" width="5.8" height="7.2" fill="#f05a10"/><rect x="33.7" y="27.2" width="5.8" height="7.2" fill="#e61400"/><rect x="38.9" y="27.2" width="5.8" height="7.2" fill="#b00000"/><rect x="44.1" y="27.2" width="5.8" height="7.2" fill="#7a0000"/><rect x="49.3" y="27.2" width="5.8" height="7.2" fill="#b00000"/><rect x="54.5" y="27.2" width="5.8" height="7.2" fill="#e61400"/><rect x="59.7" y="27.2" width="5.8" height="7.2" fill="#f05a10"/><rect x="64.9" y="27.2" width="11.0" height="7.2" fill="#f8b448"/><rect x="75.3" y="27.2" width="5.8" height="7.2" fill="#fcd470"/><rect x="80.5" y="27.2" width="5.8" height="7.2" fill="#f8b448"/><rect x="85.7" y="27.2" width="16.2" height="7.2" fill="#fcd470"/><rect x="101.3" y="27.2" width="5.8" height="7.2" fill="#f8b448"/><rect x="106.5" y="27.2" width="11.0" height="7.2" fill="#fcd470"/><rect x="116.9" y="27.2" width="21.4" height="7.2" fill="#ffec50"/><rect x="2.5" y="33.8" width="11.0" height="7.2" fill="#ffec50"/><rect x="12.9" y="33.8" width="16.2" height="7.2" fill="#f8b448"/><rect x="28.5" y="33.8" width="5.8" height="7.2" fill="#f05a10"/><rect x="33.7" y="33.8" width="5.8" height="7.2" fill="#e61400"/><rect x="38.9" y="33.8" width="5.8" height="7.2" fill="#b00000"/><rect x="44.1" y="33.8" width="5.8" height="7.2" fill="#7a0000"/><rect x="49.3" y="33.8" width="5.8" height="7.2" fill="#b00000"/><rect x="54.5" y="33.8" width="11.0" height="7.2" fill="#e61400"/><rect x="64.9" y="33.8" width="5.8" height="7.2" fill="#f05a10"/><rect x="70.1" y="33.8" width="16.2" height="7.2" fill="#f8b448"/><rect x="85.7" y="33.8" width="5.8" height="7.2" fill="#fcd470"/><rect x="90.9" y="33.8" width="5.8" height="7.2" fill="#ffec50"/><rect x="96.1" y="33.8" width="5.8" height="7.2" fill="#fcd470"/><rect x="101.3" y="33.8" width="11.0" height="7.2" fill="#ffec50"/><rect x="111.7" y="33.8" width="16.2" height="7.2" fill="#ffff00"/><rect x="2.5" y="40.4" width="5.8" height="7.2" fill="#ffec50"/><rect x="7.7" y="40.4" width="5.8" height="7.2" fill="#ffff00"/><rect x="12.9" y="40.4" width="5.8" height="7.2" fill="#f8b448"/><rect x="18.1" y="40.4" width="5.8" height="7.2" fill="#f05a10"/><rect x="23.3" y="40.4" width="5.8" height="7.2" fill="#e61400"/><rect x="28.5" y="40.4" width="11.0" height="7.2" fill="#f05a10"/><rect x="38.9" y="40.4" width="5.8" height="7.2" fill="#e61400"/><rect x="44.1" y="40.4" width="5.8" height="7.2" fill="#b00000"/><rect x="49.3" y="40.4" width="5.8" height="7.2" fill="#e61400"/><rect x="54.5" y="40.4" width="5.8" height="7.2" fill="#b00000"/><rect x="59.7" y="40.4" width="5.8" height="7.2" fill="#e61400"/><rect x="64.9" y="40.4" width="16.2" height="7.2" fill="#f8b448"/><rect x="80.5" y="40.4" width="5.8" height="7.2" fill="#fcd470"/><rect x="85.7" y="40.4" width="5.8" height="7.2" fill="#ffec50"/><rect x="90.9" y="40.4" width="21.4" height="7.2" fill="#ffff00"/><rect x="111.7" y="40.4" width="5.8" height="7.2" fill="#ffec50"/><rect x="116.9" y="40.4" width="11.0" height="7.2" fill="#b4f0e0"/><rect x="7.7" y="47.1" width="5.8" height="7.2" fill="#fcd470"/><rect x="12.9" y="47.1" width="5.8" height="7.2" fill="#f8b448"/><rect x="18.1" y="47.1" width="5.8" height="7.2" fill="#f05a10"/><rect x="23.3" y="47.1" width="5.8" height="7.2" fill="#e61400"/><rect x="28.5" y="47.1" width="11.0" height="7.2" fill="#f8b448"/><rect x="38.9" y="47.1" width="5.8" height="7.2" fill="#f05a10"/><rect x="44.1" y="47.1" width="5.8" height="7.2" fill="#e61400"/><rect x="49.3" y="47.1" width="5.8" height="7.2" fill="#b00000"/><rect x="54.5" y="47.1" width="5.8" height="7.2" fill="#e61400"/><rect x="59.7" y="47.1" width="5.8" height="7.2" fill="#f05a10"/><rect x="64.9" y="47.1" width="16.2" height="7.2" fill="#f8b448"/><rect x="80.5" y="47.1" width="5.8" height="7.2" fill="#fcd470"/><rect x="85.7" y="47.1" width="11.0" height="7.2" fill="#ffff00"/><rect x="96.1" y="47.1" width="5.8" height="7.2" fill="#ffec50"/><rect x="101.3" y="47.1" width="5.8" height="7.2" fill="#ffff00"/><rect x="106.5" y="47.1" width="5.8" height="7.2" fill="#ffec50"/><rect x="111.7" y="47.1" width="11.0" height="7.2" fill="#b4f0e0"/><rect x="122.1" y="47.1" width="5.8" height="7.2" fill="#64e6aa"/><rect x="12.9" y="53.7" width="11.0" height="7.2" fill="#f8b448"/><rect x="23.3" y="53.7" width="5.8" height="7.2" fill="#f05a10"/><rect x="28.5" y="53.7" width="5.8" height="7.2" fill="#e61400"/><rect x="33.7" y="53.7" width="5.8" height="7.2" fill="#f8b448"/><rect x="38.9" y="53.7" width="5.8" height="7.2" fill="#f05a10"/><rect x="44.1" y="53.7" width="5.8" height="7.2" fill="#e61400"/><rect x="49.3" y="53.7" width="5.8" height="7.2" fill="#f05a10"/><rect x="54.5" y="53.7" width="5.8" height="7.2" fill="#e61400"/><rect x="59.7" y="53.7" width="11.0" height="7.2" fill="#f8b448"/><rect x="70.1" y="53.7" width="5.8" height="7.2" fill="#fcd470"/><rect x="75.3" y="53.7" width="5.8" height="7.2" fill="#f8b448"/><rect x="80.5" y="53.7" width="5.8" height="7.2" fill="#fcd470"/><rect x="85.7" y="53.7" width="11.0" height="7.2" fill="#ffff00"/><rect x="96.1" y="53.7" width="5.8" height="7.2" fill="#ffec50"/><rect x="101.3" y="53.7" width="5.8" height="7.2" fill="#ffffff"/><rect x="106.5" y="53.7" width="11.0" height="7.2" fill="#ffec50"/><rect x="23.3" y="60.4" width="5.8" height="7.2" fill="#f8b448"/><rect x="28.5" y="60.4" width="5.8" height="7.2" fill="#f05a10"/><rect x="33.7" y="60.4" width="21.4" height="7.2" fill="#f8b448"/><rect x="54.5" y="60.4" width="5.8" height="7.2" fill="#f05a10"/><rect x="59.7" y="60.4" width="5.8" height="7.2" fill="#f8b448"/><rect x="64.9" y="60.4" width="5.8" height="7.2" fill="#fcd470"/><rect x="70.1" y="60.4" width="5.8" height="7.2" fill="#f8b448"/><rect x="75.3" y="60.4" width="5.8" height="7.2" fill="#fcd470"/><rect x="80.5" y="60.4" width="5.8" height="7.2" fill="#f8b448"/><rect x="85.7" y="60.4" width="5.8" height="7.2" fill="#ffec50"/><rect x="90.9" y="60.4" width="11.0" height="7.2" fill="#ffff00"/><rect x="101.3" y="60.4" width="5.8" height="7.2" fill="#ffec50"/><rect x="106.5" y="60.4" width="5.8" height="7.2" fill="#ffff00"/><rect x="54.5" y="67.0" width="5.8" height="7.2" fill="#f8b448"/><rect x="59.7" y="67.0" width="5.8" height="7.2" fill="#fcd470"/><rect x="64.9" y="67.0" width="5.8" height="7.2" fill="#f8b448"/><rect x="70.1" y="67.0" width="11.0" height="7.2" fill="#fcd470"/><rect x="106.5" y="67.0" width="5.8" height="7.2" fill="#ffff00"/><rect x="111.7" y="67.0" width="5.8" height="7.2" fill="#ffec50"/><rect x="64.9" y="73.6" width="5.8" height="7.2" fill="#fcd470"/><rect x="70.1" y="73.6" width="5.8" height="7.2" fill="#f8b448"/><rect x="106.5" y="73.6" width="11.0" height="7.2" fill="#ffec50"/><rect x="70.1" y="80.3" width="5.8" height="7.2" fill="#f8b448"/><rect x="111.7" y="80.3" width="5.8" height="7.2" fill="#ffff00"/></g></g><use href="#st"/></g><rect x="665.77" y="172.45" width="152.90" height="86.15" fill="none" stroke="#474747" stroke-width="1.1"/><path d="M678.42 258.60v-2M678.42 172.45v2M704.42 258.60v-2M704.42 172.45v2M730.42 258.60v-2M730.42 172.45v2M756.42 258.60v-2M756.42 172.45v2M782.42 258.60v-2M782.42 172.45v2M808.42 258.60v-2M808.42 172.45v2M665.77 254.94h2M818.67 254.94h-2M665.77 238.52h2M818.67 238.52h-2M665.77 222.10h2M818.67 222.10h-2M665.77 205.68h2M818.67 205.68h-2M665.77 189.26h2M818.67 189.26h-2" stroke="#474747" stroke-width="0.9"/><g font-size="12.2" fill="#333"><text x="676.62" y="274.90" text-anchor="middle" textLength="17.5" lengthAdjust="spacingAndGlyphs">-120</text><text x="702.62" y="274.90" text-anchor="middle" textLength="17.5" lengthAdjust="spacingAndGlyphs">-110</text><text x="728.62" y="274.90" text-anchor="middle" textLength="17.5" lengthAdjust="spacingAndGlyphs">-100</text><text x="754.62" y="274.90" text-anchor="middle" textLength="12.9" lengthAdjust="spacingAndGlyphs">-90</text><text x="780.62" y="274.90" text-anchor="middle" textLength="12.9" lengthAdjust="spacingAndGlyphs">-80</text><text x="806.62" y="274.90" text-anchor="middle" textLength="12.9" lengthAdjust="spacingAndGlyphs">-70</text><text x="661.87" y="260.34" text-anchor="end" textLength="10" lengthAdjust="spacingAndGlyphs">25</text><text x="661.87" y="243.92" text-anchor="end" textLength="10" lengthAdjust="spacingAndGlyphs">30</text><text x="661.87" y="227.50" text-anchor="end" textLength="10" lengthAdjust="spacingAndGlyphs">35</text><text x="661.87" y="211.08" text-anchor="end" textLength="10" lengthAdjust="spacingAndGlyphs">40</text><text x="661.87" y="194.66" text-anchor="end" textLength="10" lengthAdjust="spacingAndGlyphs">45</text></g><text transform="translate(741.87 166.25) scale(0.82 1)" font-size="18" text-anchor="middle" fill="#000">(i)</text><g transform="translate(865.81 171.95) scale(1 0.9892)"><g clip-path="url(#us)"><g filter="url(#bl)"><rect x="-2.7" y="-1.1" width="5.8" height="8.9" fill="#28c8f0"/><rect x="2.5" y="-1.1" width="5.8" height="8.9" fill="#2896f0"/><rect x="7.7" y="-1.1" width="5.8" height="8.9" fill="#1e64f0"/><rect x="12.9" y="-1.1" width="5.8" height="8.9" fill="#28c8f0"/><rect x="18.1" y="-1.1" width="5.8" height="8.9" fill="#ffec50"/><rect x="23.3" y="-1.1" width="5.8" height="8.9" fill="#28c8f0"/><rect x="28.5" y="-1.1" width="11.0" height="8.9" fill="#ffec50"/><rect x="38.9" y="-1.1" width="5.8" height="8.9" fill="#ffff00"/><rect x="44.1" y="-1.1" width="11.0" height="8.9" fill="#ffec50"/><rect x="54.5" y="-1.1" width="5.8" height="8.9" fill="#e61400"/><rect x="59.7" y="-1.1" width="5.8" height="8.9" fill="#f05a10"/><rect x="64.9" y="-1.1" width="5.8" height="8.9" fill="#f8b448"/><rect x="70.1" y="-1.1" width="5.8" height="8.9" fill="#fcd470"/><rect x="75.3" y="-1.1" width="5.8" height="8.9" fill="#ffec50"/><rect x="80.5" y="-1.1" width="5.8" height="8.9" fill="#fcd470"/><rect x="85.7" y="-1.1" width="5.8" height="8.9" fill="#ffec50"/><rect x="-2.7" y="7.2" width="11.0" height="7.2" fill="#28c8f0"/><rect x="7.7" y="7.2" width="5.8" height="7.2" fill="#2896f0"/><rect x="12.9" y="7.2" width="11.0" height="7.2" fill="#ffec50"/><rect x="23.3" y="7.2" width="5.8" height="7.2" fill="#2896f0"/><rect x="28.5" y="7.2" width="5.8" height="7.2" fill="#28c8f0"/><rect x="33.7" y="7.2" width="16.2" height="7.2" fill="#ffec50"/><rect x="49.3" y="7.2" width="5.8" height="7.2" fill="#ffff00"/><rect x="54.5" y="7.2" width="5.8" height="7.2" fill="#fcd470"/><rect x="59.7" y="7.2" width="5.8" height="7.2" fill="#f8b448"/><rect x="64.9" y="7.2" width="5.8" height="7.2" fill="#ffec50"/><rect x="70.1" y="7.2" width="5.8" height="7.2" fill="#ffff00"/><rect x="75.3" y="7.2" width="11.0" height="7.2" fill="#ffec50"/><rect x="85.7" y="7.2" width="5.8" height="7.2" fill="#b4f0e0"/><rect x="90.9" y="7.2" width="5.8" height="7.2" fill="#ffec50"/><rect x="96.1" y="7.2" width="11.0" height="7.2" fill="#b4f0e0"/><rect x="137.7" y="7.2" width="5.8" height="7.2" fill="#e61400"/><rect x="142.9" y="7.2" width="5.8" height="7.2" fill="#f05a10"/><rect x="148.1" y="7.2" width="5.8" height="7.2" fill="#f8b448"/><rect x="-2.7" y="13.9" width="5.8" height="7.2" fill="#28c8f0"/><rect x="2.5" y="13.9" width="5.8" height="7.2" fill="#2896f0"/><rect x="7.7" y="13.9" width="5.8" height="7.2" fill="#28c8f0"/><rect x="12.9" y="13.9" width="5.8" height="7.2" fill="#2896f0"/><rect x="18.1" y="13.9" width="11.0" height="7.2" fill="#1e64f0"/><rect x="28.5" y="13.9" width="5.8" height="7.2" fill="#2896f0"/><rect x="33.7" y="13.9" width="5.8" height="7.2" fill="#1e64f0"/><rect x="38.9" y="13.9" width="5.8" height="7.2" fill="#2896f0"/><rect x="44.1" y="13.9" width="5.8" height="7.2" fill="#28c8f0"/><rect x="49.3" y="13.9" width="5.8" height="7.2" fill="#ffec50"/><rect x="54.5" y="13.9" width="5.8" height="7.2" fill="#ffff00"/><rect x="59.7" y="13.9" width="5.8" height="7.2" fill="#fcd470"/><rect x="64.9" y="13.9" width="5.8" height="7.2" fill="#ffec50"/><rect x="70.1" y="13.9" width="5.8" height="7.2" fill="#ffff00"/><rect x="75.3" y="13.9" width="11.0" height="7.2" fill="#ffec50"/><rect x="85.7" y="13.9" width="26.6" height="7.2" fill="#b4f0e0"/><rect x="116.9" y="13.9" width="5.8" height="7.2" fill="#ffec50"/><rect x="122.1" y="13.9" width="5.8" height="7.2" fill="#f8b448"/><rect x="127.3" y="13.9" width="5.8" height="7.2" fill="#b00000"/><rect x="132.5" y="13.9" width="11.0" height="7.2" fill="#f05a10"/><rect x="142.9" y="13.9" width="5.8" height="7.2" fill="#f8b448"/><rect x="148.1" y="13.9" width="5.8" height="7.2" fill="#fcd470"/><rect x="-2.7" y="20.5" width="5.8" height="7.2" fill="#64e6aa"/><rect x="2.5" y="20.5" width="5.8" height="7.2" fill="#2896f0"/><rect x="7.7" y="20.5" width="11.0" height="7.2" fill="#0818d0"/><rect x="18.1" y="20.5" width="5.8" height="7.2" fill="#1e64f0"/><rect x="23.3" y="20.5" width="5.8" height="7.2" fill="#2896f0"/><rect x="28.5" y="20.5" width="5.8" height="7.2" fill="#28c8f0"/><rect x="33.7" y="20.5" width="5.8" height="7.2" fill="#1e64f0"/><rect x="38.9" y="20.5" width="5.8" height="7.2" fill="#2896f0"/><rect x="44.1" y="20.5" width="5.8" height="7.2" fill="#28c8f0"/><rect x="49.3" y="20.5" width="5.8" height="7.2" fill="#b4f0e0"/><rect x="54.5" y="20.5" width="5.8" height="7.2" fill="#ffec50"/><rect x="59.7" y="20.5" width="5.8" height="7.2" fill="#fcd470"/><rect x="64.9" y="20.5" width="11.0" height="7.2" fill="#ffec50"/><rect x="75.3" y="20.5" width="5.8" height="7.2" fill="#ffff00"/><rect x="80.5" y="20.5" width="5.8" height="7.2" fill="#ffec50"/><rect x="85.7" y="20.5" width="5.8" height="7.2" fill="#b4f0e0"/><rect x="90.9" y="20.5" width="11.0" height="7.2" fill="#64e6aa"/><rect x="101.3" y="20.5" width="5.8" height="7.2" fill="#b4f0e0"/><rect x="106.5" y="20.5" width="16.2" height="7.2" fill="#ffec50"/><rect x="122.1" y="20.5" width="5.8" height="7.2" fill="#f8b448"/><rect x="127.3" y="20.5" width="5.8" height="7.2" fill="#e61400"/><rect x="132.5" y="20.5" width="5.8" height="7.2" fill="#f8b448"/><rect x="137.7" y="20.5" width="5.8" height="7.2" fill="#fcd470"/><rect x="-2.7" y="27.2" width="5.8" height="7.2" fill="#64e6aa"/><rect x="2.5" y="27.2" width="5.8" height="7.2" fill="#ffec50"/><rect x="7.7" y="27.2" width="5.8" height="7.2" fill="#1e64f0"/><rect x="12.9" y="27.2" width="16.2" height="7.2" fill="#0818d0"/><rect x="28.5" y="27.2" width="5.8" height="7.2" fill="#1e64f0"/><rect x="33.7" y="27.2" width="5.8" height="7.2" fill="#0818d0"/><rect x="38.9" y="27.2" width="5.8" height="7.2" fill="#1e64f0"/><rect x="44.1" y="27.2" width="5.8" height="7.2" fill="#2896f0"/><rect x="49.3" y="27.2" width="5.8" height="7.2" fill="#28c8f0"/><rect x="54.5" y="27.2" width="11.0" height="7.2" fill="#ffec50"/><rect x="64.9" y="27.2" width="5.8" height="7.2" fill="#fcd470"/><rect x="70.1" y="27.2" width="5.8" height="7.2" fill="#ffec50"/><rect x="75.3" y="27.2" width="5.8" height="7.2" fill="#ffff00"/><rect x="80.5" y="27.2" width="5.8" height="7.2" fill="#ffec50"/><rect x="85.7" y="27.2" width="5.8" height="7.2" fill="#b4f0e0"/><rect x="90.9" y="27.2" width="5.8" height="7.2" fill="#64e6aa"/><rect x="96.1" y="27.2" width="5.8" height="7.2" fill="#b4f0e0"/><rect x="101.3" y="27.2" width="11.0" height="7.2" fill="#ffec50"/><rect x="111.7" y="27.2" width="5.8" height="7.2" fill="#ffff00"/><rect x="116.9" y="27.2" width="21.4" height="7.2" fill="#ffec50"/><rect x="2.5" y="33.8" width="5.8" height="7.2" fill="#b4f0e0"/><rect x="7.7" y="33.8" width="5.8" height="7.2" fill="#2896f0"/><rect x="12.9" y="33.8" width="16.2" height="7.2" fill="#0818d0"/><rect x="28.5" y="33.8" width="5.8" height="7.2" fill="#1e64f0"/><rect x="33.7" y="33.8" width="5.8" height="7.2" fill="#0818d0"/><rect x="38.9" y="33.8" width="5.8" height="7.2" fill="#1e64f0"/><rect x="44.1" y="33.8" width="5.8" height="7.2" fill="#2896f0"/><rect x="49.3" y="33.8" width="5.8" height="7.2" fill="#28c8f0"/><rect x="54.5" y="33.8" width="5.8" height="7.2" fill="#ffec50"/><rect x="59.7" y="33.8" width="5.8" height="7.2" fill="#fcd470"/><rect x="64.9" y="33.8" width="5.8" height="7.2" fill="#f8b448"/><rect x="70.1" y="33.8" width="11.0" height="7.2" fill="#ffec50"/><rect x="80.5" y="33.8" width="5.8" height="7.2" fill="#ffff00"/><rect x="85.7" y="33.8" width="11.0" height="7.2" fill="#b4f0e0"/><rect x="96.1" y="33.8" width="21.4" height="7.2" fill="#ffec50"/><rect x="116.9" y="33.8" width="5.8" height="7.2" fill="#fcd470"/><rect x="122.1" y="33.8" width="5.8" height="7.2" fill="#ffec50"/><rect x="2.5" y="40.4" width="5.8" height="7.2" fill="#b4f0e0"/><rect x="7.7" y="40.4" width="5.8" height="7.2" fill="#28c8f0"/><rect x="12.9" y="40.4" width="5.8" height="7.2" fill="#2896f0"/><rect x="18.1" y="40.4" width="5.8" height="7.2" fill="#1e64f0"/><rect x="23.3" y="40.4" width="11.0" height="7.2" fill="#0818d0"/><rect x="33.7" y="40.4" width="11.0" height="7.2" fill="#1e64f0"/><rect x="44.1" y="40.4" width="5.8" height="7.2" fill="#28c8f0"/><rect x="49.3" y="40.4" width="5.8" height="7.2" fill="#b4f0e0"/><rect x="54.5" y="40.4" width="5.8" height="7.2" fill="#ffec50"/><rect x="59.7" y="40.4" width="5.8" height="7.2" fill="#fcd470"/><rect x="64.9" y="40.4" width="5.8" height="7.2" fill="#f05a10"/><rect x="70.1" y="40.4" width="5.8" height="7.2" fill="#e61400"/><rect x="75.3" y="40.4" width="16.2" height="7.2" fill="#ffec50"/><rect x="90.9" y="40.4" width="5.8" height="7.2" fill="#f8b448"/><rect x="96.1" y="40.4" width="5.8" height="7.2" fill="#fcd470"/><rect x="101.3" y="40.4" width="5.8" height="7.2" fill="#ffec50"/><rect x="106.5" y="40.4" width="5.8" height="7.2" fill="#fcd470"/><rect x="111.7" y="40.4" width="16.2" height="7.2" fill="#ffec50"/><rect x="7.7" y="47.1" width="11.0" height="7.2" fill="#28c8f0"/><rect x="18.1" y="47.1" width="5.8" height="7.2" fill="#1e64f0"/><rect x="23.3" y="47.1" width="5.8" height="7.2" fill="#0818d0"/><rect x="28.5" y="47.1" width="5.8" height="7.2" fill="#1e64f0"/><rect x="33.7" y="47.1" width="5.8" height="7.2" fill="#2896f0"/><rect x="38.9" y="47.1" width="5.8" height="7.2" fill="#1e64f0"/><rect x="44.1" y="47.1" width="5.8" height="7.2" fill="#2896f0"/><rect x="49.3" y="47.1" width="5.8" height="7.2" fill="#b4f0e0"/><rect x="54.5" y="47.1" width="5.8" height="7.2" fill="#fcd470"/><rect x="59.7" y="47.1" width="5.8" height="7.2" fill="#b00000"/><rect x="64.9" y="47.1" width="5.8" height="7.2" fill="#e61400"/><rect x="70.1" y="47.1" width="5.8" height="7.2" fill="#f8b448"/><rect x="75.3" y="47.1" width="11.0" height="7.2" fill="#ffec50"/><rect x="85.7" y="47.1" width="5.8" height="7.2" fill="#ffff00"/><rect x="90.9" y="47.1" width="11.0" height="7.2" fill="#ffec50"/><rect x="101.3" y="47.1" width="5.8" height="7.2" fill="#f8b448"/><rect x="106.5" y="47.1" width="21.4" height="7.2" fill="#ffec50"/><rect x="12.9" y="53.7" width="5.8" height="7.2" fill="#28c8f0"/><rect x="18.1" y="53.7" width="5.8" height="7.2" fill="#1e64f0"/><rect x="23.3" y="53.7" width="5.8" height="7.2" fill="#0818d0"/><rect x="28.5" y="53.7" width="5.8" height="7.2" fill="#2896f0"/><rect x="33.7" y="53.7" width="5.8" height="7.2" fill="#1e64f0"/><rect x="38.9" y="53.7" width="5.8" height="7.2" fill="#28c8f0"/><rect x="44.1" y="53.7" width="11.0" height="7.2" fill="#2896f0"/><rect x="54.5" y="53.7" width="5.8" height="7.2" fill="#ffec50"/><rect x="59.7" y="53.7" width="5.8" height="7.2" fill="#fcd470"/><rect x="64.9" y="53.7" width="5.8" height="7.2" fill="#f8b448"/><rect x="70.1" y="53.7" width="5.8" height="7.2" fill="#fcd470"/><rect x="75.3" y="53.7" width="11.0" height="7.2" fill="#ffec50"/><rect x="85.7" y="53.7" width="5.8" height="7.2" fill="#ffff00"/><rect x="90.9" y="53.7" width="5.8" height="7.2" fill="#ffec50"/><rect x="96.1" y="53.7" width="5.8" height="7.2" fill="#b4f0e0"/><rect x="101.3" y="53.7" width="16.2" height="7.2" fill="#ffec50"/><rect x="23.3" y="60.4" width="5.8" height="7.2" fill="#1e64f0"/><rect x="28.5" y="60.4" width="5.8" height="7.2" fill="#2896f0"/><rect x="33.7" y="60.4" width="5.8" height="7.2" fill="#28c8f0"/><rect x="38.9" y="60.4" width="11.0" height="7.2" fill="#2896f0"/><rect x="49.3" y="60.4" width="5.8" height="7.2" fill="#1e64f0"/><rect x="54.5" y="60.4" width="5.8" height="7.2" fill="#b4f0e0"/><rect x="59.7" y="60.4" width="5.8" height="7.2" fill="#fcd470"/><rect x="64.9" y="60.4" width="11.0" height="7.2" fill="#f8b448"/><rect x="75.3" y="60.4" width="5.8" height="7.2" fill="#ffec50"/><rect x="80.5" y="60.4" width="5.8" height="7.2" fill="#f8b448"/><rect x="85.7" y="60.4" width="5.8" height="7.2" fill="#ffec50"/><rect x="90.9" y="60.4" width="5.8" height="7.2" fill="#ffff00"/><rect x="96.1" y="60.4" width="16.2" height="7.2" fill="#ffec50"/><rect x="54.5" y="67.0" width="5.8" height="7.2" fill="#2896f0"/><rect x="59.7" y="67.0" width="5.8" height="7.2" fill="#fcd470"/><rect x="64.9" y="67.0" width="5.8" height="7.2" fill="#f8b448"/><rect x="70.1" y="67.0" width="5.8" height="7.2" fill="#fcd470"/><rect x="75.3" y="67.0" width="5.8" height="7.2" fill="#ffec50"/><rect x="106.5" y="67.0" width="5.8" height="7.2" fill="#ffec50"/><rect x="111.7" y="67.0" width="5.8" height="7.2" fill="#ffff00"/><rect x="64.9" y="73.6" width="11.0" height="7.2" fill="#ffec50"/><rect x="106.5" y="73.6" width="5.8" height="7.2" fill="#ffec50"/><rect x="111.7" y="73.6" width="5.8" height="7.2" fill="#f8b448"/><rect x="70.1" y="80.3" width="5.8" height="7.2" fill="#ffec50"/><rect x="111.7" y="80.3" width="5.8" height="7.2" fill="#f8b448"/></g></g><use href="#st"/></g><rect x="866.31" y="172.45" width="152.90" height="86.15" fill="none" stroke="#474747" stroke-width="1.1"/><path d="M878.96 258.60v-2M878.96 172.45v2M904.96 258.60v-2M904.96 172.45v2M930.96 258.60v-2M930.96 172.45v2M956.96 258.60v-2M956.96 172.45v2M982.96 258.60v-2M982.96 172.45v2M1008.96 258.60v-2M1008.96 172.45v2M866.31 254.94h2M1019.21 254.94h-2M866.31 238.52h2M1019.21 238.52h-2M866.31 222.10h2M1019.21 222.10h-2M866.31 205.68h2M1019.21 205.68h-2M866.31 189.26h2M1019.21 189.26h-2" stroke="#474747" stroke-width="0.9"/><g font-size="12.2" fill="#333"><text x="877.16" y="274.90" text-anchor="middle" textLength="17.5" lengthAdjust="spacingAndGlyphs">-120</text><text x="903.16" y="274.90" text-anchor="middle" textLength="17.5" lengthAdjust="spacingAndGlyphs">-110</text><text x="929.16" y="274.90" text-anchor="middle" textLength="17.5" lengthAdjust="spacingAndGlyphs">-100</text><text x="955.16" y="274.90" text-anchor="middle" textLength="12.9" lengthAdjust="spacingAndGlyphs">-90</text><text x="981.16" y="274.90" text-anchor="middle" textLength="12.9" lengthAdjust="spacingAndGlyphs">-80</text><text x="1007.16" y="274.90" text-anchor="middle" textLength="12.9" lengthAdjust="spacingAndGlyphs">-70</text><text x="862.41" y="260.34" text-anchor="end" textLength="10" lengthAdjust="spacingAndGlyphs">25</text><text x="862.41" y="243.92" text-anchor="end" textLength="10" lengthAdjust="spacingAndGlyphs">30</text><text x="862.41" y="227.50" text-anchor="end" textLength="10" lengthAdjust="spacingAndGlyphs">35</text><text x="862.41" y="211.08" text-anchor="end" textLength="10" lengthAdjust="spacingAndGlyphs">40</text><text x="862.41" y="194.66" text-anchor="end" textLength="10" lengthAdjust="spacingAndGlyphs">45</text></g><text transform="translate(939.61 166.25) scale(0.82 1)" font-size="18" text-anchor="middle" fill="#000">(j)</text><g transform="translate(63.65 297.60) scale(1 0.9966)"><g clip-path="url(#us)"><g filter="url(#bl)"><rect x="-2.7" y="-1.1" width="5.8" height="8.9" fill="#64e6aa"/><rect x="2.5" y="-1.1" width="5.8" height="8.9" fill="#ffec50"/><rect x="7.7" y="-1.1" width="5.8" height="8.9" fill="#64e6aa"/><rect x="12.9" y="-1.1" width="5.8" height="8.9" fill="#28c8f0"/><rect x="18.1" y="-1.1" width="5.8" height="8.9" fill="#b4f0e0"/><rect x="23.3" y="-1.1" width="16.2" height="8.9" fill="#ffec50"/><rect x="38.9" y="-1.1" width="5.8" height="8.9" fill="#fcd470"/><rect x="44.1" y="-1.1" width="11.0" height="8.9" fill="#ffec50"/><rect x="54.5" y="-1.1" width="5.8" height="8.9" fill="#64e6aa"/><rect x="59.7" y="-1.1" width="11.0" height="8.9" fill="#ffec50"/><rect x="70.1" y="-1.1" width="5.8" height="8.9" fill="#ffff00"/><rect x="75.3" y="-1.1" width="5.8" height="8.9" fill="#ffec50"/><rect x="80.5" y="-1.1" width="5.8" height="8.9" fill="#64e6aa"/><rect x="85.7" y="-1.1" width="5.8" height="8.9" fill="#b4f0e0"/><rect x="-2.7" y="7.2" width="11.0" height="7.2" fill="#64e6aa"/><rect x="7.7" y="7.2" width="5.8" height="7.2" fill="#b4f0e0"/><rect x="12.9" y="7.2" width="5.8" height="7.2" fill="#28c8f0"/><rect x="18.1" y="7.2" width="11.0" height="7.2" fill="#ffec50"/><rect x="28.5" y="7.2" width="5.8" height="7.2" fill="#fcd470"/><rect x="33.7" y="7.2" width="5.8" height="7.2" fill="#f8b448"/><rect x="38.9" y="7.2" width="5.8" height="7.2" fill="#fcd470"/><rect x="44.1" y="7.2" width="5.8" height="7.2" fill="#f8b448"/><rect x="49.3" y="7.2" width="5.8" height="7.2" fill="#fcd470"/><rect x="54.5" y="7.2" width="5.8" height="7.2" fill="#ffec50"/><rect x="59.7" y="7.2" width="5.8" height="7.2" fill="#ffff00"/><rect x="64.9" y="7.2" width="11.0" height="7.2" fill="#ffec50"/><rect x="75.3" y="7.2" width="5.8" height="7.2" fill="#ffff00"/><rect x="80.5" y="7.2" width="5.8" height="7.2" fill="#ffec50"/><rect x="85.7" y="7.2" width="21.4" height="7.2" fill="#f8b448"/><rect x="137.7" y="7.2" width="5.8" height="7.2" fill="#b4f0e0"/><rect x="142.9" y="7.2" width="11.0" height="7.2" fill="#e2f6b8"/><rect x="-2.7" y="13.9" width="5.8" height="7.2" fill="#64e6aa"/><rect x="2.5" y="13.9" width="5.8" height="7.2" fill="#28c8f0"/><rect x="7.7" y="13.9" width="5.8" height="7.2" fill="#64e6aa"/><rect x="12.9" y="13.9" width="5.8" height="7.2" fill="#ffec50"/><rect x="18.1" y="13.9" width="5.8" height="7.2" fill="#f8b448"/><rect x="23.3" y="13.9" width="5.8" height="7.2" fill="#ffec50"/><rect x="28.5" y="13.9" width="5.8" height="7.2" fill="#f8b448"/><rect x="33.7" y="13.9" width="5.8" height="7.2" fill="#e61400"/><rect x="38.9" y="13.9" width="5.8" height="7.2" fill="#b00000"/><rect x="44.1" y="13.9" width="5.8" height="7.2" fill="#f05a10"/><rect x="49.3" y="13.9" width="5.8" height="7.2" fill="#e61400"/><rect x="54.5" y="13.9" width="5.8" height="7.2" fill="#f05a10"/><rect x="59.7" y="13.9" width="5.8" height="7.2" fill="#f8b448"/><rect x="64.9" y="13.9" width="11.0" height="7.2" fill="#ffec50"/><rect x="75.3" y="13.9" width="5.8" height="7.2" fill="#ffff00"/><rect x="80.5" y="13.9" width="5.8" height="7.2" fill="#ffec50"/><rect x="85.7" y="13.9" width="5.8" height="7.2" fill="#f05a10"/><rect x="90.9" y="13.9" width="11.0" height="7.2" fill="#e61400"/><rect x="101.3" y="13.9" width="11.0" height="7.2" fill="#f8b448"/><rect x="116.9" y="13.9" width="5.8" height="7.2" fill="#ffec50"/><rect x="122.1" y="13.9" width="11.0" height="7.2" fill="#e2f6b8"/><rect x="132.5" y="13.9" width="5.8" height="7.2" fill="#ffec50"/><rect x="137.7" y="13.9" width="16.2" height="7.2" fill="#e2f6b8"/><rect x="-2.7" y="20.5" width="5.8" height="7.2" fill="#64e6aa"/><rect x="2.5" y="20.5" width="5.8" height="7.2" fill="#ffec50"/><rect x="7.7" y="20.5" width="5.8" height="7.2" fill="#f8b448"/><rect x="12.9" y="20.5" width="5.8" height="7.2" fill="#b00000"/><rect x="18.1" y="20.5" width="5.8" height="7.2" fill="#f05a10"/><rect x="23.3" y="20.5" width="5.8" height="7.2" fill="#f8b448"/><rect x="28.5" y="20.5" width="5.8" height="7.2" fill="#e61400"/><rect x="33.7" y="20.5" width="5.8" height="7.2" fill="#b00000"/><rect x="38.9" y="20.5" width="5.8" height="7.2" fill="#7a0000"/><rect x="44.1" y="20.5" width="16.2" height="7.2" fill="#b00000"/><rect x="59.7" y="20.5" width="5.8" height="7.2" fill="#e61400"/><rect x="64.9" y="20.5" width="16.2" height="7.2" fill="#f8b448"/><rect x="80.5" y="20.5" width="5.8" height="7.2" fill="#f05a10"/><rect x="85.7" y="20.5" width="5.8" height="7.2" fill="#e61400"/><rect x="90.9" y="20.5" width="11.0" height="7.2" fill="#b00000"/><rect x="101.3" y="20.5" width="5.8" height="7.2" fill="#f05a10"/><rect x="106.5" y="20.5" width="5.8" height="7.2" fill="#f8b448"/><rect x="111.7" y="20.5" width="16.2" height="7.2" fill="#ffec50"/><rect x="127.3" y="20.5" width="16.2" height="7.2" fill="#e2f6b8"/><rect x="-2.7" y="27.2" width="11.0" height="7.2" fill="#b4f0e0"/><rect x="7.7" y="27.2" width="5.8" height="7.2" fill="#ffec50"/><rect x="12.9" y="27.2" width="11.0" height="7.2" fill="#b00000"/><rect x="23.3" y="27.2" width="5.8" height="7.2" fill="#e61400"/><rect x="28.5" y="27.2" width="5.8" height="7.2" fill="#f05a10"/><rect x="33.7" y="27.2" width="5.8" height="7.2" fill="#b00000"/><rect x="38.9" y="27.2" width="5.8" height="7.2" fill="#7a0000"/><rect x="44.1" y="27.2" width="5.8" height="7.2" fill="#b00000"/><rect x="49.3" y="27.2" width="11.0" height="7.2" fill="#7a0000"/><rect x="59.7" y="27.2" width="16.2" height="7.2" fill="#b00000"/><rect x="75.3" y="27.2" width="5.8" height="7.2" fill="#e61400"/><rect x="80.5" y="27.2" width="5.8" height="7.2" fill="#b00000"/><rect x="85.7" y="27.2" width="5.8" height="7.2" fill="#7a0000"/><rect x="90.9" y="27.2" width="5.8" height="7.2" fill="#f05a10"/><rect x="96.1" y="27.2" width="5.8" height="7.2" fill="#b00000"/><rect x="101.3" y="27.2" width="5.8" height="7.2" fill="#e61400"/><rect x="106.5" y="27.2" width="5.8" height="7.2" fill="#f8b448"/><rect x="111.7" y="27.2" width="16.2" height="7.2" fill="#ffec50"/><rect x="127.3" y="27.2" width="11.0" height="7.2" fill="#e2f6b8"/><rect x="2.5" y="33.8" width="5.8" height="7.2" fill="#b4f0e0"/><rect x="7.7" y="33.8" width="5.8" height="7.2" fill="#ffec50"/><rect x="12.9" y="33.8" width="5.8" height="7.2" fill="#b00000"/><rect x="18.1" y="33.8" width="5.8" height="7.2" fill="#7a0000"/><rect x="23.3" y="33.8" width="5.8" height="7.2" fill="#f05a10"/><rect x="28.5" y="33.8" width="5.8" height="7.2" fill="#f8b448"/><rect x="33.7" y="33.8" width="5.8" height="7.2" fill="#b00000"/><rect x="38.9" y="33.8" width="5.8" height="7.2" fill="#7a0000"/><rect x="44.1" y="33.8" width="5.8" height="7.2" fill="#f05a10"/><rect x="49.3" y="33.8" width="5.8" height="7.2" fill="#b00000"/><rect x="54.5" y="33.8" width="21.4" height="7.2" fill="#7a0000"/><rect x="75.3" y="33.8" width="5.8" height="7.2" fill="#b00000"/><rect x="80.5" y="33.8" width="5.8" height="7.2" fill="#7a0000"/><rect x="85.7" y="33.8" width="5.8" height="7.2" fill="#b00000"/><rect x="90.9" y="33.8" width="5.8" height="7.2" fill="#f05a10"/><rect x="96.1" y="33.8" width="5.8" height="7.2" fill="#f8b448"/><rect x="101.3" y="33.8" width="11.0" height="7.2" fill="#ffec50"/><rect x="111.7" y="33.8" width="16.2" height="7.2" fill="#e2f6b8"/><rect x="2.5" y="40.4" width="5.8" height="7.2" fill="#b4f0e0"/><rect x="7.7" y="40.4" width="5.8" height="7.2" fill="#f8b448"/><rect x="12.9" y="40.4" width="5.8" height="7.2" fill="#e61400"/><rect x="18.1" y="40.4" width="5.8" height="7.2" fill="#b00000"/><rect x="23.3" y="40.4" width="5.8" height="7.2" fill="#f05a10"/><rect x="28.5" y="40.4" width="11.0" height="7.2" fill="#b00000"/><rect x="38.9" y="40.4" width="11.0" height="7.2" fill="#7a0000"/><rect x="49.3" y="40.4" width="5.8" height="7.2" fill="#f05a10"/><rect x="54.5" y="40.4" width="5.8" height="7.2" fill="#b00000"/><rect x="59.7" y="40.4" width="5.8" height="7.2" fill="#7a0000"/><rect x="64.9" y="40.4" width="5.8" height="7.2" fill="#b00000"/><rect x="70.1" y="40.4" width="5.8" height="7.2" fill="#f05a10"/><rect x="75.3" y="40.4" width="5.8" height="7.2" fill="#e61400"/><rect x="80.5" y="40.4" width="5.8" height="7.2" fill="#b00000"/><rect x="85.7" y="40.4" width="11.0" height="7.2" fill="#ffec50"/><rect x="96.1" y="40.4" width="5.8" height="7.2" fill="#e2f6b8"/><rect x="101.3" y="40.4" width="5.8" height="7.2" fill="#ffec50"/><rect x="106.5" y="40.4" width="11.0" height="7.2" fill="#e2f6b8"/><rect x="116.9" y="40.4" width="5.8" height="7.2" fill="#b4f0e0"/><rect x="122.1" y="40.4" width="5.8" height="7.2" fill="#e2f6b8"/><rect x="7.7" y="47.1" width="5.8" height="7.2" fill="#f8b448"/><rect x="12.9" y="47.1" width="5.8" height="7.2" fill="#e61400"/><rect x="18.1" y="47.1" width="5.8" height="7.2" fill="#b00000"/><rect x="23.3" y="47.1" width="5.8" height="7.2" fill="#7a0000"/><rect x="28.5" y="47.1" width="11.0" height="7.2" fill="#f05a10"/><rect x="38.9" y="47.1" width="5.8" height="7.2" fill="#b00000"/><rect x="44.1" y="47.1" width="5.8" height="7.2" fill="#f05a10"/><rect x="49.3" y="47.1" width="5.8" height="7.2" fill="#b00000"/><rect x="54.5" y="47.1" width="5.8" height="7.2" fill="#7a0000"/><rect x="59.7" y="47.1" width="5.8" height="7.2" fill="#b00000"/><rect x="64.9" y="47.1" width="5.8" height="7.2" fill="#f8b448"/><rect x="70.1" y="47.1" width="5.8" height="7.2" fill="#ffec50"/><rect x="75.3" y="47.1" width="5.8" height="7.2" fill="#f05a10"/><rect x="80.5" y="47.1" width="5.8" height="7.2" fill="#f8b448"/><rect x="85.7" y="47.1" width="5.8" height="7.2" fill="#e2f6b8"/><rect x="90.9" y="47.1" width="5.8" height="7.2" fill="#b4f0e0"/><rect x="96.1" y="47.1" width="11.0" height="7.2" fill="#e2f6b8"/><rect x="106.5" y="47.1" width="5.8" height="7.2" fill="#b4f0e0"/><rect x="111.7" y="47.1" width="5.8" height="7.2" fill="#e2f6b8"/><rect x="116.9" y="47.1" width="5.8" height="7.2" fill="#b4f0e0"/><rect x="122.1" y="47.1" width="5.8" height="7.2" fill="#e2f6b8"/><rect x="12.9" y="53.7" width="5.8" height="7.2" fill="#f05a10"/><rect x="18.1" y="53.7" width="11.0" height="7.2" fill="#b00000"/><rect x="28.5" y="53.7" width="5.8" height="7.2" fill="#f05a10"/><rect x="33.7" y="53.7" width="5.8" height="7.2" fill="#f8b448"/><rect x="38.9" y="53.7" width="5.8" height="7.2" fill="#f05a10"/><rect x="44.1" y="53.7" width="5.8" height="7.2" fill="#f8b448"/><rect x="49.3" y="53.7" width="11.0" height="7.2" fill="#b00000"/><rect x="59.7" y="53.7" width="5.8" height="7.2" fill="#f8b448"/><rect x="64.9" y="53.7" width="21.4" height="7.2" fill="#ffec50"/><rect x="85.7" y="53.7" width="5.8" height="7.2" fill="#e2f6b8"/><rect x="90.9" y="53.7" width="5.8" height="7.2" fill="#b4f0e0"/><rect x="96.1" y="53.7" width="5.8" height="7.2" fill="#e2f6b8"/><rect x="101.3" y="53.7" width="5.8" height="7.2" fill="#b4f0e0"/><rect x="106.5" y="53.7" width="11.0" height="7.2" fill="#e2f6b8"/><rect x="23.3" y="60.4" width="5.8" height="7.2" fill="#f05a10"/><rect x="28.5" y="60.4" width="21.4" height="7.2" fill="#f8b448"/><rect x="49.3" y="60.4" width="5.8" height="7.2" fill="#b00000"/><rect x="54.5" y="60.4" width="5.8" height="7.2" fill="#e61400"/><rect x="59.7" y="60.4" width="5.8" height="7.2" fill="#ffec50"/><rect x="64.9" y="60.4" width="5.8" height="7.2" fill="#b4f0e0"/><rect x="70.1" y="60.4" width="11.0" height="7.2" fill="#ffec50"/><rect x="80.5" y="60.4" width="5.8" height="7.2" fill="#b4f0e0"/><rect x="85.7" y="60.4" width="5.8" height="7.2" fill="#e2f6b8"/><rect x="90.9" y="60.4" width="5.8" height="7.2" fill="#b4f0e0"/><rect x="96.1" y="60.4" width="5.8" height="7.2" fill="#e2f6b8"/><rect x="101.3" y="60.4" width="11.0" height="7.2" fill="#b4f0e0"/><rect x="54.5" y="67.0" width="5.8" height="7.2" fill="#e61400"/><rect x="59.7" y="67.0" width="5.8" height="7.2" fill="#ffec50"/><rect x="64.9" y="67.0" width="5.8" height="7.2" fill="#b4f0e0"/><rect x="70.1" y="67.0" width="5.8" height="7.2" fill="#ffec50"/><rect x="75.3" y="67.0" width="5.8" height="7.2" fill="#b4f0e0"/><rect x="106.5" y="67.0" width="11.0" height="7.2" fill="#e2f6b8"/><rect x="64.9" y="73.6" width="5.8" height="7.2" fill="#ffec50"/><rect x="70.1" y="73.6" width="5.8" height="7.2" fill="#f8b448"/><rect x="106.5" y="73.6" width="5.8" height="7.2" fill="#e2f6b8"/><rect x="111.7" y="73.6" width="5.8" height="7.2" fill="#28c8f0"/><rect x="70.1" y="80.3" width="5.8" height="7.2" fill="#f8b448"/><rect x="111.7" y="80.3" width="5.8" height="7.2" fill="#2896f0"/></g></g><use href="#st"/></g><rect x="64.15" y="298.10" width="152.90" height="86.80" fill="none" stroke="#474747" stroke-width="1.1"/><path d="M76.80 384.90v-2M76.80 298.10v2M102.80 384.90v-2M102.80 298.10v2M128.80 384.90v-2M128.80 298.10v2M154.80 384.90v-2M154.80 298.10v2M180.80 384.90v-2M180.80 298.10v2M206.80 384.90v-2M206.80 298.10v2M64.15 381.21h2M217.05 381.21h-2M64.15 364.67h2M217.05 364.67h-2M64.15 348.12h2M217.05 348.12h-2M64.15 331.58h2M217.05 331.58h-2M64.15 315.04h2M217.05 315.04h-2" stroke="#474747" stroke-width="0.9"/><g font-size="12.2" fill="#333"><text x="75.00" y="401.20" text-anchor="middle" textLength="17.5" lengthAdjust="spacingAndGlyphs">-120</text><text x="101.00" y="401.20" text-anchor="middle" textLength="17.5" lengthAdjust="spacingAndGlyphs">-110</text><text x="127.00" y="401.20" text-anchor="middle" textLength="17.5" lengthAdjust="spacingAndGlyphs">-100</text><text x="153.00" y="401.20" text-anchor="middle" textLength="12.9" lengthAdjust="spacingAndGlyphs">-90</text><text x="179.00" y="401.20" text-anchor="middle" textLength="12.9" lengthAdjust="spacingAndGlyphs">-80</text><text x="205.00" y="401.20" text-anchor="middle" textLength="12.9" lengthAdjust="spacingAndGlyphs">-70</text><text x="60.25" y="386.61" text-anchor="end" textLength="10" lengthAdjust="spacingAndGlyphs">25</text><text x="60.25" y="370.07" text-anchor="end" textLength="10" lengthAdjust="spacingAndGlyphs">30</text><text x="60.25" y="353.52" text-anchor="end" textLength="10" lengthAdjust="spacingAndGlyphs">35</text><text x="60.25" y="336.98" text-anchor="end" textLength="10" lengthAdjust="spacingAndGlyphs">40</text><text x="60.25" y="320.44" text-anchor="end" textLength="10" lengthAdjust="spacingAndGlyphs">45</text></g><text transform="translate(143.65 291.90) scale(0.82 1)" font-size="18" text-anchor="middle" fill="#000">(k)</text><g transform="translate(264.19 297.60) scale(1 0.9966)"><g clip-path="url(#us)"><g filter="url(#bl)"><rect x="-2.7" y="-1.1" width="21.4" height="8.9" fill="#64e6aa"/><rect x="18.1" y="-1.1" width="5.8" height="8.9" fill="#ffffff"/><rect x="23.3" y="-1.1" width="16.2" height="8.9" fill="#ffff00"/><rect x="38.9" y="-1.1" width="5.8" height="8.9" fill="#ffec50"/><rect x="44.1" y="-1.1" width="26.6" height="8.9" fill="#fcd470"/><rect x="70.1" y="-1.1" width="11.0" height="8.9" fill="#f8b448"/><rect x="80.5" y="-1.1" width="11.0" height="8.9" fill="#fcd470"/><rect x="-2.7" y="7.2" width="11.0" height="7.2" fill="#64e6aa"/><rect x="7.7" y="7.2" width="11.0" height="7.2" fill="#ffffff"/><rect x="18.1" y="7.2" width="11.0" height="7.2" fill="#ffff00"/><rect x="28.5" y="7.2" width="16.2" height="7.2" fill="#fcd470"/><rect x="44.1" y="7.2" width="5.8" height="7.2" fill="#f8b448"/><rect x="49.3" y="7.2" width="11.0" height="7.2" fill="#fcd470"/><rect x="59.7" y="7.2" width="11.0" height="7.2" fill="#f8b448"/><rect x="70.1" y="7.2" width="5.8" height="7.2" fill="#fcd470"/><rect x="75.3" y="7.2" width="16.2" height="7.2" fill="#f8b448"/><rect x="90.9" y="7.2" width="16.2" height="7.2" fill="#fcd470"/><rect x="137.7" y="7.2" width="5.8" height="7.2" fill="#ffec50"/><rect x="142.9" y="7.2" width="11.0" height="7.2" fill="#ffff00"/><rect x="-2.7" y="13.9" width="5.8" height="7.2" fill="#64e6aa"/><rect x="2.5" y="13.9" width="16.2" height="7.2" fill="#ffffff"/><rect x="18.1" y="13.9" width="11.0" height="7.2" fill="#ffff00"/><rect x="28.5" y="13.9" width="5.8" height="7.2" fill="#ffec50"/><rect x="33.7" y="13.9" width="16.2" height="7.2" fill="#fcd470"/><rect x="49.3" y="13.9" width="11.0" height="7.2" fill="#f8b448"/><rect x="59.7" y="13.9" width="11.0" height="7.2" fill="#f05a10"/><rect x="70.1" y="13.9" width="5.8" height="7.2" fill="#f8b448"/><rect x="75.3" y="13.9" width="11.0" height="7.2" fill="#f05a10"/><rect x="85.7" y="13.9" width="5.8" height="7.2" fill="#f8b448"/><rect x="90.9" y="13.9" width="11.0" height="7.2" fill="#e61400"/><rect x="101.3" y="13.9" width="11.0" height="7.2" fill="#f8b448"/><rect x="116.9" y="13.9" width="11.0" height="7.2" fill="#fcd470"/><rect x="127.3" y="13.9" width="5.8" height="7.2" fill="#f8b448"/><rect x="132.5" y="13.9" width="5.8" height="7.2" fill="#fcd470"/><rect x="137.7" y="13.9" width="5.8" height="7.2" fill="#ffec50"/><rect x="142.9" y="13.9" width="11.0" height="7.2" fill="#ffff00"/><rect x="-2.7" y="20.5" width="5.8" height="7.2" fill="#64e6aa"/><rect x="2.5" y="20.5" width="11.0" height="7.2" fill="#ffffff"/><rect x="12.9" y="20.5" width="5.8" height="7.2" fill="#ffec50"/><rect x="18.1" y="20.5" width="16.2" height="7.2" fill="#ffff00"/><rect x="33.7" y="20.5" width="11.0" height="7.2" fill="#fcd470"/><rect x="44.1" y="20.5" width="5.8" height="7.2" fill="#f8b448"/><rect x="49.3" y="20.5" width="16.2" height="7.2" fill="#e61400"/><rect x="64.9" y="20.5" width="5.8" height="7.2" fill="#f05a10"/><rect x="70.1" y="20.5" width="11.0" height="7.2" fill="#e61400"/><rect x="80.5" y="20.5" width="5.8" height="7.2" fill="#f05a10"/><rect x="85.7" y="20.5" width="5.8" height="7.2" fill="#e61400"/><rect x="90.9" y="20.5" width="16.2" height="7.2" fill="#f05a10"/><rect x="106.5" y="20.5" width="5.8" height="7.2" fill="#f8b448"/><rect x="111.7" y="20.5" width="16.2" height="7.2" fill="#fcd470"/><rect x="127.3" y="20.5" width="5.8" height="7.2" fill="#f8b448"/><rect x="132.5" y="20.5" width="5.8" height="7.2" fill="#fcd470"/><rect x="137.7" y="20.5" width="5.8" height="7.2" fill="#ffec50"/><rect x="-2.7" y="27.2" width="11.0" height="7.2" fill="#64e6aa"/><rect x="7.7" y="27.2" width="5.8" height="7.2" fill="#ffec50"/><rect x="12.9" y="27.2" width="11.0" height="7.2" fill="#fcd470"/><rect x="23.3" y="27.2" width="5.8" height="7.2" fill="#ffec50"/><rect x="28.5" y="27.2" width="11.0" height="7.2" fill="#fcd470"/><rect x="38.9" y="27.2" width="5.8" height="7.2" fill="#f8b448"/><rect x="44.1" y="27.2" width="5.8" height="7.2" fill="#f05a10"/><rect x="49.3" y="27.2" width="21.4" height="7.2" fill="#b00000"/><rect x="70.1" y="27.2" width="11.0" height="7.2" fill="#e61400"/><rect x="80.5" y="27.2" width="5.8" height="7.2" fill="#f05a10"/><rect x="85.7" y="27.2" width="5.8" height="7.2" fill="#e61400"/><rect x="90.9" y="27.2" width="16.2" height="7.2" fill="#f05a10"/><rect x="106.5" y="27.2" width="5.8" height="7.2" fill="#f8b448"/><rect x="111.7" y="27.2" width="16.2" height="7.2" fill="#fcd470"/><rect x="127.3" y="27.2" width="5.8" height="7.2" fill="#f8b448"/><rect x="132.5" y="27.2" width="5.8" height="7.2" fill="#fcd470"/><rect x="2.5" y="33.8" width="5.8" height="7.2" fill="#64e6aa"/><rect x="7.7" y="33.8" width="5.8" height="7.2" fill="#ffec50"/><rect x="12.9" y="33.8" width="16.2" height="7.2" fill="#fcd470"/><rect x="28.5" y="33.8" width="21.4" height="7.2" fill="#f05a10"/><rect x="49.3" y="33.8" width="5.8" height="7.2" fill="#e61400"/><rect x="54.5" y="33.8" width="21.4" height="7.2" fill="#7a0000"/><rect x="75.3" y="33.8" width="5.8" height="7.2" fill="#b00000"/><rect x="80.5" y="33.8" width="5.8" height="7.2" fill="#e61400"/><rect x="85.7" y="33.8" width="5.8" height="7.2" fill="#f05a10"/><rect x="90.9" y="33.8" width="11.0" height="7.2" fill="#f8b448"/><rect x="101.3" y="33.8" width="5.8" height="7.2" fill="#fcd470"/><rect x="106.5" y="33.8" width="5.8" height="7.2" fill="#ffec50"/><rect x="111.7" y="33.8" width="16.2" height="7.2" fill="#fcd470"/><rect x="2.5" y="40.4" width="5.8" height="7.2" fill="#64e6aa"/><rect x="7.7" y="40.4" width="11.0" height="7.2" fill="#ffec50"/><rect x="18.1" y="40.4" width="5.8" height="7.2" fill="#fcd470"/><rect x="23.3" y="40.4" width="11.0" height="7.2" fill="#f05a10"/><rect x="33.7" y="40.4" width="5.8" height="7.2" fill="#f8b448"/><rect x="38.9" y="40.4" width="5.8" height="7.2" fill="#fcd470"/><rect x="44.1" y="40.4" width="5.8" height="7.2" fill="#f8b448"/><rect x="49.3" y="40.4" width="5.8" height="7.2" fill="#f05a10"/><rect x="54.5" y="40.4" width="5.8" height="7.2" fill="#b00000"/><rect x="59.7" y="40.4" width="5.8" height="7.2" fill="#7a0000"/><rect x="64.9" y="40.4" width="5.8" height="7.2" fill="#b00000"/><rect x="70.1" y="40.4" width="5.8" height="7.2" fill="#f05a10"/><rect x="75.3" y="40.4" width="5.8" height="7.2" fill="#b00000"/><rect x="80.5" y="40.4" width="5.8" height="7.2" fill="#e61400"/><rect x="85.7" y="40.4" width="5.8" height="7.2" fill="#f8b448"/><rect x="90.9" y="40.4" width="5.8" height="7.2" fill="#fcd470"/><rect x="96.1" y="40.4" width="11.0" height="7.2" fill="#f8b448"/><rect x="106.5" y="40.4" width="5.8" height="7.2" fill="#fcd470"/><rect x="111.7" y="40.4" width="16.2" height="7.2" fill="#ffec50"/><rect x="7.7" y="47.1" width="5.8" height="7.2" fill="#ffec50"/><rect x="12.9" y="47.1" width="5.8" height="7.2" fill="#fcd470"/><rect x="18.1" y="47.1" width="5.8" height="7.2" fill="#f05a10"/><rect x="23.3" y="47.1" width="5.8" height="7.2" fill="#e61400"/><rect x="28.5" y="47.1" width="11.0" height="7.2" fill="#fcd470"/><rect x="38.9" y="47.1" width="5.8" height="7.2" fill="#f8b448"/><rect x="44.1" y="47.1" width="5.8" height="7.2" fill="#fcd470"/><rect x="49.3" y="47.1" width="5.8" height="7.2" fill="#f8b448"/><rect x="54.5" y="47.1" width="5.8" height="7.2" fill="#f05a10"/><rect x="59.7" y="47.1" width="5.8" height="7.2" fill="#b00000"/><rect x="64.9" y="47.1" width="5.8" height="7.2" fill="#e61400"/><rect x="70.1" y="47.1" width="5.8" height="7.2" fill="#f8b448"/><rect x="75.3" y="47.1" width="5.8" height="7.2" fill="#e61400"/><rect x="80.5" y="47.1" width="5.8" height="7.2" fill="#f8b448"/><rect x="85.7" y="47.1" width="5.8" height="7.2" fill="#ffec50"/><rect x="90.9" y="47.1" width="11.0" height="7.2" fill="#ffff00"/><rect x="101.3" y="47.1" width="5.8" height="7.2" fill="#ffec50"/><rect x="106.5" y="47.1" width="5.8" height="7.2" fill="#ffff00"/><rect x="111.7" y="47.1" width="11.0" height="7.2" fill="#ffec50"/><rect x="122.1" y="47.1" width="5.8" height="7.2" fill="#ffff00"/><rect x="12.9" y="53.7" width="5.8" height="7.2" fill="#fcd470"/><rect x="18.1" y="53.7" width="5.8" height="7.2" fill="#e61400"/><rect x="23.3" y="53.7" width="11.0" height="7.2" fill="#f05a10"/><rect x="33.7" y="53.7" width="5.8" height="7.2" fill="#f8b448"/><rect x="38.9" y="53.7" width="5.8" height="7.2" fill="#fcd470"/><rect x="44.1" y="53.7" width="11.0" height="7.2" fill="#f8b448"/><rect x="54.5" y="53.7" width="5.8" height="7.2" fill="#e61400"/><rect x="59.7" y="53.7" width="5.8" height="7.2" fill="#f05a10"/><rect x="64.9" y="53.7" width="11.0" height="7.2" fill="#f8b448"/><rect x="75.3" y="53.7" width="5.8" height="7.2" fill="#fcd470"/><rect x="80.5" y="53.7" width="5.8" height="7.2" fill="#ffec50"/><rect x="85.7" y="53.7" width="16.2" height="7.2" fill="#ffff00"/><rect x="101.3" y="53.7" width="5.8" height="7.2" fill="#ffffff"/><rect x="106.5" y="53.7" width="11.0" height="7.2" fill="#ffec50"/><rect x="23.3" y="60.4" width="5.8" height="7.2" fill="#f8b448"/><rect x="28.5" y="60.4" width="5.8" height="7.2" fill="#f05a10"/><rect x="33.7" y="60.4" width="5.8" height="7.2" fill="#f8b448"/><rect x="38.9" y="60.4" width="11.0" height="7.2" fill="#fcd470"/><rect x="49.3" y="60.4" width="21.4" height="7.2" fill="#f8b448"/><rect x="70.1" y="60.4" width="5.8" height="7.2" fill="#fcd470"/><rect x="75.3" y="60.4" width="11.0" height="7.2" fill="#ffec50"/><rect x="85.7" y="60.4" width="11.0" height="7.2" fill="#ffff00"/><rect x="96.1" y="60.4" width="5.8" height="7.2" fill="#ffec50"/><rect x="101.3" y="60.4" width="11.0" height="7.2" fill="#ffff00"/><rect x="54.5" y="67.0" width="5.8" height="7.2" fill="#f8b448"/><rect x="59.7" y="67.0" width="5.8" height="7.2" fill="#fcd470"/><rect x="64.9" y="67.0" width="16.2" height="7.2" fill="#ffec50"/><rect x="106.5" y="67.0" width="5.8" height="7.2" fill="#ffff00"/><rect x="111.7" y="67.0" width="5.8" height="7.2" fill="#ffec50"/><rect x="64.9" y="73.6" width="5.8" height="7.2" fill="#ffec50"/><rect x="70.1" y="73.6" width="5.8" height="7.2" fill="#ffff00"/><rect x="106.5" y="73.6" width="5.8" height="7.2" fill="#ffff00"/><rect x="111.7" y="73.6" width="5.8" height="7.2" fill="#ffec50"/><rect x="70.1" y="80.3" width="5.8" height="7.2" fill="#ffec50"/><rect x="111.7" y="80.3" width="5.8" height="7.2" fill="#ffff00"/></g></g><use href="#st"/></g><rect x="264.69" y="298.10" width="152.90" height="86.80" fill="none" stroke="#474747" stroke-width="1.1"/><path d="M277.34 384.90v-2M277.34 298.10v2M303.34 384.90v-2M303.34 298.10v2M329.34 384.90v-2M329.34 298.10v2M355.34 384.90v-2M355.34 298.10v2M381.34 384.90v-2M381.34 298.10v2M407.34 384.90v-2M407.34 298.10v2M264.69 381.21h2M417.59 381.21h-2M264.69 364.67h2M417.59 364.67h-2M264.69 348.12h2M417.59 348.12h-2M264.69 331.58h2M417.59 331.58h-2M264.69 315.04h2M417.59 315.04h-2" stroke="#474747" stroke-width="0.9"/><g font-size="12.2" fill="#333"><text x="275.54" y="401.20" text-anchor="middle" textLength="17.5" lengthAdjust="spacingAndGlyphs">-120</text><text x="301.54" y="401.20" text-anchor="middle" textLength="17.5" lengthAdjust="spacingAndGlyphs">-110</text><text x="327.54" y="401.20" text-anchor="middle" textLength="17.5" lengthAdjust="spacingAndGlyphs">-100</text><text x="353.54" y="401.20" text-anchor="middle" textLength="12.9" lengthAdjust="spacingAndGlyphs">-90</text><text x="379.54" y="401.20" text-anchor="middle" textLength="12.9" lengthAdjust="spacingAndGlyphs">-80</text><text x="405.54" y="401.20" text-anchor="middle" textLength="12.9" lengthAdjust="spacingAndGlyphs">-70</text><text x="260.79" y="386.61" text-anchor="end" textLength="10" lengthAdjust="spacingAndGlyphs">25</text><text x="260.79" y="370.07" text-anchor="end" textLength="10" lengthAdjust="spacingAndGlyphs">30</text><text x="260.79" y="353.52" text-anchor="end" textLength="10" lengthAdjust="spacingAndGlyphs">35</text><text x="260.79" y="336.98" text-anchor="end" textLength="10" lengthAdjust="spacingAndGlyphs">40</text><text x="260.79" y="320.44" text-anchor="end" textLength="10" lengthAdjust="spacingAndGlyphs">45</text></g><text transform="translate(344.89 291.90) scale(0.82 1)" font-size="18" text-anchor="middle" fill="#000">(l)</text><g transform="translate(464.73 297.60) scale(1 0.9966)"><g clip-path="url(#us)"><g filter="url(#bl)"><rect x="-2.7" y="-1.1" width="5.8" height="8.9" fill="#ffec50"/><rect x="2.5" y="-1.1" width="5.8" height="8.9" fill="#f8b448"/><rect x="7.7" y="-1.1" width="5.8" height="8.9" fill="#64e6aa"/><rect x="12.9" y="-1.1" width="5.8" height="8.9" fill="#28c8f0"/><rect x="18.1" y="-1.1" width="5.8" height="8.9" fill="#b4f0e0"/><rect x="23.3" y="-1.1" width="16.2" height="8.9" fill="#ffec50"/><rect x="38.9" y="-1.1" width="5.8" height="8.9" fill="#b4f0e0"/><rect x="44.1" y="-1.1" width="5.8" height="8.9" fill="#28c8f0"/><rect x="49.3" y="-1.1" width="5.8" height="8.9" fill="#64e6aa"/><rect x="54.5" y="-1.1" width="5.8" height="8.9" fill="#1e64f0"/><rect x="59.7" y="-1.1" width="5.8" height="8.9" fill="#1040e8"/><rect x="64.9" y="-1.1" width="5.8" height="8.9" fill="#1e64f0"/><rect x="70.1" y="-1.1" width="5.8" height="8.9" fill="#1040e8"/><rect x="75.3" y="-1.1" width="5.8" height="8.9" fill="#1e64f0"/><rect x="80.5" y="-1.1" width="11.0" height="8.9" fill="#2896f0"/><rect x="-2.7" y="7.2" width="5.8" height="7.2" fill="#ffec50"/><rect x="2.5" y="7.2" width="5.8" height="7.2" fill="#64e6aa"/><rect x="7.7" y="7.2" width="5.8" height="7.2" fill="#ffec50"/><rect x="12.9" y="7.2" width="5.8" height="7.2" fill="#28c8f0"/><rect x="18.1" y="7.2" width="5.8" height="7.2" fill="#ffec50"/><rect x="23.3" y="7.2" width="5.8" height="7.2" fill="#f8b448"/><rect x="28.5" y="7.2" width="16.2" height="7.2" fill="#ffec50"/><rect x="44.1" y="7.2" width="5.8" height="7.2" fill="#64e6aa"/><rect x="49.3" y="7.2" width="5.8" height="7.2" fill="#b4f0e0"/><rect x="54.5" y="7.2" width="5.8" height="7.2" fill="#2896f0"/><rect x="59.7" y="7.2" width="5.8" height="7.2" fill="#1e64f0"/><rect x="64.9" y="7.2" width="5.8" height="7.2" fill="#2896f0"/><rect x="70.1" y="7.2" width="5.8" height="7.2" fill="#1e64f0"/><rect x="75.3" y="7.2" width="11.0" height="7.2" fill="#2896f0"/><rect x="85.7" y="7.2" width="5.8" height="7.2" fill="#1e64f0"/><rect x="90.9" y="7.2" width="16.2" height="7.2" fill="#2896f0"/><rect x="137.7" y="7.2" width="5.8" height="7.2" fill="#1e64f0"/><rect x="142.9" y="7.2" width="11.0" height="7.2" fill="#2896f0"/><rect x="-2.7" y="13.9" width="11.0" height="7.2" fill="#ffec50"/><rect x="7.7" y="13.9" width="5.8" height="7.2" fill="#f05a10"/><rect x="12.9" y="13.9" width="11.0" height="7.2" fill="#ffec50"/><rect x="23.3" y="13.9" width="5.8" height="7.2" fill="#f8b448"/><rect x="28.5" y="13.9" width="5.8" height="7.2" fill="#ffec50"/><rect x="33.7" y="13.9" width="5.8" height="7.2" fill="#f8b448"/><rect x="38.9" y="13.9" width="5.8" height="7.2" fill="#e61400"/><rect x="44.1" y="13.9" width="5.8" height="7.2" fill="#ffec50"/><rect x="49.3" y="13.9" width="5.8" height="7.2" fill="#ffff00"/><rect x="54.5" y="13.9" width="5.8" height="7.2" fill="#ffec50"/><rect x="59.7" y="13.9" width="5.8" height="7.2" fill="#28c8f0"/><rect x="64.9" y="13.9" width="47.4" height="7.2" fill="#2896f0"/><rect x="116.9" y="13.9" width="5.8" height="7.2" fill="#0818d0"/><rect x="122.1" y="13.9" width="11.0" height="7.2" fill="#1040e8"/><rect x="132.5" y="13.9" width="11.0" height="7.2" fill="#1e64f0"/><rect x="142.9" y="13.9" width="11.0" height="7.2" fill="#2896f0"/><rect x="-2.7" y="20.5" width="5.8" height="7.2" fill="#ffec50"/><rect x="2.5" y="20.5" width="11.0" height="7.2" fill="#b00000"/><rect x="12.9" y="20.5" width="5.8" height="7.2" fill="#ffec50"/><rect x="18.1" y="20.5" width="5.8" height="7.2" fill="#f05a10"/><rect x="23.3" y="20.5" width="5.8" height="7.2" fill="#ffec50"/><rect x="28.5" y="20.5" width="5.8" height="7.2" fill="#ffff00"/><rect x="33.7" y="20.5" width="5.8" height="7.2" fill="#ffec50"/><rect x="38.9" y="20.5" width="5.8" height="7.2" fill="#f05a10"/><rect x="44.1" y="20.5" width="5.8" height="7.2" fill="#ffec50"/><rect x="49.3" y="20.5" width="11.0" height="7.2" fill="#ffff00"/><rect x="59.7" y="20.5" width="5.8" height="7.2" fill="#ffec50"/><rect x="64.9" y="20.5" width="5.8" height="7.2" fill="#64e6aa"/><rect x="70.1" y="20.5" width="16.2" height="7.2" fill="#28c8f0"/><rect x="85.7" y="20.5" width="5.8" height="7.2" fill="#b4f0e0"/><rect x="90.9" y="20.5" width="16.2" height="7.2" fill="#28c8f0"/><rect x="106.5" y="20.5" width="5.8" height="7.2" fill="#2896f0"/><rect x="111.7" y="20.5" width="5.8" height="7.2" fill="#1e64f0"/><rect x="116.9" y="20.5" width="16.2" height="7.2" fill="#1040e8"/><rect x="132.5" y="20.5" width="11.0" height="7.2" fill="#1e64f0"/><rect x="-2.7" y="27.2" width="11.0" height="7.2" fill="#ffec50"/><rect x="7.7" y="27.2" width="5.8" height="7.2" fill="#f05a10"/><rect x="12.9" y="27.2" width="5.8" height="7.2" fill="#b00000"/><rect x="18.1" y="27.2" width="5.8" height="7.2" fill="#7a0000"/><rect x="23.3" y="27.2" width="5.8" height="7.2" fill="#f05a10"/><rect x="28.5" y="27.2" width="5.8" height="7.2" fill="#f8b448"/><rect x="33.7" y="27.2" width="11.0" height="7.2" fill="#f05a10"/><rect x="44.1" y="27.2" width="21.4" height="7.2" fill="#ffec50"/><rect x="64.9" y="27.2" width="5.8" height="7.2" fill="#ffff00"/><rect x="70.1" y="27.2" width="5.8" height="7.2" fill="#64e6aa"/><rect x="75.3" y="27.2" width="5.8" height="7.2" fill="#28c8f0"/><rect x="80.5" y="27.2" width="5.8" height="7.2" fill="#b4f0e0"/><rect x="85.7" y="27.2" width="5.8" height="7.2" fill="#ffff00"/><rect x="90.9" y="27.2" width="5.8" height="7.2" fill="#b4f0e0"/><rect x="96.1" y="27.2" width="11.0" height="7.2" fill="#28c8f0"/><rect x="106.5" y="27.2" width="5.8" height="7.2" fill="#1e64f0"/><rect x="111.7" y="27.2" width="21.4" height="7.2" fill="#1040e8"/><rect x="132.5" y="27.2" width="5.8" height="7.2" fill="#1e64f0"/><rect x="2.5" y="33.8" width="5.8" height="7.2" fill="#ffec50"/><rect x="7.7" y="33.8" width="5.8" height="7.2" fill="#f8b448"/><rect x="12.9" y="33.8" width="5.8" height="7.2" fill="#7a0000"/><rect x="18.1" y="33.8" width="5.8" height="7.2" fill="#b00000"/><rect x="23.3" y="33.8" width="5.8" height="7.2" fill="#f8b448"/><rect x="28.5" y="33.8" width="5.8" height="7.2" fill="#f05a10"/><rect x="33.7" y="33.8" width="5.8" height="7.2" fill="#7a0000"/><rect x="38.9" y="33.8" width="5.8" height="7.2" fill="#b00000"/><rect x="44.1" y="33.8" width="11.0" height="7.2" fill="#ffec50"/><rect x="54.5" y="33.8" width="11.0" height="7.2" fill="#ffff00"/><rect x="64.9" y="33.8" width="5.8" height="7.2" fill="#ffec50"/><rect x="70.1" y="33.8" width="5.8" height="7.2" fill="#64e6aa"/><rect x="75.3" y="33.8" width="5.8" height="7.2" fill="#ffec50"/><rect x="80.5" y="33.8" width="5.8" height="7.2" fill="#64e6aa"/><rect x="85.7" y="33.8" width="5.8" height="7.2" fill="#ffff00"/><rect x="90.9" y="33.8" width="5.8" height="7.2" fill="#28c8f0"/><rect x="96.1" y="33.8" width="11.0" height="7.2" fill="#2896f0"/><rect x="106.5" y="33.8" width="5.8" height="7.2" fill="#1e64f0"/><rect x="111.7" y="33.8" width="11.0" height="7.2" fill="#1040e8"/><rect x="122.1" y="33.8" width="5.8" height="7.2" fill="#ffffff"/><rect x="2.5" y="40.4" width="5.8" height="7.2" fill="#64e6aa"/><rect x="7.7" y="40.4" width="5.8" height="7.2" fill="#ffec50"/><rect x="12.9" y="40.4" width="5.8" height="7.2" fill="#f05a10"/><rect x="18.1" y="40.4" width="5.8" height="7.2" fill="#7a0000"/><rect x="23.3" y="40.4" width="11.0" height="7.2" fill="#b00000"/><rect x="33.7" y="40.4" width="5.8" height="7.2" fill="#7a0000"/><rect x="38.9" y="40.4" width="5.8" height="7.2" fill="#f05a10"/><rect x="44.1" y="40.4" width="16.2" height="7.2" fill="#ffec50"/><rect x="59.7" y="40.4" width="5.8" height="7.2" fill="#64e6aa"/><rect x="64.9" y="40.4" width="11.0" height="7.2" fill="#28c8f0"/><rect x="75.3" y="40.4" width="5.8" height="7.2" fill="#64e6aa"/><rect x="80.5" y="40.4" width="5.8" height="7.2" fill="#28c8f0"/><rect x="85.7" y="40.4" width="11.0" height="7.2" fill="#1e64f0"/><rect x="96.1" y="40.4" width="5.8" height="7.2" fill="#1040e8"/><rect x="101.3" y="40.4" width="5.8" height="7.2" fill="#1e64f0"/><rect x="106.5" y="40.4" width="5.8" height="7.2" fill="#1040e8"/><rect x="111.7" y="40.4" width="5.8" height="7.2" fill="#1e64f0"/><rect x="116.9" y="40.4" width="5.8" height="7.2" fill="#1040e8"/><rect x="122.1" y="40.4" width="5.8" height="7.2" fill="#2896f0"/><rect x="7.7" y="47.1" width="5.8" height="7.2" fill="#ffec50"/><rect x="12.9" y="47.1" width="5.8" height="7.2" fill="#f8b448"/><rect x="18.1" y="47.1" width="5.8" height="7.2" fill="#b00000"/><rect x="23.3" y="47.1" width="5.8" height="7.2" fill="#7a0000"/><rect x="28.5" y="47.1" width="5.8" height="7.2" fill="#f05a10"/><rect x="33.7" y="47.1" width="11.0" height="7.2" fill="#ffec50"/><rect x="44.1" y="47.1" width="5.8" height="7.2" fill="#b4f0e0"/><rect x="49.3" y="47.1" width="11.0" height="7.2" fill="#ffec50"/><rect x="59.7" y="47.1" width="5.8" height="7.2" fill="#64e6aa"/><rect x="64.9" y="47.1" width="5.8" height="7.2" fill="#28c8f0"/><rect x="70.1" y="47.1" width="5.8" height="7.2" fill="#2896f0"/><rect x="75.3" y="47.1" width="5.8" height="7.2" fill="#28c8f0"/><rect x="80.5" y="47.1" width="5.8" height="7.2" fill="#2896f0"/><rect x="85.7" y="47.1" width="11.0" height="7.2" fill="#1e64f0"/><rect x="96.1" y="47.1" width="11.0" height="7.2" fill="#2896f0"/><rect x="106.5" y="47.1" width="16.2" height="7.2" fill="#1e64f0"/><rect x="122.1" y="47.1" width="5.8" height="7.2" fill="#2896f0"/><rect x="12.9" y="53.7" width="5.8" height="7.2" fill="#ffec50"/><rect x="18.1" y="53.7" width="5.8" height="7.2" fill="#b00000"/><rect x="23.3" y="53.7" width="5.8" height="7.2" fill="#f05a10"/><rect x="28.5" y="53.7" width="21.4" height="7.2" fill="#ffec50"/><rect x="49.3" y="53.7" width="5.8" height="7.2" fill="#f8b448"/><rect x="54.5" y="53.7" width="11.0" height="7.2" fill="#28c8f0"/><rect x="64.9" y="53.7" width="5.8" height="7.2" fill="#2896f0"/><rect x="70.1" y="53.7" width="5.8" height="7.2" fill="#28c8f0"/><rect x="75.3" y="53.7" width="16.2" height="7.2" fill="#2896f0"/><rect x="90.9" y="53.7" width="5.8" height="7.2" fill="#28c8f0"/><rect x="96.1" y="53.7" width="5.8" height="7.2" fill="#ffec50"/><rect x="101.3" y="53.7" width="5.8" height="7.2" fill="#28c8f0"/><rect x="106.5" y="53.7" width="11.0" height="7.2" fill="#2896f0"/><rect x="23.3" y="60.4" width="11.0" height="7.2" fill="#ffec50"/><rect x="33.7" y="60.4" width="5.8" height="7.2" fill="#ffff00"/><rect x="38.9" y="60.4" width="5.8" height="7.2" fill="#ffec50"/><rect x="44.1" y="60.4" width="11.0" height="7.2" fill="#f05a10"/><rect x="54.5" y="60.4" width="5.8" height="7.2" fill="#b4f0e0"/><rect x="59.7" y="60.4" width="5.8" height="7.2" fill="#28c8f0"/><rect x="64.9" y="60.4" width="5.8" height="7.2" fill="#2896f0"/><rect x="70.1" y="60.4" width="11.0" height="7.2" fill="#28c8f0"/><rect x="80.5" y="60.4" width="16.2" height="7.2" fill="#2896f0"/><rect x="96.1" y="60.4" width="5.8" height="7.2" fill="#28c8f0"/><rect x="101.3" y="60.4" width="5.8" height="7.2" fill="#b4f0e0"/><rect x="106.5" y="60.4" width="5.8" height="7.2" fill="#28c8f0"/><rect x="54.5" y="67.0" width="5.8" height="7.2" fill="#b4f0e0"/><rect x="59.7" y="67.0" width="21.4" height="7.2" fill="#28c8f0"/><rect x="106.5" y="67.0" width="11.0" height="7.2" fill="#28c8f0"/><rect x="64.9" y="73.6" width="5.8" height="7.2" fill="#64e6aa"/><rect x="70.1" y="73.6" width="5.8" height="7.2" fill="#ffec50"/><rect x="106.5" y="73.6" width="5.8" height="7.2" fill="#28c8f0"/><rect x="111.7" y="73.6" width="5.8" height="7.2" fill="#2896f0"/><rect x="70.1" y="80.3" width="5.8" height="7.2" fill="#ffec50"/><rect x="111.7" y="80.3" width="5.8" height="7.2" fill="#1e64f0"/></g></g><use href="#st"/></g><rect x="465.23" y="298.10" width="152.90" height="86.80" fill="none" stroke="#474747" stroke-width="1.1"/><path d="M477.88 384.90v-2M477.88 298.10v2M503.88 384.90v-2M503.88 298.10v2M529.88 384.90v-2M529.88 298.10v2M555.88 384.90v-2M555.88 298.10v2M581.88 384.90v-2M581.88 298.10v2M607.88 384.90v-2M607.88 298.10v2M465.23 381.21h2M618.13 381.21h-2M465.23 364.67h2M618.13 364.67h-2M465.23 348.12h2M618.13 348.12h-2M465.23 331.58h2M618.13 331.58h-2M465.23 315.04h2M618.13 315.04h-2" stroke="#474747" stroke-width="0.9"/><g font-size="12.2" fill="#333"><text x="476.08" y="401.20" text-anchor="middle" textLength="17.5" lengthAdjust="spacingAndGlyphs">-120</text><text x="502.08" y="401.20" text-anchor="middle" textLength="17.5" lengthAdjust="spacingAndGlyphs">-110</text><text x="528.08" y="401.20" text-anchor="middle" textLength="17.5" lengthAdjust="spacingAndGlyphs">-100</text><text x="554.08" y="401.20" text-anchor="middle" textLength="12.9" lengthAdjust="spacingAndGlyphs">-90</text><text x="580.08" y="401.20" text-anchor="middle" textLength="12.9" lengthAdjust="spacingAndGlyphs">-80</text><text x="606.08" y="401.20" text-anchor="middle" textLength="12.9" lengthAdjust="spacingAndGlyphs">-70</text><text x="461.33" y="386.61" text-anchor="end" textLength="10" lengthAdjust="spacingAndGlyphs">25</text><text x="461.33" y="370.07" text-anchor="end" textLength="10" lengthAdjust="spacingAndGlyphs">30</text><text x="461.33" y="353.52" text-anchor="end" textLength="10" lengthAdjust="spacingAndGlyphs">35</text><text x="461.33" y="336.98" text-anchor="end" textLength="10" lengthAdjust="spacingAndGlyphs">40</text><text x="461.33" y="320.44" text-anchor="end" textLength="10" lengthAdjust="spacingAndGlyphs">45</text></g><text transform="translate(542.83 291.90) scale(0.82 1)" font-size="18" text-anchor="middle" fill="#000">(m)</text><g transform="translate(665.27 297.60) scale(1 0.9966)"><g clip-path="url(#us)"><g filter="url(#bl)"><rect x="-2.7" y="-1.1" width="21.4" height="8.9" fill="#64e6aa"/><rect x="18.1" y="-1.1" width="5.8" height="8.9" fill="#ffffff"/><rect x="23.3" y="-1.1" width="11.0" height="8.9" fill="#ffff00"/><rect x="33.7" y="-1.1" width="11.0" height="8.9" fill="#ffec50"/><rect x="44.1" y="-1.1" width="5.8" height="8.9" fill="#fcd470"/><rect x="49.3" y="-1.1" width="5.8" height="8.9" fill="#ffec50"/><rect x="54.5" y="-1.1" width="11.0" height="8.9" fill="#fcd470"/><rect x="64.9" y="-1.1" width="5.8" height="8.9" fill="#f8b448"/><rect x="70.1" y="-1.1" width="5.8" height="8.9" fill="#fcd470"/><rect x="75.3" y="-1.1" width="5.8" height="8.9" fill="#f8b448"/><rect x="80.5" y="-1.1" width="5.8" height="8.9" fill="#fcd470"/><rect x="85.7" y="-1.1" width="5.8" height="8.9" fill="#f8b448"/><rect x="-2.7" y="7.2" width="11.0" height="7.2" fill="#64e6aa"/><rect x="7.7" y="7.2" width="5.8" height="7.2" fill="#b4f0e0"/><rect x="12.9" y="7.2" width="5.8" height="7.2" fill="#ffffff"/><rect x="18.1" y="7.2" width="11.0" height="7.2" fill="#ffff00"/><rect x="28.5" y="7.2" width="11.0" height="7.2" fill="#ffec50"/><rect x="38.9" y="7.2" width="5.8" height="7.2" fill="#fcd470"/><rect x="44.1" y="7.2" width="5.8" height="7.2" fill="#f8b448"/><rect x="49.3" y="7.2" width="5.8" height="7.2" fill="#fcd470"/><rect x="54.5" y="7.2" width="26.6" height="7.2" fill="#f8b448"/><rect x="80.5" y="7.2" width="5.8" height="7.2" fill="#f05a10"/><rect x="85.7" y="7.2" width="5.8" height="7.2" fill="#f8b448"/><rect x="90.9" y="7.2" width="16.2" height="7.2" fill="#f05a10"/><rect x="137.7" y="7.2" width="5.8" height="7.2" fill="#ffec50"/><rect x="142.9" y="7.2" width="11.0" height="7.2" fill="#ffff00"/><rect x="-2.7" y="13.9" width="5.8" height="7.2" fill="#64e6aa"/><rect x="2.5" y="13.9" width="5.8" height="7.2" fill="#b4f0e0"/><rect x="7.7" y="13.9" width="11.0" height="7.2" fill="#ffffff"/><rect x="18.1" y="13.9" width="11.0" height="7.2" fill="#ffff00"/><rect x="28.5" y="13.9" width="5.8" height="7.2" fill="#ffec50"/><rect x="33.7" y="13.9" width="5.8" height="7.2" fill="#f8b448"/><rect x="38.9" y="13.9" width="5.8" height="7.2" fill="#f05a10"/><rect x="44.1" y="13.9" width="5.8" height="7.2" fill="#fcd470"/><rect x="49.3" y="13.9" width="5.8" height="7.2" fill="#f8b448"/><rect x="54.5" y="13.9" width="5.8" height="7.2" fill="#f05a10"/><rect x="59.7" y="13.9" width="11.0" height="7.2" fill="#f8b448"/><rect x="70.1" y="13.9" width="5.8" height="7.2" fill="#f05a10"/><rect x="75.3" y="13.9" width="11.0" height="7.2" fill="#f8b448"/><rect x="85.7" y="13.9" width="16.2" height="7.2" fill="#f05a10"/><rect x="101.3" y="13.9" width="11.0" height="7.2" fill="#f8b448"/><rect x="116.9" y="13.9" width="5.8" height="7.2" fill="#fcd470"/><rect x="122.1" y="13.9" width="5.8" height="7.2" fill="#f8b448"/><rect x="127.3" y="13.9" width="11.0" height="7.2" fill="#fcd470"/><rect x="137.7" y="13.9" width="11.0" height="7.2" fill="#ffec50"/><rect x="148.1" y="13.9" width="5.8" height="7.2" fill="#ffff00"/><rect x="-2.7" y="20.5" width="5.8" height="7.2" fill="#64e6aa"/><rect x="2.5" y="20.5" width="11.0" height="7.2" fill="#b4f0e0"/><rect x="12.9" y="20.5" width="5.8" height="7.2" fill="#ffec50"/><rect x="18.1" y="20.5" width="11.0" height="7.2" fill="#ffff00"/><rect x="28.5" y="20.5" width="5.8" height="7.2" fill="#ffec50"/><rect x="33.7" y="20.5" width="5.8" height="7.2" fill="#f8b448"/><rect x="38.9" y="20.5" width="11.0" height="7.2" fill="#e61400"/><rect x="49.3" y="20.5" width="5.8" height="7.2" fill="#f05a10"/><rect x="54.5" y="20.5" width="11.0" height="7.2" fill="#e61400"/><rect x="64.9" y="20.5" width="5.8" height="7.2" fill="#f05a10"/><rect x="70.1" y="20.5" width="5.8" height="7.2" fill="#f8b448"/><rect x="75.3" y="20.5" width="11.0" height="7.2" fill="#f05a10"/><rect x="85.7" y="20.5" width="5.8" height="7.2" fill="#f8b448"/><rect x="90.9" y="20.5" width="11.0" height="7.2" fill="#e61400"/><rect x="101.3" y="20.5" width="5.8" height="7.2" fill="#f8b448"/><rect x="106.5" y="20.5" width="5.8" height="7.2" fill="#f05a10"/><rect x="111.7" y="20.5" width="5.8" height="7.2" fill="#f8b448"/><rect x="116.9" y="20.5" width="5.8" height="7.2" fill="#fcd470"/><rect x="122.1" y="20.5" width="5.8" height="7.2" fill="#f8b448"/><rect x="127.3" y="20.5" width="11.0" height="7.2" fill="#fcd470"/><rect x="137.7" y="20.5" width="5.8" height="7.2" fill="#ffec50"/><rect x="-2.7" y="27.2" width="5.8" height="7.2" fill="#64e6aa"/><rect x="2.5" y="27.2" width="11.0" height="7.2" fill="#ffec50"/><rect x="12.9" y="27.2" width="5.8" height="7.2" fill="#fcd470"/><rect x="18.1" y="27.2" width="5.8" height="7.2" fill="#f8b448"/><rect x="23.3" y="27.2" width="5.8" height="7.2" fill="#ffec50"/><rect x="28.5" y="27.2" width="5.8" height="7.2" fill="#fcd470"/><rect x="33.7" y="27.2" width="5.8" height="7.2" fill="#f8b448"/><rect x="38.9" y="27.2" width="11.0" height="7.2" fill="#e61400"/><rect x="49.3" y="27.2" width="5.8" height="7.2" fill="#f05a10"/><rect x="54.5" y="27.2" width="5.8" height="7.2" fill="#e61400"/><rect x="59.7" y="27.2" width="5.8" height="7.2" fill="#f05a10"/><rect x="64.9" y="27.2" width="5.8" height="7.2" fill="#e61400"/><rect x="70.1" y="27.2" width="5.8" height="7.2" fill="#f05a10"/><rect x="75.3" y="27.2" width="5.8" height="7.2" fill="#e61400"/><rect x="80.5" y="27.2" width="21.4" height="7.2" fill="#f05a10"/><rect x="101.3" y="27.2" width="5.8" height="7.2" fill="#e61400"/><rect x="106.5" y="27.2" width="5.8" height="7.2" fill="#f05a10"/><rect x="111.7" y="27.2" width="5.8" height="7.2" fill="#f8b448"/><rect x="116.9" y="27.2" width="5.8" height="7.2" fill="#fcd470"/><rect x="122.1" y="27.2" width="5.8" height="7.2" fill="#f8b448"/><rect x="127.3" y="27.2" width="5.8" height="7.2" fill="#fcd470"/><rect x="132.5" y="27.2" width="5.8" height="7.2" fill="#ffec50"/><rect x="2.5" y="33.8" width="11.0" height="7.2" fill="#ffec50"/><rect x="12.9" y="33.8" width="5.8" height="7.2" fill="#fcd470"/><rect x="18.1" y="33.8" width="16.2" height="7.2" fill="#f8b448"/><rect x="33.7" y="33.8" width="5.8" height="7.2" fill="#f05a10"/><rect x="38.9" y="33.8" width="11.0" height="7.2" fill="#e61400"/><rect x="49.3" y="33.8" width="5.8" height="7.2" fill="#f05a10"/><rect x="54.5" y="33.8" width="5.8" height="7.2" fill="#e61400"/><rect x="59.7" y="33.8" width="11.0" height="7.2" fill="#b00000"/><rect x="70.1" y="33.8" width="5.8" height="7.2" fill="#e61400"/><rect x="75.3" y="33.8" width="5.8" height="7.2" fill="#f05a10"/><rect x="80.5" y="33.8" width="5.8" height="7.2" fill="#e61400"/><rect x="85.7" y="33.8" width="21.4" height="7.2" fill="#f8b448"/><rect x="106.5" y="33.8" width="5.8" height="7.2" fill="#fcd470"/><rect x="111.7" y="33.8" width="16.2" height="7.2" fill="#f8b448"/><rect x="2.5" y="40.4" width="11.0" height="7.2" fill="#ffec50"/><rect x="12.9" y="40.4" width="16.2" height="7.2" fill="#f8b448"/><rect x="28.5" y="40.4" width="5.8" height="7.2" fill="#fcd470"/><rect x="33.7" y="40.4" width="5.8" height="7.2" fill="#f8b448"/><rect x="38.9" y="40.4" width="26.6" height="7.2" fill="#f05a10"/><rect x="64.9" y="40.4" width="11.0" height="7.2" fill="#f8b448"/><rect x="75.3" y="40.4" width="5.8" height="7.2" fill="#f05a10"/><rect x="80.5" y="40.4" width="5.8" height="7.2" fill="#f8b448"/><rect x="85.7" y="40.4" width="5.8" height="7.2" fill="#fcd470"/><rect x="90.9" y="40.4" width="5.8" height="7.2" fill="#f8b448"/><rect x="96.1" y="40.4" width="5.8" height="7.2" fill="#fcd470"/><rect x="101.3" y="40.4" width="5.8" height="7.2" fill="#ffec50"/><rect x="106.5" y="40.4" width="5.8" height="7.2" fill="#fcd470"/><rect x="111.7" y="40.4" width="11.0" height="7.2" fill="#ffec50"/><rect x="122.1" y="40.4" width="5.8" height="7.2" fill="#ffff00"/><rect x="7.7" y="47.1" width="5.8" height="7.2" fill="#ffec50"/><rect x="12.9" y="47.1" width="21.4" height="7.2" fill="#f8b448"/><rect x="33.7" y="47.1" width="5.8" height="7.2" fill="#fcd470"/><rect x="38.9" y="47.1" width="42.2" height="7.2" fill="#f8b448"/><rect x="80.5" y="47.1" width="5.8" height="7.2" fill="#fcd470"/><rect x="85.7" y="47.1" width="11.0" height="7.2" fill="#ffff00"/><rect x="96.1" y="47.1" width="5.8" height="7.2" fill="#ffec50"/><rect x="101.3" y="47.1" width="16.2" height="7.2" fill="#ffff00"/><rect x="116.9" y="47.1" width="5.8" height="7.2" fill="#ffec50"/><rect x="122.1" y="47.1" width="5.8" height="7.2" fill="#ffff00"/><rect x="12.9" y="53.7" width="5.8" height="7.2" fill="#fcd470"/><rect x="18.1" y="53.7" width="21.4" height="7.2" fill="#f8b448"/><rect x="38.9" y="53.7" width="5.8" height="7.2" fill="#fcd470"/><rect x="44.1" y="53.7" width="16.2" height="7.2" fill="#f8b448"/><rect x="59.7" y="53.7" width="5.8" height="7.2" fill="#fcd470"/><rect x="64.9" y="53.7" width="21.4" height="7.2" fill="#ffec50"/><rect x="85.7" y="53.7" width="11.0" height="7.2" fill="#ffff00"/><rect x="96.1" y="53.7" width="5.8" height="7.2" fill="#ffec50"/><rect x="101.3" y="53.7" width="5.8" height="7.2" fill="#ffffff"/><rect x="106.5" y="53.7" width="5.8" height="7.2" fill="#ffec50"/><rect x="111.7" y="53.7" width="5.8" height="7.2" fill="#ffff00"/><rect x="23.3" y="60.4" width="5.8" height="7.2" fill="#fcd470"/><rect x="28.5" y="60.4" width="5.8" height="7.2" fill="#f8b448"/><rect x="33.7" y="60.4" width="11.0" height="7.2" fill="#fcd470"/><rect x="44.1" y="60.4" width="11.0" height="7.2" fill="#ffec50"/><rect x="54.5" y="60.4" width="5.8" height="7.2" fill="#fcd470"/><rect x="59.7" y="60.4" width="5.8" height="7.2" fill="#ffec50"/><rect x="64.9" y="60.4" width="5.8" height="7.2" fill="#ffff00"/><rect x="70.1" y="60.4" width="11.0" height="7.2" fill="#ffec50"/><rect x="80.5" y="60.4" width="16.2" height="7.2" fill="#ffff00"/><rect x="96.1" y="60.4" width="5.8" height="7.2" fill="#ffec50"/><rect x="101.3" y="60.4" width="5.8" height="7.2" fill="#ffff00"/><rect x="106.5" y="60.4" width="5.8" height="7.2" fill="#ffec50"/><rect x="54.5" y="67.0" width="5.8" height="7.2" fill="#ffec50"/><rect x="59.7" y="67.0" width="11.0" height="7.2" fill="#ffff00"/><rect x="70.1" y="67.0" width="5.8" height="7.2" fill="#ffec50"/><rect x="75.3" y="67.0" width="5.8" height="7.2" fill="#ffff00"/><rect x="106.5" y="67.0" width="5.8" height="7.2" fill="#ffec50"/><rect x="111.7" y="67.0" width="5.8" height="7.2" fill="#ffff00"/><rect x="64.9" y="73.6" width="11.0" height="7.2" fill="#ffff00"/><rect x="106.5" y="73.6" width="5.8" height="7.2" fill="#ffff00"/><rect x="111.7" y="73.6" width="5.8" height="7.2" fill="#ffec50"/><rect x="70.1" y="80.3" width="5.8" height="7.2" fill="#ffec50"/><rect x="111.7" y="80.3" width="5.8" height="7.2" fill="#ffff00"/></g></g><use href="#st"/></g><rect x="665.77" y="298.10" width="152.90" height="86.80" fill="none" stroke="#474747" stroke-width="1.1"/><path d="M678.42 384.90v-2M678.42 298.10v2M704.42 384.90v-2M704.42 298.10v2M730.42 384.90v-2M730.42 298.10v2M756.42 384.90v-2M756.42 298.10v2M782.42 384.90v-2M782.42 298.10v2M808.42 384.90v-2M808.42 298.10v2M665.77 381.21h2M818.67 381.21h-2M665.77 364.67h2M818.67 364.67h-2M665.77 348.12h2M818.67 348.12h-2M665.77 331.58h2M818.67 331.58h-2M665.77 315.04h2M818.67 315.04h-2" stroke="#474747" stroke-width="0.9"/><g font-size="12.2" fill="#333"><text x="676.62" y="401.20" text-anchor="middle" textLength="17.5" lengthAdjust="spacingAndGlyphs">-120</text><text x="702.62" y="401.20" text-anchor="middle" textLength="17.5" lengthAdjust="spacingAndGlyphs">-110</text><text x="728.62" y="401.20" text-anchor="middle" textLength="17.5" lengthAdjust="spacingAndGlyphs">-100</text><text x="754.62" y="401.20" text-anchor="middle" textLength="12.9" lengthAdjust="spacingAndGlyphs">-90</text><text x="780.62" y="401.20" text-anchor="middle" textLength="12.9" lengthAdjust="spacingAndGlyphs">-80</text><text x="806.62" y="401.20" text-anchor="middle" textLength="12.9" lengthAdjust="spacingAndGlyphs">-70</text><text x="661.87" y="386.61" text-anchor="end" textLength="10" lengthAdjust="spacingAndGlyphs">25</text><text x="661.87" y="370.07" text-anchor="end" textLength="10" lengthAdjust="spacingAndGlyphs">30</text><text x="661.87" y="353.52" text-anchor="end" textLength="10" lengthAdjust="spacingAndGlyphs">35</text><text x="661.87" y="336.98" text-anchor="end" textLength="10" lengthAdjust="spacingAndGlyphs">40</text><text x="661.87" y="320.44" text-anchor="end" textLength="10" lengthAdjust="spacingAndGlyphs">45</text></g><text transform="translate(741.87 291.90) scale(0.82 1)" font-size="18" text-anchor="middle" fill="#000">(n)</text><g transform="translate(865.81 297.60) scale(1 0.9966)"><g clip-path="url(#us)"><g filter="url(#bl)"><rect x="-2.7" y="-1.1" width="5.8" height="8.9" fill="#ffec50"/><rect x="2.5" y="-1.1" width="5.8" height="8.9" fill="#1e64f0"/><rect x="7.7" y="-1.1" width="5.8" height="8.9" fill="#ffec50"/><rect x="12.9" y="-1.1" width="5.8" height="8.9" fill="#f05a10"/><rect x="18.1" y="-1.1" width="5.8" height="8.9" fill="#ffec50"/><rect x="23.3" y="-1.1" width="5.8" height="8.9" fill="#28c8f0"/><rect x="28.5" y="-1.1" width="5.8" height="8.9" fill="#ffec50"/><rect x="33.7" y="-1.1" width="5.8" height="8.9" fill="#28c8f0"/><rect x="38.9" y="-1.1" width="16.2" height="8.9" fill="#ffec50"/><rect x="54.5" y="-1.1" width="11.0" height="8.9" fill="#b00000"/><rect x="64.9" y="-1.1" width="5.8" height="8.9" fill="#f05a10"/><rect x="70.1" y="-1.1" width="5.8" height="8.9" fill="#f8b448"/><rect x="75.3" y="-1.1" width="5.8" height="8.9" fill="#b00000"/><rect x="80.5" y="-1.1" width="5.8" height="8.9" fill="#e61400"/><rect x="85.7" y="-1.1" width="5.8" height="8.9" fill="#f8b448"/><rect x="-2.7" y="7.2" width="5.8" height="7.2" fill="#28c8f0"/><rect x="2.5" y="7.2" width="5.8" height="7.2" fill="#ffec50"/><rect x="7.7" y="7.2" width="5.8" height="7.2" fill="#64e6aa"/><rect x="12.9" y="7.2" width="5.8" height="7.2" fill="#ffec50"/><rect x="18.1" y="7.2" width="5.8" height="7.2" fill="#28c8f0"/><rect x="23.3" y="7.2" width="5.8" height="7.2" fill="#1e64f0"/><rect x="28.5" y="7.2" width="5.8" height="7.2" fill="#2896f0"/><rect x="33.7" y="7.2" width="5.8" height="7.2" fill="#64e6aa"/><rect x="38.9" y="7.2" width="11.0" height="7.2" fill="#ffec50"/><rect x="49.3" y="7.2" width="5.8" height="7.2" fill="#ffff00"/><rect x="54.5" y="7.2" width="5.8" height="7.2" fill="#f8b448"/><rect x="59.7" y="7.2" width="5.8" height="7.2" fill="#f05a10"/><rect x="64.9" y="7.2" width="5.8" height="7.2" fill="#f8b448"/><rect x="70.1" y="7.2" width="5.8" height="7.2" fill="#fcd470"/><rect x="75.3" y="7.2" width="5.8" height="7.2" fill="#f8b448"/><rect x="80.5" y="7.2" width="5.8" height="7.2" fill="#f05a10"/><rect x="85.7" y="7.2" width="5.8" height="7.2" fill="#e61400"/><rect x="90.9" y="7.2" width="16.2" height="7.2" fill="#f8b448"/><rect x="137.7" y="7.2" width="5.8" height="7.2" fill="#f05a10"/><rect x="142.9" y="7.2" width="5.8" height="7.2" fill="#f8b448"/><rect x="148.1" y="7.2" width="5.8" height="7.2" fill="#fcd470"/><rect x="-2.7" y="13.9" width="5.8" height="7.2" fill="#28c8f0"/><rect x="2.5" y="13.9" width="11.0" height="7.2" fill="#1e64f0"/><rect x="12.9" y="13.9" width="5.8" height="7.2" fill="#ffec50"/><rect x="18.1" y="13.9" width="11.0" height="7.2" fill="#1e64f0"/><rect x="28.5" y="13.9" width="5.8" height="7.2" fill="#28c8f0"/><rect x="33.7" y="13.9" width="5.8" height="7.2" fill="#1e64f0"/><rect x="38.9" y="13.9" width="5.8" height="7.2" fill="#2896f0"/><rect x="44.1" y="13.9" width="5.8" height="7.2" fill="#28c8f0"/><rect x="49.3" y="13.9" width="5.8" height="7.2" fill="#b4f0e0"/><rect x="54.5" y="13.9" width="5.8" height="7.2" fill="#ffec50"/><rect x="59.7" y="13.9" width="5.8" height="7.2" fill="#f8b448"/><rect x="64.9" y="13.9" width="5.8" height="7.2" fill="#ffff00"/><rect x="70.1" y="13.9" width="5.8" height="7.2" fill="#ffec50"/><rect x="75.3" y="13.9" width="11.0" height="7.2" fill="#f8b448"/><rect x="85.7" y="13.9" width="16.2" height="7.2" fill="#ffec50"/><rect x="101.3" y="13.9" width="11.0" height="7.2" fill="#f8b448"/><rect x="116.9" y="13.9" width="5.8" height="7.2" fill="#f05a10"/><rect x="122.1" y="13.9" width="11.0" height="7.2" fill="#b00000"/><rect x="132.5" y="13.9" width="5.8" height="7.2" fill="#f05a10"/><rect x="137.7" y="13.9" width="16.2" height="7.2" fill="#f8b448"/><rect x="-2.7" y="20.5" width="5.8" height="7.2" fill="#ffec50"/><rect x="2.5" y="20.5" width="11.0" height="7.2" fill="#0818d0"/><rect x="12.9" y="20.5" width="16.2" height="7.2" fill="#1e64f0"/><rect x="28.5" y="20.5" width="5.8" height="7.2" fill="#f8b448"/><rect x="33.7" y="20.5" width="11.0" height="7.2" fill="#1e64f0"/><rect x="44.1" y="20.5" width="5.8" height="7.2" fill="#2896f0"/><rect x="49.3" y="20.5" width="5.8" height="7.2" fill="#64e6aa"/><rect x="54.5" y="20.5" width="5.8" height="7.2" fill="#ffec50"/><rect x="59.7" y="20.5" width="5.8" height="7.2" fill="#ffff00"/><rect x="64.9" y="20.5" width="11.0" height="7.2" fill="#ffec50"/><rect x="75.3" y="20.5" width="5.8" height="7.2" fill="#fcd470"/><rect x="80.5" y="20.5" width="11.0" height="7.2" fill="#ffec50"/><rect x="90.9" y="20.5" width="11.0" height="7.2" fill="#b4f0e0"/><rect x="101.3" y="20.5" width="5.8" height="7.2" fill="#ffec50"/><rect x="106.5" y="20.5" width="5.8" height="7.2" fill="#f8b448"/><rect x="111.7" y="20.5" width="5.8" height="7.2" fill="#f05a10"/><rect x="116.9" y="20.5" width="5.8" height="7.2" fill="#b00000"/><rect x="122.1" y="20.5" width="5.8" height="7.2" fill="#f05a10"/><rect x="127.3" y="20.5" width="5.8" height="7.2" fill="#b00000"/><rect x="132.5" y="20.5" width="5.8" height="7.2" fill="#f05a10"/><rect x="137.7" y="20.5" width="5.8" height="7.2" fill="#f8b448"/><rect x="-2.7" y="27.2" width="11.0" height="7.2" fill="#ffec50"/><rect x="7.7" y="27.2" width="16.2" height="7.2" fill="#0818d0"/><rect x="23.3" y="27.2" width="5.8" height="7.2" fill="#1e64f0"/><rect x="28.5" y="27.2" width="5.8" height="7.2" fill="#f8b448"/><rect x="33.7" y="27.2" width="5.8" height="7.2" fill="#1e64f0"/><rect x="38.9" y="27.2" width="5.8" height="7.2" fill="#0818d0"/><rect x="44.1" y="27.2" width="5.8" height="7.2" fill="#1e64f0"/><rect x="49.3" y="27.2" width="5.8" height="7.2" fill="#2896f0"/><rect x="54.5" y="27.2" width="5.8" height="7.2" fill="#28c8f0"/><rect x="59.7" y="27.2" width="5.8" height="7.2" fill="#64e6aa"/><rect x="64.9" y="27.2" width="21.4" height="7.2" fill="#ffec50"/><rect x="85.7" y="27.2" width="5.8" height="7.2" fill="#b4f0e0"/><rect x="90.9" y="27.2" width="11.0" height="7.2" fill="#ffec50"/><rect x="101.3" y="27.2" width="11.0" height="7.2" fill="#f8b448"/><rect x="111.7" y="27.2" width="11.0" height="7.2" fill="#f05a10"/><rect x="122.1" y="27.2" width="16.2" height="7.2" fill="#f8b448"/><rect x="2.5" y="33.8" width="5.8" height="7.2" fill="#28c8f0"/><rect x="7.7" y="33.8" width="5.8" height="7.2" fill="#1e64f0"/><rect x="12.9" y="33.8" width="11.0" height="7.2" fill="#0818d0"/><rect x="23.3" y="33.8" width="11.0" height="7.2" fill="#1e64f0"/><rect x="33.7" y="33.8" width="5.8" height="7.2" fill="#0818d0"/><rect x="38.9" y="33.8" width="5.8" height="7.2" fill="#1e64f0"/><rect x="44.1" y="33.8" width="11.0" height="7.2" fill="#2896f0"/><rect x="54.5" y="33.8" width="11.0" height="7.2" fill="#64e6aa"/><rect x="64.9" y="33.8" width="5.8" height="7.2" fill="#b4f0e0"/><rect x="70.1" y="33.8" width="11.0" height="7.2" fill="#ffec50"/><rect x="80.5" y="33.8" width="5.8" height="7.2" fill="#28c8f0"/><rect x="85.7" y="33.8" width="11.0" height="7.2" fill="#ffec50"/><rect x="96.1" y="33.8" width="16.2" height="7.2" fill="#f8b448"/><rect x="111.7" y="33.8" width="5.8" height="7.2" fill="#f05a10"/><rect x="116.9" y="33.8" width="11.0" height="7.2" fill="#f8b448"/><rect x="2.5" y="40.4" width="5.8" height="7.2" fill="#28c8f0"/><rect x="7.7" y="40.4" width="5.8" height="7.2" fill="#2896f0"/><rect x="12.9" y="40.4" width="11.0" height="7.2" fill="#1e64f0"/><rect x="23.3" y="40.4" width="16.2" height="7.2" fill="#0818d0"/><rect x="38.9" y="40.4" width="11.0" height="7.2" fill="#1e64f0"/><rect x="49.3" y="40.4" width="5.8" height="7.2" fill="#28c8f0"/><rect x="54.5" y="40.4" width="5.8" height="7.2" fill="#64e6aa"/><rect x="59.7" y="40.4" width="11.0" height="7.2" fill="#ffec50"/><rect x="70.1" y="40.4" width="5.8" height="7.2" fill="#ffff00"/><rect x="75.3" y="40.4" width="16.2" height="7.2" fill="#ffec50"/><rect x="90.9" y="40.4" width="5.8" height="7.2" fill="#f8b448"/><rect x="96.1" y="40.4" width="5.8" height="7.2" fill="#fcd470"/><rect x="101.3" y="40.4" width="21.4" height="7.2" fill="#f8b448"/><rect x="122.1" y="40.4" width="5.8" height="7.2" fill="#ffec50"/><rect x="7.7" y="47.1" width="5.8" height="7.2" fill="#28c8f0"/><rect x="12.9" y="47.1" width="5.8" height="7.2" fill="#2896f0"/><rect x="18.1" y="47.1" width="5.8" height="7.2" fill="#1e64f0"/><rect x="23.3" y="47.1" width="5.8" height="7.2" fill="#0818d0"/><rect x="28.5" y="47.1" width="5.8" height="7.2" fill="#1e64f0"/><rect x="33.7" y="47.1" width="5.8" height="7.2" fill="#2896f0"/><rect x="38.9" y="47.1" width="5.8" height="7.2" fill="#1e64f0"/><rect x="44.1" y="47.1" width="5.8" height="7.2" fill="#2896f0"/><rect x="49.3" y="47.1" width="5.8" height="7.2" fill="#28c8f0"/><rect x="54.5" y="47.1" width="5.8" height="7.2" fill="#64e6aa"/><rect x="59.7" y="47.1" width="5.8" height="7.2" fill="#ffec50"/><rect x="64.9" y="47.1" width="5.8" height="7.2" fill="#f8b448"/><rect x="70.1" y="47.1" width="21.4" height="7.2" fill="#ffec50"/><rect x="90.9" y="47.1" width="5.8" height="7.2" fill="#f8b448"/><rect x="96.1" y="47.1" width="5.8" height="7.2" fill="#ffec50"/><rect x="101.3" y="47.1" width="5.8" height="7.2" fill="#f8b448"/><rect x="106.5" y="47.1" width="11.0" height="7.2" fill="#fcd470"/><rect x="116.9" y="47.1" width="11.0" height="7.2" fill="#ffec50"/><rect x="12.9" y="53.7" width="5.8" height="7.2" fill="#2896f0"/><rect x="18.1" y="53.7" width="11.0" height="7.2" fill="#1e64f0"/><rect x="28.5" y="53.7" width="5.8" height="7.2" fill="#2896f0"/><rect x="33.7" y="53.7" width="5.8" height="7.2" fill="#b4f0e0"/><rect x="38.9" y="53.7" width="11.0" height="7.2" fill="#2896f0"/><rect x="49.3" y="53.7" width="5.8" height="7.2" fill="#28c8f0"/><rect x="54.5" y="53.7" width="11.0" height="7.2" fill="#ffec50"/><rect x="64.9" y="53.7" width="5.8" height="7.2" fill="#fcd470"/><rect x="70.1" y="53.7" width="16.2" height="7.2" fill="#ffec50"/><rect x="85.7" y="53.7" width="5.8" height="7.2" fill="#ffff00"/><rect x="90.9" y="53.7" width="11.0" height="7.2" fill="#ffec50"/><rect x="101.3" y="53.7" width="5.8" height="7.2" fill="#ffffff"/><rect x="106.5" y="53.7" width="11.0" height="7.2" fill="#ffec50"/><rect x="23.3" y="60.4" width="5.8" height="7.2" fill="#2896f0"/><rect x="28.5" y="60.4" width="5.8" height="7.2" fill="#28c8f0"/><rect x="33.7" y="60.4" width="5.8" height="7.2" fill="#64e6aa"/><rect x="38.9" y="60.4" width="16.2" height="7.2" fill="#28c8f0"/><rect x="54.5" y="60.4" width="5.8" height="7.2" fill="#b4f0e0"/><rect x="59.7" y="60.4" width="5.8" height="7.2" fill="#ffec50"/><rect x="64.9" y="60.4" width="5.8" height="7.2" fill="#fcd470"/><rect x="70.1" y="60.4" width="21.4" height="7.2" fill="#ffec50"/><rect x="90.9" y="60.4" width="5.8" height="7.2" fill="#ffff00"/><rect x="96.1" y="60.4" width="16.2" height="7.2" fill="#ffec50"/><rect x="54.5" y="67.0" width="5.8" height="7.2" fill="#28c8f0"/><rect x="59.7" y="67.0" width="11.0" height="7.2" fill="#ffec50"/><rect x="70.1" y="67.0" width="5.8" height="7.2" fill="#b4f0e0"/><rect x="75.3" y="67.0" width="5.8" height="7.2" fill="#ffec50"/><rect x="106.5" y="67.0" width="5.8" height="7.2" fill="#ffec50"/><rect x="111.7" y="67.0" width="5.8" height="7.2" fill="#ffff00"/><rect x="64.9" y="73.6" width="11.0" height="7.2" fill="#b4f0e0"/><rect x="106.5" y="73.6" width="11.0" height="7.2" fill="#ffec50"/><rect x="70.1" y="80.3" width="5.8" height="7.2" fill="#64e6aa"/><rect x="111.7" y="80.3" width="5.8" height="7.2" fill="#f8b448"/></g></g><use href="#st"/></g><rect x="866.31" y="298.10" width="152.90" height="86.80" fill="none" stroke="#474747" stroke-width="1.1"/><path d="M878.96 384.90v-2M878.96 298.10v2M904.96 384.90v-2M904.96 298.10v2M930.96 384.90v-2M930.96 298.10v2M956.96 384.90v-2M956.96 298.10v2M982.96 384.90v-2M982.96 298.10v2M1008.96 384.90v-2M1008.96 298.10v2M866.31 381.21h2M1019.21 381.21h-2M866.31 364.67h2M1019.21 364.67h-2M866.31 348.12h2M1019.21 348.12h-2M866.31 331.58h2M1019.21 331.58h-2M866.31 315.04h2M1019.21 315.04h-2" stroke="#474747" stroke-width="0.9"/><g font-size="12.2" fill="#333"><text x="877.16" y="401.20" text-anchor="middle" textLength="17.5" lengthAdjust="spacingAndGlyphs">-120</text><text x="903.16" y="401.20" text-anchor="middle" textLength="17.5" lengthAdjust="spacingAndGlyphs">-110</text><text x="929.16" y="401.20" text-anchor="middle" textLength="17.5" lengthAdjust="spacingAndGlyphs">-100</text><text x="955.16" y="401.20" text-anchor="middle" textLength="12.9" lengthAdjust="spacingAndGlyphs">-90</text><text x="981.16" y="401.20" text-anchor="middle" textLength="12.9" lengthAdjust="spacingAndGlyphs">-80</text><text x="1007.16" y="401.20" text-anchor="middle" textLength="12.9" lengthAdjust="spacingAndGlyphs">-70</text><text x="862.41" y="386.61" text-anchor="end" textLength="10" lengthAdjust="spacingAndGlyphs">25</text><text x="862.41" y="370.07" text-anchor="end" textLength="10" lengthAdjust="spacingAndGlyphs">30</text><text x="862.41" y="353.52" text-anchor="end" textLength="10" lengthAdjust="spacingAndGlyphs">35</text><text x="862.41" y="336.98" text-anchor="end" textLength="10" lengthAdjust="spacingAndGlyphs">40</text><text x="862.41" y="320.44" text-anchor="end" textLength="10" lengthAdjust="spacingAndGlyphs">45</text></g><text transform="translate(939.61 291.90) scale(0.82 1)" font-size="18" text-anchor="middle" fill="#000">(o)</text><g transform="translate(63.65 423.90) scale(1 0.9892)"><g clip-path="url(#us)"><g filter="url(#bl)"><rect x="-2.7" y="-1.1" width="5.8" height="8.9" fill="#64e6aa"/><rect x="2.5" y="-1.1" width="5.8" height="8.9" fill="#f8b448"/><rect x="7.7" y="-1.1" width="5.8" height="8.9" fill="#64e6aa"/><rect x="12.9" y="-1.1" width="5.8" height="8.9" fill="#28c8f0"/><rect x="18.1" y="-1.1" width="16.2" height="8.9" fill="#ffec50"/><rect x="33.7" y="-1.1" width="5.8" height="8.9" fill="#f8b448"/><rect x="38.9" y="-1.1" width="5.8" height="8.9" fill="#f05a10"/><rect x="44.1" y="-1.1" width="5.8" height="8.9" fill="#f8b448"/><rect x="49.3" y="-1.1" width="5.8" height="8.9" fill="#ffec50"/><rect x="54.5" y="-1.1" width="5.8" height="8.9" fill="#b4f0e0"/><rect x="59.7" y="-1.1" width="11.0" height="8.9" fill="#64e6aa"/><rect x="70.1" y="-1.1" width="5.8" height="8.9" fill="#ffff00"/><rect x="75.3" y="-1.1" width="5.8" height="8.9" fill="#ffec50"/><rect x="80.5" y="-1.1" width="5.8" height="8.9" fill="#64e6aa"/><rect x="85.7" y="-1.1" width="5.8" height="8.9" fill="#b4f0e0"/><rect x="-2.7" y="7.2" width="5.8" height="7.2" fill="#64e6aa"/><rect x="2.5" y="7.2" width="5.8" height="7.2" fill="#28c8f0"/><rect x="7.7" y="7.2" width="5.8" height="7.2" fill="#b4f0e0"/><rect x="12.9" y="7.2" width="5.8" height="7.2" fill="#28c8f0"/><rect x="18.1" y="7.2" width="5.8" height="7.2" fill="#f8b448"/><rect x="23.3" y="7.2" width="5.8" height="7.2" fill="#f05a10"/><rect x="28.5" y="7.2" width="11.0" height="7.2" fill="#f8b448"/><rect x="38.9" y="7.2" width="5.8" height="7.2" fill="#e61400"/><rect x="44.1" y="7.2" width="5.8" height="7.2" fill="#f05a10"/><rect x="49.3" y="7.2" width="5.8" height="7.2" fill="#f8b448"/><rect x="54.5" y="7.2" width="5.8" height="7.2" fill="#ffec50"/><rect x="59.7" y="7.2" width="5.8" height="7.2" fill="#ffff00"/><rect x="64.9" y="7.2" width="11.0" height="7.2" fill="#ffec50"/><rect x="75.3" y="7.2" width="5.8" height="7.2" fill="#ffff00"/><rect x="80.5" y="7.2" width="16.2" height="7.2" fill="#ffec50"/><rect x="96.1" y="7.2" width="11.0" height="7.2" fill="#b4f0e0"/><rect x="137.7" y="7.2" width="16.2" height="7.2" fill="#b4f0e0"/><rect x="-2.7" y="13.9" width="5.8" height="7.2" fill="#64e6aa"/><rect x="2.5" y="13.9" width="5.8" height="7.2" fill="#ffec50"/><rect x="7.7" y="13.9" width="5.8" height="7.2" fill="#f8b448"/><rect x="12.9" y="13.9" width="5.8" height="7.2" fill="#b00000"/><rect x="18.1" y="13.9" width="5.8" height="7.2" fill="#f05a10"/><rect x="23.3" y="13.9" width="5.8" height="7.2" fill="#f8b448"/><rect x="28.5" y="13.9" width="5.8" height="7.2" fill="#ffec50"/><rect x="33.7" y="13.9" width="5.8" height="7.2" fill="#b00000"/><rect x="38.9" y="13.9" width="11.0" height="7.2" fill="#7a0000"/><rect x="49.3" y="13.9" width="11.0" height="7.2" fill="#b00000"/><rect x="59.7" y="13.9" width="5.8" height="7.2" fill="#f05a10"/><rect x="64.9" y="13.9" width="5.8" height="7.2" fill="#f8b448"/><rect x="70.1" y="13.9" width="11.0" height="7.2" fill="#ffec50"/><rect x="80.5" y="13.9" width="5.8" height="7.2" fill="#ffff00"/><rect x="85.7" y="13.9" width="5.8" height="7.2" fill="#ffec50"/><rect x="90.9" y="13.9" width="11.0" height="7.2" fill="#e61400"/><rect x="101.3" y="13.9" width="11.0" height="7.2" fill="#ffec50"/><rect x="116.9" y="13.9" width="5.8" height="7.2" fill="#ffec50"/><rect x="122.1" y="13.9" width="5.8" height="7.2" fill="#b4f0e0"/><rect x="127.3" y="13.9" width="5.8" height="7.2" fill="#28c8f0"/><rect x="132.5" y="13.9" width="21.4" height="7.2" fill="#b4f0e0"/><rect x="-2.7" y="20.5" width="5.8" height="7.2" fill="#b4f0e0"/><rect x="2.5" y="20.5" width="5.8" height="7.2" fill="#ffec50"/><rect x="7.7" y="20.5" width="5.8" height="7.2" fill="#b00000"/><rect x="12.9" y="20.5" width="5.8" height="7.2" fill="#7a0000"/><rect x="18.1" y="20.5" width="5.8" height="7.2" fill="#f05a10"/><rect x="23.3" y="20.5" width="11.0" height="7.2" fill="#ffec50"/><rect x="33.7" y="20.5" width="5.8" height="7.2" fill="#b00000"/><rect x="38.9" y="20.5" width="11.0" height="7.2" fill="#7a0000"/><rect x="49.3" y="20.5" width="5.8" height="7.2" fill="#b00000"/><rect x="54.5" y="20.5" width="5.8" height="7.2" fill="#7a0000"/><rect x="59.7" y="20.5" width="5.8" height="7.2" fill="#f05a10"/><rect x="64.9" y="20.5" width="21.4" height="7.2" fill="#ffec50"/><rect x="85.7" y="20.5" width="5.8" height="7.2" fill="#f8b448"/><rect x="90.9" y="20.5" width="11.0" height="7.2" fill="#f05a10"/><rect x="101.3" y="20.5" width="5.8" height="7.2" fill="#f8b448"/><rect x="106.5" y="20.5" width="5.8" height="7.2" fill="#f05a10"/><rect x="111.7" y="20.5" width="11.0" height="7.2" fill="#ffec50"/><rect x="122.1" y="20.5" width="5.8" height="7.2" fill="#b4f0e0"/><rect x="127.3" y="20.5" width="5.8" height="7.2" fill="#28c8f0"/><rect x="132.5" y="20.5" width="11.0" height="7.2" fill="#b4f0e0"/><rect x="-2.7" y="27.2" width="5.8" height="7.2" fill="#b4f0e0"/><rect x="2.5" y="27.2" width="5.8" height="7.2" fill="#f8b448"/><rect x="7.7" y="27.2" width="5.8" height="7.2" fill="#f05a10"/><rect x="12.9" y="27.2" width="5.8" height="7.2" fill="#7a0000"/><rect x="18.1" y="27.2" width="5.8" height="7.2" fill="#b00000"/><rect x="23.3" y="27.2" width="5.8" height="7.2" fill="#ffec50"/><rect x="28.5" y="27.2" width="5.8" height="7.2" fill="#f05a10"/><rect x="33.7" y="27.2" width="5.8" height="7.2" fill="#b00000"/><rect x="38.9" y="27.2" width="5.8" height="7.2" fill="#7a0000"/><rect x="44.1" y="27.2" width="5.8" height="7.2" fill="#f05a10"/><rect x="49.3" y="27.2" width="5.8" height="7.2" fill="#7a0000"/><rect x="54.5" y="27.2" width="11.0" height="7.2" fill="#b00000"/><rect x="64.9" y="27.2" width="5.8" height="7.2" fill="#7a0000"/><rect x="70.1" y="27.2" width="5.8" height="7.2" fill="#b00000"/><rect x="75.3" y="27.2" width="5.8" height="7.2" fill="#7a0000"/><rect x="80.5" y="27.2" width="11.0" height="7.2" fill="#f05a10"/><rect x="90.9" y="27.2" width="5.8" height="7.2" fill="#e61400"/><rect x="96.1" y="27.2" width="5.8" height="7.2" fill="#b00000"/><rect x="101.3" y="27.2" width="5.8" height="7.2" fill="#f8b448"/><rect x="106.5" y="27.2" width="21.4" height="7.2" fill="#ffec50"/><rect x="127.3" y="27.2" width="5.8" height="7.2" fill="#b4f0e0"/><rect x="132.5" y="27.2" width="5.8" height="7.2" fill="#ffec50"/><rect x="2.5" y="33.8" width="5.8" height="7.2" fill="#ffec50"/><rect x="7.7" y="33.8" width="5.8" height="7.2" fill="#b00000"/><rect x="12.9" y="33.8" width="5.8" height="7.2" fill="#7a0000"/><rect x="18.1" y="33.8" width="5.8" height="7.2" fill="#b00000"/><rect x="23.3" y="33.8" width="5.8" height="7.2" fill="#ffec50"/><rect x="28.5" y="33.8" width="5.8" height="7.2" fill="#f8b448"/><rect x="33.7" y="33.8" width="5.8" height="7.2" fill="#7a0000"/><rect x="38.9" y="33.8" width="5.8" height="7.2" fill="#f05a10"/><rect x="44.1" y="33.8" width="5.8" height="7.2" fill="#ffec50"/><rect x="49.3" y="33.8" width="37.0" height="7.2" fill="#7a0000"/><rect x="85.7" y="33.8" width="5.8" height="7.2" fill="#b00000"/><rect x="90.9" y="33.8" width="5.8" height="7.2" fill="#f8b448"/><rect x="96.1" y="33.8" width="31.8" height="7.2" fill="#ffec50"/><rect x="2.5" y="40.4" width="5.8" height="7.2" fill="#ffec50"/><rect x="7.7" y="40.4" width="5.8" height="7.2" fill="#f8b448"/><rect x="12.9" y="40.4" width="5.8" height="7.2" fill="#b00000"/><rect x="18.1" y="40.4" width="5.8" height="7.2" fill="#7a0000"/><rect x="23.3" y="40.4" width="5.8" height="7.2" fill="#b00000"/><rect x="28.5" y="40.4" width="37.0" height="7.2" fill="#7a0000"/><rect x="64.9" y="40.4" width="5.8" height="7.2" fill="#b00000"/><rect x="70.1" y="40.4" width="5.8" height="7.2" fill="#f8b448"/><rect x="75.3" y="40.4" width="5.8" height="7.2" fill="#7a0000"/><rect x="80.5" y="40.4" width="5.8" height="7.2" fill="#b00000"/><rect x="85.7" y="40.4" width="11.0" height="7.2" fill="#ffec50"/><rect x="96.1" y="40.4" width="31.8" height="7.2" fill="#b4f0e0"/><rect x="7.7" y="47.1" width="5.8" height="7.2" fill="#f05a10"/><rect x="12.9" y="47.1" width="5.8" height="7.2" fill="#b00000"/><rect x="18.1" y="47.1" width="5.8" height="7.2" fill="#7a0000"/><rect x="23.3" y="47.1" width="5.8" height="7.2" fill="#f05a10"/><rect x="28.5" y="47.1" width="11.0" height="7.2" fill="#ffec50"/><rect x="38.9" y="47.1" width="5.8" height="7.2" fill="#f8b448"/><rect x="44.1" y="47.1" width="5.8" height="7.2" fill="#ffec50"/><rect x="49.3" y="47.1" width="11.0" height="7.2" fill="#7a0000"/><rect x="59.7" y="47.1" width="5.8" height="7.2" fill="#b00000"/><rect x="64.9" y="47.1" width="5.8" height="7.2" fill="#e61400"/><rect x="70.1" y="47.1" width="5.8" height="7.2" fill="#ffec50"/><rect x="75.3" y="47.1" width="5.8" height="7.2" fill="#f8b448"/><rect x="80.5" y="47.1" width="5.8" height="7.2" fill="#ffec50"/><rect x="85.7" y="47.1" width="5.8" height="7.2" fill="#b4f0e0"/><rect x="90.9" y="47.1" width="11.0" height="7.2" fill="#64e6aa"/><rect x="101.3" y="47.1" width="26.6" height="7.2" fill="#b4f0e0"/><rect x="12.9" y="53.7" width="5.8" height="7.2" fill="#f05a10"/><rect x="18.1" y="53.7" width="5.8" height="7.2" fill="#7a0000"/><rect x="23.3" y="53.7" width="5.8" height="7.2" fill="#b00000"/><rect x="28.5" y="53.7" width="11.0" height="7.2" fill="#ffec50"/><rect x="38.9" y="53.7" width="5.8" height="7.2" fill="#f05a10"/><rect x="44.1" y="53.7" width="5.8" height="7.2" fill="#ffec50"/><rect x="49.3" y="53.7" width="11.0" height="7.2" fill="#7a0000"/><rect x="59.7" y="53.7" width="5.8" height="7.2" fill="#b00000"/><rect x="64.9" y="53.7" width="5.8" height="7.2" fill="#f8b448"/><rect x="70.1" y="53.7" width="16.2" height="7.2" fill="#ffec50"/><rect x="85.7" y="53.7" width="5.8" height="7.2" fill="#b4f0e0"/><rect x="90.9" y="53.7" width="5.8" height="7.2" fill="#64e6aa"/><rect x="96.1" y="53.7" width="5.8" height="7.2" fill="#b4f0e0"/><rect x="101.3" y="53.7" width="5.8" height="7.2" fill="#64e6aa"/><rect x="106.5" y="53.7" width="11.0" height="7.2" fill="#b4f0e0"/><rect x="23.3" y="60.4" width="5.8" height="7.2" fill="#b00000"/><rect x="28.5" y="60.4" width="5.8" height="7.2" fill="#f05a10"/><rect x="33.7" y="60.4" width="5.8" height="7.2" fill="#ffec50"/><rect x="38.9" y="60.4" width="5.8" height="7.2" fill="#f8b448"/><rect x="44.1" y="60.4" width="5.8" height="7.2" fill="#b00000"/><rect x="49.3" y="60.4" width="11.0" height="7.2" fill="#7a0000"/><rect x="59.7" y="60.4" width="5.8" height="7.2" fill="#f05a10"/><rect x="64.9" y="60.4" width="16.2" height="7.2" fill="#ffec50"/><rect x="80.5" y="60.4" width="5.8" height="7.2" fill="#b4f0e0"/><rect x="85.7" y="60.4" width="11.0" height="7.2" fill="#64e6aa"/><rect x="96.1" y="60.4" width="5.8" height="7.2" fill="#b4f0e0"/><rect x="101.3" y="60.4" width="5.8" height="7.2" fill="#64e6aa"/><rect x="106.5" y="60.4" width="5.8" height="7.2" fill="#b4f0e0"/><rect x="54.5" y="67.0" width="5.8" height="7.2" fill="#7a0000"/><rect x="59.7" y="67.0" width="5.8" height="7.2" fill="#b00000"/><rect x="64.9" y="67.0" width="5.8" height="7.2" fill="#f8b448"/><rect x="70.1" y="67.0" width="11.0" height="7.2" fill="#ffec50"/><rect x="106.5" y="67.0" width="5.8" height="7.2" fill="#b4f0e0"/><rect x="111.7" y="67.0" width="5.8" height="7.2" fill="#64e6aa"/><rect x="64.9" y="73.6" width="5.8" height="7.2" fill="#b00000"/><rect x="70.1" y="73.6" width="5.8" height="7.2" fill="#f8b448"/><rect x="106.5" y="73.6" width="5.8" height="7.2" fill="#b4f0e0"/><rect x="111.7" y="73.6" width="5.8" height="7.2" fill="#64e6aa"/><rect x="70.1" y="80.3" width="5.8" height="7.2" fill="#e61400"/><rect x="111.7" y="80.3" width="5.8" height="7.2" fill="#64e6aa"/></g></g><use href="#st"/></g><rect x="64.15" y="424.40" width="152.90" height="86.15" fill="none" stroke="#474747" stroke-width="1.1"/><path d="M76.80 510.55v-2M76.80 424.40v2M102.80 510.55v-2M102.80 424.40v2M128.80 510.55v-2M128.80 424.40v2M154.80 510.55v-2M154.80 424.40v2M180.80 510.55v-2M180.80 424.40v2M206.80 510.55v-2M206.80 424.40v2M64.15 506.89h2M217.05 506.89h-2M64.15 490.47h2M217.05 490.47h-2M64.15 474.05h2M217.05 474.05h-2M64.15 457.63h2M217.05 457.63h-2M64.15 441.21h2M217.05 441.21h-2" stroke="#474747" stroke-width="0.9"/><g font-size="12.2" fill="#333"><text x="75.00" y="526.85" text-anchor="middle" textLength="17.5" lengthAdjust="spacingAndGlyphs">-120</text><text x="101.00" y="526.85" text-anchor="middle" textLength="17.5" lengthAdjust="spacingAndGlyphs">-110</text><text x="127.00" y="526.85" text-anchor="middle" textLength="17.5" lengthAdjust="spacingAndGlyphs">-100</text><text x="153.00" y="526.85" text-anchor="middle" textLength="12.9" lengthAdjust="spacingAndGlyphs">-90</text><text x="179.00" y="526.85" text-anchor="middle" textLength="12.9" lengthAdjust="spacingAndGlyphs">-80</text><text x="205.00" y="526.85" text-anchor="middle" textLength="12.9" lengthAdjust="spacingAndGlyphs">-70</text><text x="60.25" y="512.29" text-anchor="end" textLength="10" lengthAdjust="spacingAndGlyphs">25</text><text x="60.25" y="495.87" text-anchor="end" textLength="10" lengthAdjust="spacingAndGlyphs">30</text><text x="60.25" y="479.45" text-anchor="end" textLength="10" lengthAdjust="spacingAndGlyphs">35</text><text x="60.25" y="463.03" text-anchor="end" textLength="10" lengthAdjust="spacingAndGlyphs">40</text><text x="60.25" y="446.61" text-anchor="end" textLength="10" lengthAdjust="spacingAndGlyphs">45</text></g><text transform="translate(143.65 418.20) scale(0.82 1)" font-size="18" text-anchor="middle" fill="#000">(p)</text><g transform="translate(264.19 423.90) scale(1 0.9892)"><g clip-path="url(#us)"><g filter="url(#bl)"><rect x="-2.7" y="-1.1" width="5.8" height="8.9" fill="#64e6aa"/><rect x="2.5" y="-1.1" width="5.8" height="8.9" fill="#b4f0e0"/><rect x="7.7" y="-1.1" width="11.0" height="8.9" fill="#ffec50"/><rect x="18.1" y="-1.1" width="5.8" height="8.9" fill="#ffff00"/><rect x="23.3" y="-1.1" width="5.8" height="8.9" fill="#ffec50"/><rect x="28.5" y="-1.1" width="16.2" height="8.9" fill="#fcd470"/><rect x="44.1" y="-1.1" width="5.8" height="8.9" fill="#f05a10"/><rect x="49.3" y="-1.1" width="11.0" height="8.9" fill="#fcd470"/><rect x="59.7" y="-1.1" width="11.0" height="8.9" fill="#f8b448"/><rect x="70.1" y="-1.1" width="5.8" height="8.9" fill="#fcd470"/><rect x="75.3" y="-1.1" width="5.8" height="8.9" fill="#f8b448"/><rect x="80.5" y="-1.1" width="5.8" height="8.9" fill="#fcd470"/><rect x="85.7" y="-1.1" width="5.8" height="8.9" fill="#f8b448"/><rect x="-2.7" y="7.2" width="5.8" height="7.2" fill="#ffffff"/><rect x="2.5" y="7.2" width="5.8" height="7.2" fill="#ffec50"/><rect x="7.7" y="7.2" width="5.8" height="7.2" fill="#ffff00"/><rect x="12.9" y="7.2" width="5.8" height="7.2" fill="#ffec50"/><rect x="18.1" y="7.2" width="5.8" height="7.2" fill="#ffff00"/><rect x="23.3" y="7.2" width="5.8" height="7.2" fill="#ffec50"/><rect x="28.5" y="7.2" width="11.0" height="7.2" fill="#fcd470"/><rect x="38.9" y="7.2" width="11.0" height="7.2" fill="#f05a10"/><rect x="49.3" y="7.2" width="11.0" height="7.2" fill="#fcd470"/><rect x="59.7" y="7.2" width="11.0" height="7.2" fill="#f8b448"/><rect x="70.1" y="7.2" width="5.8" height="7.2" fill="#fcd470"/><rect x="75.3" y="7.2" width="5.8" height="7.2" fill="#f8b448"/><rect x="80.5" y="7.2" width="11.0" height="7.2" fill="#fcd470"/><rect x="90.9" y="7.2" width="16.2" height="7.2" fill="#f8b448"/><rect x="137.7" y="7.2" width="5.8" height="7.2" fill="#ffec50"/><rect x="142.9" y="7.2" width="5.8" height="7.2" fill="#ffff00"/><rect x="148.1" y="7.2" width="5.8" height="7.2" fill="#ffec50"/><rect x="-2.7" y="13.9" width="5.8" height="7.2" fill="#b4f0e0"/><rect x="2.5" y="13.9" width="11.0" height="7.2" fill="#ffff00"/><rect x="12.9" y="13.9" width="11.0" height="7.2" fill="#ffec50"/><rect x="23.3" y="13.9" width="5.8" height="7.2" fill="#fcd470"/><rect x="28.5" y="13.9" width="5.8" height="7.2" fill="#ffec50"/><rect x="33.7" y="13.9" width="5.8" height="7.2" fill="#fcd470"/><rect x="38.9" y="13.9" width="5.8" height="7.2" fill="#e61400"/><rect x="44.1" y="13.9" width="5.8" height="7.2" fill="#f05a10"/><rect x="49.3" y="13.9" width="5.8" height="7.2" fill="#e61400"/><rect x="54.5" y="13.9" width="5.8" height="7.2" fill="#f05a10"/><rect x="59.7" y="13.9" width="11.0" height="7.2" fill="#f8b448"/><rect x="70.1" y="13.9" width="5.8" height="7.2" fill="#fcd470"/><rect x="75.3" y="13.9" width="37.0" height="7.2" fill="#f8b448"/><rect x="116.9" y="13.9" width="11.0" height="7.2" fill="#ffff00"/><rect x="127.3" y="13.9" width="5.8" height="7.2" fill="#ffec50"/><rect x="132.5" y="13.9" width="5.8" height="7.2" fill="#ffff00"/><rect x="137.7" y="13.9" width="5.8" height="7.2" fill="#ffec50"/><rect x="142.9" y="13.9" width="11.0" height="7.2" fill="#ffff00"/><rect x="-2.7" y="20.5" width="5.8" height="7.2" fill="#b4f0e0"/><rect x="2.5" y="20.5" width="21.4" height="7.2" fill="#ffec50"/><rect x="23.3" y="20.5" width="5.8" height="7.2" fill="#fcd470"/><rect x="28.5" y="20.5" width="5.8" height="7.2" fill="#ffec50"/><rect x="33.7" y="20.5" width="5.8" height="7.2" fill="#fcd470"/><rect x="38.9" y="20.5" width="11.0" height="7.2" fill="#e61400"/><rect x="49.3" y="20.5" width="5.8" height="7.2" fill="#b00000"/><rect x="54.5" y="20.5" width="5.8" height="7.2" fill="#7a0000"/><rect x="59.7" y="20.5" width="5.8" height="7.2" fill="#e61400"/><rect x="64.9" y="20.5" width="5.8" height="7.2" fill="#f8b448"/><rect x="70.1" y="20.5" width="5.8" height="7.2" fill="#fcd470"/><rect x="75.3" y="20.5" width="37.0" height="7.2" fill="#f8b448"/><rect x="111.7" y="20.5" width="5.8" height="7.2" fill="#ffec50"/><rect x="116.9" y="20.5" width="11.0" height="7.2" fill="#ffff00"/><rect x="127.3" y="20.5" width="16.2" height="7.2" fill="#ffec50"/><rect x="-2.7" y="27.2" width="5.8" height="7.2" fill="#b4f0e0"/><rect x="2.5" y="27.2" width="21.4" height="7.2" fill="#fcd470"/><rect x="23.3" y="27.2" width="5.8" height="7.2" fill="#f05a10"/><rect x="28.5" y="27.2" width="11.0" height="7.2" fill="#fcd470"/><rect x="38.9" y="27.2" width="5.8" height="7.2" fill="#f05a10"/><rect x="44.1" y="27.2" width="5.8" height="7.2" fill="#e61400"/><rect x="49.3" y="27.2" width="5.8" height="7.2" fill="#b00000"/><rect x="54.5" y="27.2" width="5.8" height="7.2" fill="#e61400"/><rect x="59.7" y="27.2" width="16.2" height="7.2" fill="#f8b448"/><rect x="75.3" y="27.2" width="5.8" height="7.2" fill="#fcd470"/><rect x="80.5" y="27.2" width="16.2" height="7.2" fill="#f8b448"/><rect x="96.1" y="27.2" width="5.8" height="7.2" fill="#fcd470"/><rect x="101.3" y="27.2" width="11.0" height="7.2" fill="#ffec50"/><rect x="111.7" y="27.2" width="16.2" height="7.2" fill="#ffff00"/><rect x="127.3" y="27.2" width="11.0" height="7.2" fill="#ffec50"/><rect x="2.5" y="33.8" width="16.2" height="7.2" fill="#fcd470"/><rect x="18.1" y="33.8" width="5.8" height="7.2" fill="#f05a10"/><rect x="23.3" y="33.8" width="11.0" height="7.2" fill="#fcd470"/><rect x="33.7" y="33.8" width="16.2" height="7.2" fill="#f05a10"/><rect x="49.3" y="33.8" width="5.8" height="7.2" fill="#e61400"/><rect x="54.5" y="33.8" width="5.8" height="7.2" fill="#f05a10"/><rect x="59.7" y="33.8" width="16.2" height="7.2" fill="#f8b448"/><rect x="75.3" y="33.8" width="5.8" height="7.2" fill="#f05a10"/><rect x="80.5" y="33.8" width="11.0" height="7.2" fill="#f8b448"/><rect x="90.9" y="33.8" width="11.0" height="7.2" fill="#ffec50"/><rect x="101.3" y="33.8" width="11.0" height="7.2" fill="#ffff00"/><rect x="111.7" y="33.8" width="11.0" height="7.2" fill="#ffec50"/><rect x="122.1" y="33.8" width="5.8" height="7.2" fill="#ffff00"/><rect x="2.5" y="40.4" width="5.8" height="7.2" fill="#ffec50"/><rect x="7.7" y="40.4" width="11.0" height="7.2" fill="#fcd470"/><rect x="18.1" y="40.4" width="5.8" height="7.2" fill="#f05a10"/><rect x="23.3" y="40.4" width="21.4" height="7.2" fill="#fcd470"/><rect x="44.1" y="40.4" width="5.8" height="7.2" fill="#f05a10"/><rect x="49.3" y="40.4" width="5.8" height="7.2" fill="#e61400"/><rect x="54.5" y="40.4" width="5.8" height="7.2" fill="#f05a10"/><rect x="59.7" y="40.4" width="11.0" height="7.2" fill="#f8b448"/><rect x="70.1" y="40.4" width="11.0" height="7.2" fill="#f05a10"/><rect x="80.5" y="40.4" width="5.8" height="7.2" fill="#f8b448"/><rect x="85.7" y="40.4" width="11.0" height="7.2" fill="#ffff00"/><rect x="96.1" y="40.4" width="5.8" height="7.2" fill="#b4f0e0"/><rect x="101.3" y="40.4" width="5.8" height="7.2" fill="#ffff00"/><rect x="106.5" y="40.4" width="5.8" height="7.2" fill="#ffec50"/><rect x="111.7" y="40.4" width="16.2" height="7.2" fill="#b4f0e0"/><rect x="7.7" y="47.1" width="5.8" height="7.2" fill="#fcd470"/><rect x="12.9" y="47.1" width="5.8" height="7.2" fill="#f05a10"/><rect x="18.1" y="47.1" width="5.8" height="7.2" fill="#e61400"/><rect x="23.3" y="47.1" width="21.4" height="7.2" fill="#fcd470"/><rect x="44.1" y="47.1" width="5.8" height="7.2" fill="#f05a10"/><rect x="49.3" y="47.1" width="5.8" height="7.2" fill="#e61400"/><rect x="54.5" y="47.1" width="21.4" height="7.2" fill="#f8b448"/><rect x="75.3" y="47.1" width="5.8" height="7.2" fill="#f05a10"/><rect x="80.5" y="47.1" width="5.8" height="7.2" fill="#f8b448"/><rect x="85.7" y="47.1" width="5.8" height="7.2" fill="#64e6aa"/><rect x="90.9" y="47.1" width="37.0" height="7.2" fill="#b4f0e0"/><rect x="12.9" y="53.7" width="5.8" height="7.2" fill="#fcd470"/><rect x="18.1" y="53.7" width="5.8" height="7.2" fill="#f05a10"/><rect x="23.3" y="53.7" width="5.8" height="7.2" fill="#e61400"/><rect x="28.5" y="53.7" width="16.2" height="7.2" fill="#fcd470"/><rect x="44.1" y="53.7" width="5.8" height="7.2" fill="#f05a10"/><rect x="49.3" y="53.7" width="5.8" height="7.2" fill="#fcd470"/><rect x="54.5" y="53.7" width="5.8" height="7.2" fill="#f8b448"/><rect x="59.7" y="53.7" width="11.0" height="7.2" fill="#ffec50"/><rect x="70.1" y="53.7" width="11.0" height="7.2" fill="#ffff00"/><rect x="80.5" y="53.7" width="5.8" height="7.2" fill="#ffec50"/><rect x="85.7" y="53.7" width="21.4" height="7.2" fill="#64e6aa"/><rect x="106.5" y="53.7" width="11.0" height="7.2" fill="#b4f0e0"/><rect x="23.3" y="60.4" width="31.8" height="7.2" fill="#fcd470"/><rect x="54.5" y="60.4" width="11.0" height="7.2" fill="#f8b448"/><rect x="64.9" y="60.4" width="5.8" height="7.2" fill="#ffec50"/><rect x="70.1" y="60.4" width="5.8" height="7.2" fill="#ffff00"/><rect x="75.3" y="60.4" width="5.8" height="7.2" fill="#ffec50"/><rect x="80.5" y="60.4" width="5.8" height="7.2" fill="#b4f0e0"/><rect x="85.7" y="60.4" width="21.4" height="7.2" fill="#64e6aa"/><rect x="106.5" y="60.4" width="5.8" height="7.2" fill="#b4f0e0"/><rect x="54.5" y="67.0" width="16.2" height="7.2" fill="#f8b448"/><rect x="70.1" y="67.0" width="11.0" height="7.2" fill="#ffec50"/><rect x="106.5" y="67.0" width="5.8" height="7.2" fill="#64e6aa"/><rect x="111.7" y="67.0" width="5.8" height="7.2" fill="#b4f0e0"/><rect x="64.9" y="73.6" width="11.0" height="7.2" fill="#f8b448"/><rect x="106.5" y="73.6" width="5.8" height="7.2" fill="#b4f0e0"/><rect x="111.7" y="73.6" width="5.8" height="7.2" fill="#ffec50"/><rect x="70.1" y="80.3" width="5.8" height="7.2" fill="#f8b448"/><rect x="111.7" y="80.3" width="5.8" height="7.2" fill="#ffec50"/></g></g><use href="#st"/></g><rect x="264.69" y="424.40" width="152.90" height="86.15" fill="none" stroke="#474747" stroke-width="1.1"/><path d="M277.34 510.55v-2M277.34 424.40v2M303.34 510.55v-2M303.34 424.40v2M329.34 510.55v-2M329.34 424.40v2M355.34 510.55v-2M355.34 424.40v2M381.34 510.55v-2M381.34 424.40v2M407.34 510.55v-2M407.34 424.40v2M264.69 506.89h2M417.59 506.89h-2M264.69 490.47h2M417.59 490.47h-2M264.69 474.05h2M417.59 474.05h-2M264.69 457.63h2M417.59 457.63h-2M264.69 441.21h2M417.59 441.21h-2" stroke="#474747" stroke-width="0.9"/><g font-size="12.2" fill="#333"><text x="275.54" y="526.85" text-anchor="middle" textLength="17.5" lengthAdjust="spacingAndGlyphs">-120</text><text x="301.54" y="526.85" text-anchor="middle" textLength="17.5" lengthAdjust="spacingAndGlyphs">-110</text><text x="327.54" y="526.85" text-anchor="middle" textLength="17.5" lengthAdjust="spacingAndGlyphs">-100</text><text x="353.54" y="526.85" text-anchor="middle" textLength="12.9" lengthAdjust="spacingAndGlyphs">-90</text><text x="379.54" y="526.85" text-anchor="middle" textLength="12.9" lengthAdjust="spacingAndGlyphs">-80</text><text x="405.54" y="526.85" text-anchor="middle" textLength="12.9" lengthAdjust="spacingAndGlyphs">-70</text><text x="260.79" y="512.29" text-anchor="end" textLength="10" lengthAdjust="spacingAndGlyphs">25</text><text x="260.79" y="495.87" text-anchor="end" textLength="10" lengthAdjust="spacingAndGlyphs">30</text><text x="260.79" y="479.45" text-anchor="end" textLength="10" lengthAdjust="spacingAndGlyphs">35</text><text x="260.79" y="463.03" text-anchor="end" textLength="10" lengthAdjust="spacingAndGlyphs">40</text><text x="260.79" y="446.61" text-anchor="end" textLength="10" lengthAdjust="spacingAndGlyphs">45</text></g><text transform="translate(344.89 418.20) scale(0.82 1)" font-size="18" text-anchor="middle" fill="#000">(q)</text><g transform="translate(464.73 423.90) scale(1 0.9892)"><g clip-path="url(#us)"><g filter="url(#bl)"><rect x="-2.7" y="-1.1" width="5.8" height="8.9" fill="#ffec50"/><rect x="2.5" y="-1.1" width="5.8" height="8.9" fill="#64e6aa"/><rect x="7.7" y="-1.1" width="5.8" height="8.9" fill="#f8b448"/><rect x="12.9" y="-1.1" width="5.8" height="8.9" fill="#2896f0"/><rect x="18.1" y="-1.1" width="5.8" height="8.9" fill="#28c8f0"/><rect x="23.3" y="-1.1" width="5.8" height="8.9" fill="#b4f0e0"/><rect x="28.5" y="-1.1" width="5.8" height="8.9" fill="#ffec50"/><rect x="33.7" y="-1.1" width="5.8" height="8.9" fill="#64e6aa"/><rect x="38.9" y="-1.1" width="5.8" height="8.9" fill="#28c8f0"/><rect x="44.1" y="-1.1" width="5.8" height="8.9" fill="#b4f0e0"/><rect x="49.3" y="-1.1" width="5.8" height="8.9" fill="#28c8f0"/><rect x="54.5" y="-1.1" width="16.2" height="8.9" fill="#1e64f0"/><rect x="70.1" y="-1.1" width="11.0" height="8.9" fill="#2896f0"/><rect x="80.5" y="-1.1" width="5.8" height="8.9" fill="#28c8f0"/><rect x="85.7" y="-1.1" width="5.8" height="8.9" fill="#64e6aa"/><rect x="-2.7" y="7.2" width="11.0" height="7.2" fill="#28c8f0"/><rect x="7.7" y="7.2" width="5.8" height="7.2" fill="#64e6aa"/><rect x="12.9" y="7.2" width="5.8" height="7.2" fill="#28c8f0"/><rect x="18.1" y="7.2" width="11.0" height="7.2" fill="#ffec50"/><rect x="28.5" y="7.2" width="5.8" height="7.2" fill="#f8b448"/><rect x="33.7" y="7.2" width="5.8" height="7.2" fill="#64e6aa"/><rect x="38.9" y="7.2" width="5.8" height="7.2" fill="#ffec50"/><rect x="44.1" y="7.2" width="5.8" height="7.2" fill="#b4f0e0"/><rect x="49.3" y="7.2" width="16.2" height="7.2" fill="#28c8f0"/><rect x="64.9" y="7.2" width="5.8" height="7.2" fill="#2896f0"/><rect x="70.1" y="7.2" width="16.2" height="7.2" fill="#28c8f0"/><rect x="85.7" y="7.2" width="5.8" height="7.2" fill="#2896f0"/><rect x="90.9" y="7.2" width="16.2" height="7.2" fill="#28c8f0"/><rect x="137.7" y="7.2" width="5.8" height="7.2" fill="#2896f0"/><rect x="142.9" y="7.2" width="11.0" height="7.2" fill="#28c8f0"/><rect x="-2.7" y="13.9" width="5.8" height="7.2" fill="#28c8f0"/><rect x="2.5" y="13.9" width="5.8" height="7.2" fill="#ffec50"/><rect x="7.7" y="13.9" width="5.8" height="7.2" fill="#7a0000"/><rect x="12.9" y="13.9" width="5.8" height="7.2" fill="#ffec50"/><rect x="18.1" y="13.9" width="5.8" height="7.2" fill="#f8b448"/><rect x="23.3" y="13.9" width="5.8" height="7.2" fill="#f05a10"/><rect x="28.5" y="13.9" width="5.8" height="7.2" fill="#ffec50"/><rect x="33.7" y="13.9" width="5.8" height="7.2" fill="#28c8f0"/><rect x="38.9" y="13.9" width="5.8" height="7.2" fill="#b00000"/><rect x="44.1" y="13.9" width="11.0" height="7.2" fill="#ffec50"/><rect x="54.5" y="13.9" width="5.8" height="7.2" fill="#ffff00"/><rect x="59.7" y="13.9" width="5.8" height="7.2" fill="#ffec50"/><rect x="64.9" y="13.9" width="11.0" height="7.2" fill="#64e6aa"/><rect x="75.3" y="13.9" width="37.0" height="7.2" fill="#28c8f0"/><rect x="116.9" y="13.9" width="11.0" height="7.2" fill="#2896f0"/><rect x="127.3" y="13.9" width="5.8" height="7.2" fill="#1e64f0"/><rect x="132.5" y="13.9" width="11.0" height="7.2" fill="#2896f0"/><rect x="142.9" y="13.9" width="11.0" height="7.2" fill="#28c8f0"/><rect x="-2.7" y="20.5" width="5.8" height="7.2" fill="#28c8f0"/><rect x="2.5" y="20.5" width="5.8" height="7.2" fill="#ffec50"/><rect x="7.7" y="20.5" width="5.8" height="7.2" fill="#7a0000"/><rect x="12.9" y="20.5" width="5.8" height="7.2" fill="#b00000"/><rect x="18.1" y="20.5" width="11.0" height="7.2" fill="#ffec50"/><rect x="28.5" y="20.5" width="5.8" height="7.2" fill="#28c8f0"/><rect x="33.7" y="20.5" width="5.8" height="7.2" fill="#ffec50"/><rect x="38.9" y="20.5" width="5.8" height="7.2" fill="#b00000"/><rect x="44.1" y="20.5" width="11.0" height="7.2" fill="#ffec50"/><rect x="54.5" y="20.5" width="5.8" height="7.2" fill="#ffff00"/><rect x="59.7" y="20.5" width="5.8" height="7.2" fill="#ffec50"/><rect x="64.9" y="20.5" width="5.8" height="7.2" fill="#64e6aa"/><rect x="70.1" y="20.5" width="5.8" height="7.2" fill="#ffec50"/><rect x="75.3" y="20.5" width="5.8" height="7.2" fill="#64e6aa"/><rect x="80.5" y="20.5" width="5.8" height="7.2" fill="#28c8f0"/><rect x="85.7" y="20.5" width="5.8" height="7.2" fill="#ffec50"/><rect x="90.9" y="20.5" width="11.0" height="7.2" fill="#f8b448"/><rect x="101.3" y="20.5" width="5.8" height="7.2" fill="#64e6aa"/><rect x="106.5" y="20.5" width="11.0" height="7.2" fill="#28c8f0"/><rect x="116.9" y="20.5" width="21.4" height="7.2" fill="#2896f0"/><rect x="137.7" y="20.5" width="5.8" height="7.2" fill="#28c8f0"/><rect x="-2.7" y="27.2" width="11.0" height="7.2" fill="#ffec50"/><rect x="7.7" y="27.2" width="5.8" height="7.2" fill="#7a0000"/><rect x="12.9" y="27.2" width="5.8" height="7.2" fill="#b00000"/><rect x="18.1" y="27.2" width="5.8" height="7.2" fill="#f8b448"/><rect x="23.3" y="27.2" width="5.8" height="7.2" fill="#28c8f0"/><rect x="28.5" y="27.2" width="5.8" height="7.2" fill="#ffec50"/><rect x="33.7" y="27.2" width="5.8" height="7.2" fill="#f05a10"/><rect x="38.9" y="27.2" width="5.8" height="7.2" fill="#b00000"/><rect x="44.1" y="27.2" width="16.2" height="7.2" fill="#ffec50"/><rect x="59.7" y="27.2" width="5.8" height="7.2" fill="#ffff00"/><rect x="64.9" y="27.2" width="11.0" height="7.2" fill="#ffec50"/><rect x="75.3" y="27.2" width="5.8" height="7.2" fill="#f05a10"/><rect x="80.5" y="27.2" width="5.8" height="7.2" fill="#b00000"/><rect x="85.7" y="27.2" width="5.8" height="7.2" fill="#ffec50"/><rect x="90.9" y="27.2" width="5.8" height="7.2" fill="#f05a10"/><rect x="96.1" y="27.2" width="11.0" height="7.2" fill="#ffec50"/><rect x="106.5" y="27.2" width="5.8" height="7.2" fill="#64e6aa"/><rect x="111.7" y="27.2" width="21.4" height="7.2" fill="#28c8f0"/><rect x="132.5" y="27.2" width="5.8" height="7.2" fill="#2896f0"/><rect x="2.5" y="33.8" width="5.8" height="7.2" fill="#ffec50"/><rect x="7.7" y="33.8" width="5.8" height="7.2" fill="#f05a10"/><rect x="12.9" y="33.8" width="5.8" height="7.2" fill="#b00000"/><rect x="18.1" y="33.8" width="5.8" height="7.2" fill="#ffec50"/><rect x="23.3" y="33.8" width="5.8" height="7.2" fill="#b4f0e0"/><rect x="28.5" y="33.8" width="5.8" height="7.2" fill="#ffec50"/><rect x="33.7" y="33.8" width="5.8" height="7.2" fill="#b00000"/><rect x="38.9" y="33.8" width="5.8" height="7.2" fill="#7a0000"/><rect x="44.1" y="33.8" width="11.0" height="7.2" fill="#ffec50"/><rect x="54.5" y="33.8" width="5.8" height="7.2" fill="#f8b448"/><rect x="59.7" y="33.8" width="5.8" height="7.2" fill="#b00000"/><rect x="64.9" y="33.8" width="5.8" height="7.2" fill="#f05a10"/><rect x="70.1" y="33.8" width="5.8" height="7.2" fill="#b00000"/><rect x="75.3" y="33.8" width="5.8" height="7.2" fill="#7a0000"/><rect x="80.5" y="33.8" width="5.8" height="7.2" fill="#b00000"/><rect x="85.7" y="33.8" width="16.2" height="7.2" fill="#ffec50"/><rect x="101.3" y="33.8" width="5.8" height="7.2" fill="#64e6aa"/><rect x="106.5" y="33.8" width="21.4" height="7.2" fill="#28c8f0"/><rect x="2.5" y="40.4" width="11.0" height="7.2" fill="#ffec50"/><rect x="12.9" y="40.4" width="5.8" height="7.2" fill="#b00000"/><rect x="18.1" y="40.4" width="5.8" height="7.2" fill="#f05a10"/><rect x="23.3" y="40.4" width="5.8" height="7.2" fill="#f8b448"/><rect x="28.5" y="40.4" width="5.8" height="7.2" fill="#b00000"/><rect x="33.7" y="40.4" width="5.8" height="7.2" fill="#7a0000"/><rect x="38.9" y="40.4" width="5.8" height="7.2" fill="#b00000"/><rect x="44.1" y="40.4" width="5.8" height="7.2" fill="#ffec50"/><rect x="49.3" y="40.4" width="11.0" height="7.2" fill="#f8b448"/><rect x="59.7" y="40.4" width="5.8" height="7.2" fill="#b00000"/><rect x="64.9" y="40.4" width="5.8" height="7.2" fill="#ffec50"/><rect x="70.1" y="40.4" width="5.8" height="7.2" fill="#f05a10"/><rect x="75.3" y="40.4" width="5.8" height="7.2" fill="#b00000"/><rect x="80.5" y="40.4" width="5.8" height="7.2" fill="#f8b448"/><rect x="85.7" y="40.4" width="5.8" height="7.2" fill="#f05a10"/><rect x="90.9" y="40.4" width="5.8" height="7.2" fill="#ffec50"/><rect x="96.1" y="40.4" width="5.8" height="7.2" fill="#64e6aa"/><rect x="101.3" y="40.4" width="26.6" height="7.2" fill="#28c8f0"/><rect x="7.7" y="47.1" width="11.0" height="7.2" fill="#ffec50"/><rect x="18.1" y="47.1" width="5.8" height="7.2" fill="#f05a10"/><rect x="23.3" y="47.1" width="5.8" height="7.2" fill="#b00000"/><rect x="28.5" y="47.1" width="5.8" height="7.2" fill="#28c8f0"/><rect x="33.7" y="47.1" width="11.0" height="7.2" fill="#ffec50"/><rect x="44.1" y="47.1" width="5.8" height="7.2" fill="#28c8f0"/><rect x="49.3" y="47.1" width="5.8" height="7.2" fill="#ffec50"/><rect x="54.5" y="47.1" width="5.8" height="7.2" fill="#f8b448"/><rect x="59.7" y="47.1" width="21.4" height="7.2" fill="#ffec50"/><rect x="80.5" y="47.1" width="5.8" height="7.2" fill="#64e6aa"/><rect x="85.7" y="47.1" width="42.2" height="7.2" fill="#28c8f0"/><rect x="12.9" y="53.7" width="5.8" height="7.2" fill="#ffec50"/><rect x="18.1" y="53.7" width="5.8" height="7.2" fill="#f05a10"/><rect x="23.3" y="53.7" width="5.8" height="7.2" fill="#b00000"/><rect x="28.5" y="53.7" width="11.0" height="7.2" fill="#28c8f0"/><rect x="38.9" y="53.7" width="5.8" height="7.2" fill="#ffec50"/><rect x="44.1" y="53.7" width="5.8" height="7.2" fill="#f05a10"/><rect x="49.3" y="53.7" width="16.2" height="7.2" fill="#ffec50"/><rect x="64.9" y="53.7" width="5.8" height="7.2" fill="#f8b448"/><rect x="70.1" y="53.7" width="11.0" height="7.2" fill="#64e6aa"/><rect x="80.5" y="53.7" width="16.2" height="7.2" fill="#28c8f0"/><rect x="96.1" y="53.7" width="5.8" height="7.2" fill="#64e6aa"/><rect x="101.3" y="53.7" width="16.2" height="7.2" fill="#28c8f0"/><rect x="23.3" y="60.4" width="5.8" height="7.2" fill="#28c8f0"/><rect x="28.5" y="60.4" width="5.8" height="7.2" fill="#2896f0"/><rect x="33.7" y="60.4" width="11.0" height="7.2" fill="#ffec50"/><rect x="44.1" y="60.4" width="11.0" height="7.2" fill="#f05a10"/><rect x="54.5" y="60.4" width="11.0" height="7.2" fill="#ffec50"/><rect x="64.9" y="60.4" width="5.8" height="7.2" fill="#64e6aa"/><rect x="70.1" y="60.4" width="42.2" height="7.2" fill="#28c8f0"/><rect x="54.5" y="67.0" width="5.8" height="7.2" fill="#ffec50"/><rect x="59.7" y="67.0" width="5.8" height="7.2" fill="#f8b448"/><rect x="64.9" y="67.0" width="5.8" height="7.2" fill="#64e6aa"/><rect x="70.1" y="67.0" width="11.0" height="7.2" fill="#28c8f0"/><rect x="106.5" y="67.0" width="11.0" height="7.2" fill="#28c8f0"/><rect x="64.9" y="73.6" width="5.8" height="7.2" fill="#ffec50"/><rect x="70.1" y="73.6" width="5.8" height="7.2" fill="#64e6aa"/><rect x="106.5" y="73.6" width="5.8" height="7.2" fill="#28c8f0"/><rect x="111.7" y="73.6" width="5.8" height="7.2" fill="#2896f0"/><rect x="70.1" y="80.3" width="5.8" height="7.2" fill="#ffec50"/><rect x="111.7" y="80.3" width="5.8" height="7.2" fill="#1e64f0"/></g></g><use href="#st"/></g><rect x="465.23" y="424.40" width="152.90" height="86.15" fill="none" stroke="#474747" stroke-width="1.1"/><path d="M477.88 510.55v-2M477.88 424.40v2M503.88 510.55v-2M503.88 424.40v2M529.88 510.55v-2M529.88 424.40v2M555.88 510.55v-2M555.88 424.40v2M581.88 510.55v-2M581.88 424.40v2M607.88 510.55v-2M607.88 424.40v2M465.23 506.89h2M618.13 506.89h-2M465.23 490.47h2M618.13 490.47h-2M465.23 474.05h2M618.13 474.05h-2M465.23 457.63h2M618.13 457.63h-2M465.23 441.21h2M618.13 441.21h-2" stroke="#474747" stroke-width="0.9"/><g font-size="12.2" fill="#333"><text x="476.08" y="526.85" text-anchor="middle" textLength="17.5" lengthAdjust="spacingAndGlyphs">-120</text><text x="502.08" y="526.85" text-anchor="middle" textLength="17.5" lengthAdjust="spacingAndGlyphs">-110</text><text x="528.08" y="526.85" text-anchor="middle" textLength="17.5" lengthAdjust="spacingAndGlyphs">-100</text><text x="554.08" y="526.85" text-anchor="middle" textLength="12.9" lengthAdjust="spacingAndGlyphs">-90</text><text x="580.08" y="526.85" text-anchor="middle" textLength="12.9" lengthAdjust="spacingAndGlyphs">-80</text><text x="606.08" y="526.85" text-anchor="middle" textLength="12.9" lengthAdjust="spacingAndGlyphs">-70</text><text x="461.33" y="512.29" text-anchor="end" textLength="10" lengthAdjust="spacingAndGlyphs">25</text><text x="461.33" y="495.87" text-anchor="end" textLength="10" lengthAdjust="spacingAndGlyphs">30</text><text x="461.33" y="479.45" text-anchor="end" textLength="10" lengthAdjust="spacingAndGlyphs">35</text><text x="461.33" y="463.03" text-anchor="end" textLength="10" lengthAdjust="spacingAndGlyphs">40</text><text x="461.33" y="446.61" text-anchor="end" textLength="10" lengthAdjust="spacingAndGlyphs">45</text></g><text transform="translate(542.83 418.20) scale(0.82 1)" font-size="18" text-anchor="middle" fill="#000">(r)</text><g transform="translate(665.27 423.90) scale(1 0.9892)"><g clip-path="url(#us)"><g filter="url(#bl)"><rect x="-2.7" y="-1.1" width="5.8" height="8.9" fill="#64e6aa"/><rect x="2.5" y="-1.1" width="5.8" height="8.9" fill="#ffffff"/><rect x="7.7" y="-1.1" width="11.0" height="8.9" fill="#ffec50"/><rect x="18.1" y="-1.1" width="5.8" height="8.9" fill="#ffff00"/><rect x="23.3" y="-1.1" width="5.8" height="8.9" fill="#ffec50"/><rect x="28.5" y="-1.1" width="21.4" height="8.9" fill="#f8b448"/><rect x="49.3" y="-1.1" width="11.0" height="8.9" fill="#fcd470"/><rect x="59.7" y="-1.1" width="5.8" height="8.9" fill="#f8b448"/><rect x="64.9" y="-1.1" width="26.6" height="8.9" fill="#fcd470"/><rect x="-2.7" y="7.2" width="5.8" height="7.2" fill="#b4f0e0"/><rect x="2.5" y="7.2" width="16.2" height="7.2" fill="#ffec50"/><rect x="18.1" y="7.2" width="5.8" height="7.2" fill="#ffff00"/><rect x="23.3" y="7.2" width="5.8" height="7.2" fill="#ffec50"/><rect x="28.5" y="7.2" width="5.8" height="7.2" fill="#fcd470"/><rect x="33.7" y="7.2" width="5.8" height="7.2" fill="#f8b448"/><rect x="38.9" y="7.2" width="5.8" height="7.2" fill="#f05a10"/><rect x="44.1" y="7.2" width="11.0" height="7.2" fill="#f8b448"/><rect x="54.5" y="7.2" width="5.8" height="7.2" fill="#fcd470"/><rect x="59.7" y="7.2" width="11.0" height="7.2" fill="#f8b448"/><rect x="70.1" y="7.2" width="21.4" height="7.2" fill="#fcd470"/><rect x="90.9" y="7.2" width="16.2" height="7.2" fill="#f8b448"/><rect x="137.7" y="7.2" width="5.8" height="7.2" fill="#fcd470"/><rect x="142.9" y="7.2" width="11.0" height="7.2" fill="#ffec50"/><rect x="-2.7" y="13.9" width="5.8" height="7.2" fill="#b4f0e0"/><rect x="2.5" y="13.9" width="5.8" height="7.2" fill="#ffff00"/><rect x="7.7" y="13.9" width="11.0" height="7.2" fill="#ffec50"/><rect x="18.1" y="13.9" width="5.8" height="7.2" fill="#ffff00"/><rect x="23.3" y="13.9" width="11.0" height="7.2" fill="#fcd470"/><rect x="33.7" y="13.9" width="5.8" height="7.2" fill="#f05a10"/><rect x="38.9" y="13.9" width="5.8" height="7.2" fill="#e61400"/><rect x="44.1" y="13.9" width="11.0" height="7.2" fill="#f05a10"/><rect x="54.5" y="13.9" width="11.0" height="7.2" fill="#f8b448"/><rect x="64.9" y="13.9" width="16.2" height="7.2" fill="#fcd470"/><rect x="80.5" y="13.9" width="11.0" height="7.2" fill="#f8b448"/><rect x="90.9" y="13.9" width="21.4" height="7.2" fill="#fcd470"/><rect x="116.9" y="13.9" width="5.8" height="7.2" fill="#ffec50"/><rect x="122.1" y="13.9" width="5.8" height="7.2" fill="#ffff00"/><rect x="127.3" y="13.9" width="26.6" height="7.2" fill="#ffec50"/><rect x="-2.7" y="20.5" width="5.8" height="7.2" fill="#b4f0e0"/><rect x="2.5" y="20.5" width="11.0" height="7.2" fill="#ffec50"/><rect x="12.9" y="20.5" width="5.8" height="7.2" fill="#fcd470"/><rect x="18.1" y="20.5" width="5.8" height="7.2" fill="#ffec50"/><rect x="23.3" y="20.5" width="11.0" height="7.2" fill="#fcd470"/><rect x="33.7" y="20.5" width="16.2" height="7.2" fill="#e61400"/><rect x="49.3" y="20.5" width="11.0" height="7.2" fill="#f05a10"/><rect x="59.7" y="20.5" width="11.0" height="7.2" fill="#f8b448"/><rect x="70.1" y="20.5" width="16.2" height="7.2" fill="#fcd470"/><rect x="85.7" y="20.5" width="5.8" height="7.2" fill="#ffec50"/><rect x="90.9" y="20.5" width="21.4" height="7.2" fill="#fcd470"/><rect x="111.7" y="20.5" width="11.0" height="7.2" fill="#ffec50"/><rect x="122.1" y="20.5" width="5.8" height="7.2" fill="#ffff00"/><rect x="127.3" y="20.5" width="16.2" height="7.2" fill="#ffec50"/><rect x="-2.7" y="27.2" width="5.8" height="7.2" fill="#64e6aa"/><rect x="2.5" y="27.2" width="5.8" height="7.2" fill="#ffec50"/><rect x="7.7" y="27.2" width="31.8" height="7.2" fill="#fcd470"/><rect x="38.9" y="27.2" width="16.2" height="7.2" fill="#e61400"/><rect x="54.5" y="27.2" width="11.0" height="7.2" fill="#f8b448"/><rect x="64.9" y="27.2" width="21.4" height="7.2" fill="#fcd470"/><rect x="85.7" y="27.2" width="5.8" height="7.2" fill="#ffec50"/><rect x="90.9" y="27.2" width="5.8" height="7.2" fill="#ffff00"/><rect x="96.1" y="27.2" width="16.2" height="7.2" fill="#ffec50"/><rect x="111.7" y="27.2" width="11.0" height="7.2" fill="#ffff00"/><rect x="122.1" y="27.2" width="16.2" height="7.2" fill="#ffec50"/><rect x="2.5" y="33.8" width="5.8" height="7.2" fill="#ffec50"/><rect x="7.7" y="33.8" width="5.8" height="7.2" fill="#f05a10"/><rect x="12.9" y="33.8" width="26.6" height="7.2" fill="#fcd470"/><rect x="38.9" y="33.8" width="5.8" height="7.2" fill="#e61400"/><rect x="44.1" y="33.8" width="5.8" height="7.2" fill="#f05a10"/><rect x="49.3" y="33.8" width="5.8" height="7.2" fill="#f8b448"/><rect x="54.5" y="33.8" width="5.8" height="7.2" fill="#fcd470"/><rect x="59.7" y="33.8" width="11.0" height="7.2" fill="#f8b448"/><rect x="70.1" y="33.8" width="11.0" height="7.2" fill="#fcd470"/><rect x="80.5" y="33.8" width="5.8" height="7.2" fill="#f8b448"/><rect x="85.7" y="33.8" width="11.0" height="7.2" fill="#ffec50"/><rect x="96.1" y="33.8" width="5.8" height="7.2" fill="#ffff00"/><rect x="101.3" y="33.8" width="5.8" height="7.2" fill="#ffec50"/><rect x="106.5" y="33.8" width="5.8" height="7.2" fill="#ffff00"/><rect x="111.7" y="33.8" width="5.8" height="7.2" fill="#ffec50"/><rect x="116.9" y="33.8" width="5.8" height="7.2" fill="#ffff00"/><rect x="122.1" y="33.8" width="5.8" height="7.2" fill="#ffec50"/><rect x="2.5" y="40.4" width="5.8" height="7.2" fill="#ffff00"/><rect x="7.7" y="40.4" width="5.8" height="7.2" fill="#ffec50"/><rect x="12.9" y="40.4" width="5.8" height="7.2" fill="#f05a10"/><rect x="18.1" y="40.4" width="21.4" height="7.2" fill="#fcd470"/><rect x="38.9" y="40.4" width="21.4" height="7.2" fill="#f8b448"/><rect x="59.7" y="40.4" width="16.2" height="7.2" fill="#fcd470"/><rect x="75.3" y="40.4" width="5.8" height="7.2" fill="#f8b448"/><rect x="80.5" y="40.4" width="5.8" height="7.2" fill="#fcd470"/><rect x="85.7" y="40.4" width="5.8" height="7.2" fill="#ffec50"/><rect x="90.9" y="40.4" width="5.8" height="7.2" fill="#ffff00"/><rect x="96.1" y="40.4" width="5.8" height="7.2" fill="#e2f6b8"/><rect x="101.3" y="40.4" width="11.0" height="7.2" fill="#ffec50"/><rect x="111.7" y="40.4" width="16.2" height="7.2" fill="#e2f6b8"/><rect x="7.7" y="47.1" width="5.8" height="7.2" fill="#ffec50"/><rect x="12.9" y="47.1" width="5.8" height="7.2" fill="#fcd470"/><rect x="18.1" y="47.1" width="5.8" height="7.2" fill="#f05a10"/><rect x="23.3" y="47.1" width="16.2" height="7.2" fill="#fcd470"/><rect x="38.9" y="47.1" width="11.0" height="7.2" fill="#f8b448"/><rect x="49.3" y="47.1" width="21.4" height="7.2" fill="#fcd470"/><rect x="70.1" y="47.1" width="5.8" height="7.2" fill="#ffec50"/><rect x="75.3" y="47.1" width="5.8" height="7.2" fill="#f8b448"/><rect x="80.5" y="47.1" width="5.8" height="7.2" fill="#ffec50"/><rect x="85.7" y="47.1" width="11.0" height="7.2" fill="#e2f6b8"/><rect x="96.1" y="47.1" width="5.8" height="7.2" fill="#ffffff"/><rect x="101.3" y="47.1" width="16.2" height="7.2" fill="#e2f6b8"/><rect x="116.9" y="47.1" width="5.8" height="7.2" fill="#ffffff"/><rect x="122.1" y="47.1" width="5.8" height="7.2" fill="#e2f6b8"/><rect x="12.9" y="53.7" width="5.8" height="7.2" fill="#ffec50"/><rect x="18.1" y="53.7" width="21.4" height="7.2" fill="#fcd470"/><rect x="38.9" y="53.7" width="5.8" height="7.2" fill="#f8b448"/><rect x="44.1" y="53.7" width="16.2" height="7.2" fill="#fcd470"/><rect x="59.7" y="53.7" width="5.8" height="7.2" fill="#ffec50"/><rect x="64.9" y="53.7" width="5.8" height="7.2" fill="#ffff00"/><rect x="70.1" y="53.7" width="11.0" height="7.2" fill="#ffec50"/><rect x="80.5" y="53.7" width="5.8" height="7.2" fill="#ffff00"/><rect x="85.7" y="53.7" width="5.8" height="7.2" fill="#e2f6b8"/><rect x="90.9" y="53.7" width="5.8" height="7.2" fill="#b4f0e0"/><rect x="96.1" y="53.7" width="5.8" height="7.2" fill="#e2f6b8"/><rect x="101.3" y="53.7" width="5.8" height="7.2" fill="#b4f0e0"/><rect x="106.5" y="53.7" width="11.0" height="7.2" fill="#e2f6b8"/><rect x="23.3" y="60.4" width="37.0" height="7.2" fill="#fcd470"/><rect x="59.7" y="60.4" width="5.8" height="7.2" fill="#ffec50"/><rect x="64.9" y="60.4" width="11.0" height="7.2" fill="#ffff00"/><rect x="75.3" y="60.4" width="5.8" height="7.2" fill="#ffec50"/><rect x="80.5" y="60.4" width="11.0" height="7.2" fill="#e2f6b8"/><rect x="90.9" y="60.4" width="5.8" height="7.2" fill="#b4f0e0"/><rect x="96.1" y="60.4" width="5.8" height="7.2" fill="#e2f6b8"/><rect x="101.3" y="60.4" width="5.8" height="7.2" fill="#b4f0e0"/><rect x="106.5" y="60.4" width="5.8" height="7.2" fill="#e2f6b8"/><rect x="54.5" y="67.0" width="11.0" height="7.2" fill="#fcd470"/><rect x="64.9" y="67.0" width="5.8" height="7.2" fill="#ffff00"/><rect x="70.1" y="67.0" width="5.8" height="7.2" fill="#ffffff"/><rect x="75.3" y="67.0" width="5.8" height="7.2" fill="#ffec50"/><rect x="106.5" y="67.0" width="5.8" height="7.2" fill="#b4f0e0"/><rect x="111.7" y="67.0" width="5.8" height="7.2" fill="#e2f6b8"/><rect x="64.9" y="73.6" width="11.0" height="7.2" fill="#ffec50"/><rect x="106.5" y="73.6" width="5.8" height="7.2" fill="#e2f6b8"/><rect x="111.7" y="73.6" width="5.8" height="7.2" fill="#ffec50"/><rect x="70.1" y="80.3" width="5.8" height="7.2" fill="#ffec50"/><rect x="111.7" y="80.3" width="5.8" height="7.2" fill="#ffff00"/></g></g><use href="#st"/></g><rect x="665.77" y="424.40" width="152.90" height="86.15" fill="none" stroke="#474747" stroke-width="1.1"/><path d="M678.42 510.55v-2M678.42 424.40v2M704.42 510.55v-2M704.42 424.40v2M730.42 510.55v-2M730.42 424.40v2M756.42 510.55v-2M756.42 424.40v2M782.42 510.55v-2M782.42 424.40v2M808.42 510.55v-2M808.42 424.40v2M665.77 506.89h2M818.67 506.89h-2M665.77 490.47h2M818.67 490.47h-2M665.77 474.05h2M818.67 474.05h-2M665.77 457.63h2M818.67 457.63h-2M665.77 441.21h2M818.67 441.21h-2" stroke="#474747" stroke-width="0.9"/><g font-size="12.2" fill="#333"><text x="676.62" y="526.85" text-anchor="middle" textLength="17.5" lengthAdjust="spacingAndGlyphs">-120</text><text x="702.62" y="526.85" text-anchor="middle" textLength="17.5" lengthAdjust="spacingAndGlyphs">-110</text><text x="728.62" y="526.85" text-anchor="middle" textLength="17.5" lengthAdjust="spacingAndGlyphs">-100</text><text x="754.62" y="526.85" text-anchor="middle" textLength="12.9" lengthAdjust="spacingAndGlyphs">-90</text><text x="780.62" y="526.85" text-anchor="middle" textLength="12.9" lengthAdjust="spacingAndGlyphs">-80</text><text x="806.62" y="526.85" text-anchor="middle" textLength="12.9" lengthAdjust="spacingAndGlyphs">-70</text><text x="661.87" y="512.29" text-anchor="end" textLength="10" lengthAdjust="spacingAndGlyphs">25</text><text x="661.87" y="495.87" text-anchor="end" textLength="10" lengthAdjust="spacingAndGlyphs">30</text><text x="661.87" y="479.45" text-anchor="end" textLength="10" lengthAdjust="spacingAndGlyphs">35</text><text x="661.87" y="463.03" text-anchor="end" textLength="10" lengthAdjust="spacingAndGlyphs">40</text><text x="661.87" y="446.61" text-anchor="end" textLength="10" lengthAdjust="spacingAndGlyphs">45</text></g><text transform="translate(741.87 418.20) scale(0.82 1)" font-size="18" text-anchor="middle" fill="#000">(s)</text><g transform="translate(865.81 423.90) scale(1 0.9892)"><g clip-path="url(#us)"><g filter="url(#bl)"><rect x="-2.7" y="-1.1" width="5.8" height="8.9" fill="#f8b448"/><rect x="2.5" y="-1.1" width="5.8" height="8.9" fill="#1e64f0"/><rect x="7.7" y="-1.1" width="5.8" height="8.9" fill="#ffec50"/><rect x="12.9" y="-1.1" width="5.8" height="8.9" fill="#f05a10"/><rect x="18.1" y="-1.1" width="5.8" height="8.9" fill="#2896f0"/><rect x="23.3" y="-1.1" width="5.8" height="8.9" fill="#ffec50"/><rect x="28.5" y="-1.1" width="5.8" height="8.9" fill="#28c8f0"/><rect x="33.7" y="-1.1" width="5.8" height="8.9" fill="#ffec50"/><rect x="38.9" y="-1.1" width="11.0" height="8.9" fill="#f8b448"/><rect x="49.3" y="-1.1" width="5.8" height="8.9" fill="#ffec50"/><rect x="54.5" y="-1.1" width="5.8" height="8.9" fill="#f05a10"/><rect x="59.7" y="-1.1" width="11.0" height="8.9" fill="#b00000"/><rect x="70.1" y="-1.1" width="11.0" height="8.9" fill="#f8b448"/><rect x="80.5" y="-1.1" width="5.8" height="8.9" fill="#f05a10"/><rect x="85.7" y="-1.1" width="5.8" height="8.9" fill="#ffec50"/><rect x="-2.7" y="7.2" width="11.0" height="7.2" fill="#ffec50"/><rect x="7.7" y="7.2" width="5.8" height="7.2" fill="#28c8f0"/><rect x="12.9" y="7.2" width="5.8" height="7.2" fill="#b00000"/><rect x="18.1" y="7.2" width="5.8" height="7.2" fill="#28c8f0"/><rect x="23.3" y="7.2" width="5.8" height="7.2" fill="#2896f0"/><rect x="28.5" y="7.2" width="5.8" height="7.2" fill="#1e64f0"/><rect x="33.7" y="7.2" width="5.8" height="7.2" fill="#2896f0"/><rect x="38.9" y="7.2" width="11.0" height="7.2" fill="#ffec50"/><rect x="49.3" y="7.2" width="5.8" height="7.2" fill="#f8b448"/><rect x="54.5" y="7.2" width="5.8" height="7.2" fill="#ffec50"/><rect x="59.7" y="7.2" width="5.8" height="7.2" fill="#f8b448"/><rect x="64.9" y="7.2" width="11.0" height="7.2" fill="#ffec50"/><rect x="75.3" y="7.2" width="5.8" height="7.2" fill="#f8b448"/><rect x="80.5" y="7.2" width="5.8" height="7.2" fill="#ffec50"/><rect x="85.7" y="7.2" width="5.8" height="7.2" fill="#f8b448"/><rect x="90.9" y="7.2" width="5.8" height="7.2" fill="#ffec50"/><rect x="96.1" y="7.2" width="11.0" height="7.2" fill="#b4f0e0"/><rect x="137.7" y="7.2" width="5.8" height="7.2" fill="#f05a10"/><rect x="142.9" y="7.2" width="5.8" height="7.2" fill="#f8b448"/><rect x="148.1" y="7.2" width="5.8" height="7.2" fill="#fcd470"/><rect x="-2.7" y="13.9" width="5.8" height="7.2" fill="#ffec50"/><rect x="2.5" y="13.9" width="5.8" height="7.2" fill="#f8b448"/><rect x="7.7" y="13.9" width="5.8" height="7.2" fill="#2896f0"/><rect x="12.9" y="13.9" width="5.8" height="7.2" fill="#28c8f0"/><rect x="18.1" y="13.9" width="5.8" height="7.2" fill="#1e64f0"/><rect x="23.3" y="13.9" width="5.8" height="7.2" fill="#2896f0"/><rect x="28.5" y="13.9" width="5.8" height="7.2" fill="#ffec50"/><rect x="33.7" y="13.9" width="11.0" height="7.2" fill="#1e64f0"/><rect x="44.1" y="13.9" width="5.8" height="7.2" fill="#2896f0"/><rect x="49.3" y="13.9" width="5.8" height="7.2" fill="#28c8f0"/><rect x="54.5" y="13.9" width="16.2" height="7.2" fill="#ffec50"/><rect x="70.1" y="13.9" width="5.8" height="7.2" fill="#ffff00"/><rect x="75.3" y="13.9" width="5.8" height="7.2" fill="#ffec50"/><rect x="80.5" y="13.9" width="5.8" height="7.2" fill="#28c8f0"/><rect x="85.7" y="13.9" width="16.2" height="7.2" fill="#b4f0e0"/><rect x="101.3" y="13.9" width="11.0" height="7.2" fill="#ffec50"/><rect x="116.9" y="13.9" width="5.8" height="7.2" fill="#f8b448"/><rect x="122.1" y="13.9" width="5.8" height="7.2" fill="#b00000"/><rect x="127.3" y="13.9" width="11.0" height="7.2" fill="#f05a10"/><rect x="137.7" y="13.9" width="11.0" height="7.2" fill="#f8b448"/><rect x="148.1" y="13.9" width="5.8" height="7.2" fill="#fcd470"/><rect x="-2.7" y="20.5" width="5.8" height="7.2" fill="#ffec50"/><rect x="2.5" y="20.5" width="5.8" height="7.2" fill="#1e64f0"/><rect x="7.7" y="20.5" width="5.8" height="7.2" fill="#0818d0"/><rect x="12.9" y="20.5" width="5.8" height="7.2" fill="#1e64f0"/><rect x="18.1" y="20.5" width="5.8" height="7.2" fill="#2896f0"/><rect x="23.3" y="20.5" width="5.8" height="7.2" fill="#ffec50"/><rect x="28.5" y="20.5" width="5.8" height="7.2" fill="#f05a10"/><rect x="33.7" y="20.5" width="11.0" height="7.2" fill="#1e64f0"/><rect x="44.1" y="20.5" width="5.8" height="7.2" fill="#2896f0"/><rect x="49.3" y="20.5" width="11.0" height="7.2" fill="#28c8f0"/><rect x="59.7" y="20.5" width="5.8" height="7.2" fill="#b4f0e0"/><rect x="64.9" y="20.5" width="21.4" height="7.2" fill="#ffec50"/><rect x="85.7" y="20.5" width="16.2" height="7.2" fill="#28c8f0"/><rect x="101.3" y="20.5" width="5.8" height="7.2" fill="#b4f0e0"/><rect x="106.5" y="20.5" width="11.0" height="7.2" fill="#ffec50"/><rect x="116.9" y="20.5" width="11.0" height="7.2" fill="#f8b448"/><rect x="127.3" y="20.5" width="5.8" height="7.2" fill="#f05a10"/><rect x="132.5" y="20.5" width="5.8" height="7.2" fill="#f8b448"/><rect x="137.7" y="20.5" width="5.8" height="7.2" fill="#ffec50"/><rect x="-2.7" y="27.2" width="5.8" height="7.2" fill="#ffec50"/><rect x="2.5" y="27.2" width="5.8" height="7.2" fill="#2896f0"/><rect x="7.7" y="27.2" width="11.0" height="7.2" fill="#0818d0"/><rect x="18.1" y="27.2" width="5.8" height="7.2" fill="#2896f0"/><rect x="23.3" y="27.2" width="5.8" height="7.2" fill="#f05a10"/><rect x="28.5" y="27.2" width="5.8" height="7.2" fill="#2896f0"/><rect x="33.7" y="27.2" width="5.8" height="7.2" fill="#1e64f0"/><rect x="38.9" y="27.2" width="5.8" height="7.2" fill="#0818d0"/><rect x="44.1" y="27.2" width="21.4" height="7.2" fill="#2896f0"/><rect x="64.9" y="27.2" width="11.0" height="7.2" fill="#28c8f0"/><rect x="75.3" y="27.2" width="5.8" height="7.2" fill="#2896f0"/><rect x="80.5" y="27.2" width="16.2" height="7.2" fill="#28c8f0"/><rect x="96.1" y="27.2" width="5.8" height="7.2" fill="#b4f0e0"/><rect x="101.3" y="27.2" width="37.0" height="7.2" fill="#ffec50"/><rect x="2.5" y="33.8" width="5.8" height="7.2" fill="#28c8f0"/><rect x="7.7" y="33.8" width="5.8" height="7.2" fill="#1e64f0"/><rect x="12.9" y="33.8" width="5.8" height="7.2" fill="#0818d0"/><rect x="18.1" y="33.8" width="5.8" height="7.2" fill="#1e64f0"/><rect x="23.3" y="33.8" width="5.8" height="7.2" fill="#2896f0"/><rect x="28.5" y="33.8" width="5.8" height="7.2" fill="#1e64f0"/><rect x="33.7" y="33.8" width="5.8" height="7.2" fill="#0818d0"/><rect x="38.9" y="33.8" width="37.0" height="7.2" fill="#2896f0"/><rect x="75.3" y="33.8" width="5.8" height="7.2" fill="#1e64f0"/><rect x="80.5" y="33.8" width="5.8" height="7.2" fill="#2896f0"/><rect x="85.7" y="33.8" width="5.8" height="7.2" fill="#28c8f0"/><rect x="90.9" y="33.8" width="5.8" height="7.2" fill="#b4f0e0"/><rect x="96.1" y="33.8" width="26.6" height="7.2" fill="#ffec50"/><rect x="122.1" y="33.8" width="5.8" height="7.2" fill="#f8b448"/><rect x="2.5" y="40.4" width="5.8" height="7.2" fill="#b4f0e0"/><rect x="7.7" y="40.4" width="5.8" height="7.2" fill="#28c8f0"/><rect x="12.9" y="40.4" width="26.6" height="7.2" fill="#1e64f0"/><rect x="38.9" y="40.4" width="5.8" height="7.2" fill="#2896f0"/><rect x="44.1" y="40.4" width="37.0" height="7.2" fill="#28c8f0"/><rect x="80.5" y="40.4" width="5.8" height="7.2" fill="#b4f0e0"/><rect x="85.7" y="40.4" width="21.4" height="7.2" fill="#ffec50"/><rect x="106.5" y="40.4" width="5.8" height="7.2" fill="#f8b448"/><rect x="111.7" y="40.4" width="16.2" height="7.2" fill="#ffec50"/><rect x="7.7" y="47.1" width="5.8" height="7.2" fill="#28c8f0"/><rect x="12.9" y="47.1" width="5.8" height="7.2" fill="#2896f0"/><rect x="18.1" y="47.1" width="11.0" height="7.2" fill="#1e64f0"/><rect x="28.5" y="47.1" width="5.8" height="7.2" fill="#f8b448"/><rect x="33.7" y="47.1" width="5.8" height="7.2" fill="#2896f0"/><rect x="38.9" y="47.1" width="5.8" height="7.2" fill="#f8b448"/><rect x="44.1" y="47.1" width="16.2" height="7.2" fill="#28c8f0"/><rect x="59.7" y="47.1" width="5.8" height="7.2" fill="#b4f0e0"/><rect x="64.9" y="47.1" width="11.0" height="7.2" fill="#28c8f0"/><rect x="75.3" y="47.1" width="5.8" height="7.2" fill="#b4f0e0"/><rect x="80.5" y="47.1" width="47.4" height="7.2" fill="#ffec50"/><rect x="12.9" y="53.7" width="5.8" height="7.2" fill="#28c8f0"/><rect x="18.1" y="53.7" width="5.8" height="7.2" fill="#2896f0"/><rect x="23.3" y="53.7" width="5.8" height="7.2" fill="#f05a10"/><rect x="28.5" y="53.7" width="5.8" height="7.2" fill="#f8b448"/><rect x="33.7" y="53.7" width="11.0" height="7.2" fill="#28c8f0"/><rect x="44.1" y="53.7" width="5.8" height="7.2" fill="#f05a10"/><rect x="49.3" y="53.7" width="5.8" height="7.2" fill="#28c8f0"/><rect x="54.5" y="53.7" width="11.0" height="7.2" fill="#b4f0e0"/><rect x="64.9" y="53.7" width="5.8" height="7.2" fill="#28c8f0"/><rect x="70.1" y="53.7" width="5.8" height="7.2" fill="#b4f0e0"/><rect x="75.3" y="53.7" width="42.2" height="7.2" fill="#ffec50"/><rect x="23.3" y="60.4" width="5.8" height="7.2" fill="#f8b448"/><rect x="28.5" y="60.4" width="5.8" height="7.2" fill="#f05a10"/><rect x="33.7" y="60.4" width="21.4" height="7.2" fill="#28c8f0"/><rect x="54.5" y="60.4" width="5.8" height="7.2" fill="#64e6aa"/><rect x="59.7" y="60.4" width="5.8" height="7.2" fill="#b4f0e0"/><rect x="64.9" y="60.4" width="37.0" height="7.2" fill="#ffec50"/><rect x="101.3" y="60.4" width="5.8" height="7.2" fill="#ffff00"/><rect x="106.5" y="60.4" width="5.8" height="7.2" fill="#ffec50"/><rect x="54.5" y="67.0" width="5.8" height="7.2" fill="#28c8f0"/><rect x="59.7" y="67.0" width="11.0" height="7.2" fill="#ffec50"/><rect x="70.1" y="67.0" width="5.8" height="7.2" fill="#b4f0e0"/><rect x="75.3" y="67.0" width="5.8" height="7.2" fill="#ffec50"/><rect x="106.5" y="67.0" width="5.8" height="7.2" fill="#ffec50"/><rect x="111.7" y="67.0" width="5.8" height="7.2" fill="#ffff00"/><rect x="64.9" y="73.6" width="11.0" height="7.2" fill="#b4f0e0"/><rect x="106.5" y="73.6" width="11.0" height="7.2" fill="#ffec50"/><rect x="70.1" y="80.3" width="5.8" height="7.2" fill="#28c8f0"/><rect x="111.7" y="80.3" width="5.8" height="7.2" fill="#f8b448"/></g></g><use href="#st"/></g><rect x="866.31" y="424.40" width="152.90" height="86.15" fill="none" stroke="#474747" stroke-width="1.1"/><path d="M878.96 510.55v-2M878.96 424.40v2M904.96 510.55v-2M904.96 424.40v2M930.96 510.55v-2M930.96 424.40v2M956.96 510.55v-2M956.96 424.40v2M982.96 510.55v-2M982.96 424.40v2M1008.96 510.55v-2M1008.96 424.40v2M866.31 506.89h2M1019.21 506.89h-2M866.31 490.47h2M1019.21 490.47h-2M866.31 474.05h2M1019.21 474.05h-2M866.31 457.63h2M1019.21 457.63h-2M866.31 441.21h2M1019.21 441.21h-2" stroke="#474747" stroke-width="0.9"/><g font-size="12.2" fill="#333"><text x="877.16" y="526.85" text-anchor="middle" textLength="17.5" lengthAdjust="spacingAndGlyphs">-120</text><text x="903.16" y="526.85" text-anchor="middle" textLength="17.5" lengthAdjust="spacingAndGlyphs">-110</text><text x="929.16" y="526.85" text-anchor="middle" textLength="17.5" lengthAdjust="spacingAndGlyphs">-100</text><text x="955.16" y="526.85" text-anchor="middle" textLength="12.9" lengthAdjust="spacingAndGlyphs">-90</text><text x="981.16" y="526.85" text-anchor="middle" textLength="12.9" lengthAdjust="spacingAndGlyphs">-80</text><text x="1007.16" y="526.85" text-anchor="middle" textLength="12.9" lengthAdjust="spacingAndGlyphs">-70</text><text x="862.41" y="512.29" text-anchor="end" textLength="10" lengthAdjust="spacingAndGlyphs">25</text><text x="862.41" y="495.87" text-anchor="end" textLength="10" lengthAdjust="spacingAndGlyphs">30</text><text x="862.41" y="479.45" text-anchor="end" textLength="10" lengthAdjust="spacingAndGlyphs">35</text><text x="862.41" y="463.03" text-anchor="end" textLength="10" lengthAdjust="spacingAndGlyphs">40</text><text x="862.41" y="446.61" text-anchor="end" textLength="10" lengthAdjust="spacingAndGlyphs">45</text></g><text transform="translate(939.61 418.20) scale(0.82 1)" font-size="18" text-anchor="middle" fill="#000">(t)</text><rect x="86.40" y="582.3" width="11.81" height="10.2" fill="#0000c8"/><rect x="97.91" y="582.3" width="11.81" height="10.2" fill="#1e64f0"/><rect x="109.42" y="582.3" width="11.81" height="10.2" fill="#1e96f0"/><rect x="120.93" y="582.3" width="11.81" height="10.2" fill="#14c8f0"/><rect x="132.44" y="582.3" width="11.81" height="10.2" fill="#5ae6a0"/><rect x="143.95" y="582.3" width="11.81" height="10.2" fill="#ffffff"/><rect x="155.45" y="582.3" width="11.81" height="10.2" fill="#ffff00"/><rect x="166.96" y="582.3" width="11.81" height="10.2" fill="#ffd08c"/><rect x="178.47" y="582.3" width="11.81" height="10.2" fill="#ffa000"/><rect x="189.98" y="582.3" width="11.81" height="10.2" fill="#e60000"/><rect x="201.49" y="582.3" width="11.81" height="10.2" fill="#780000"/><rect x="86.4" y="582.3" width="126.6" height="10.2" fill="none" stroke="#111" stroke-width="1.2"/><path d="M149.7 582.3v2.2M149.7 592.5v-2.2" stroke="#111" stroke-width="1"/><rect x="280.00" y="580.8" width="11.48" height="11.1" fill="#0000c8"/><rect x="291.18" y="580.8" width="11.48" height="11.1" fill="#1e64f0"/><rect x="302.36" y="580.8" width="11.48" height="11.1" fill="#1e96f0"/><rect x="313.55" y="580.8" width="11.48" height="11.1" fill="#14c8f0"/><rect x="324.73" y="580.8" width="11.48" height="11.1" fill="#5ae6a0"/><rect x="335.91" y="580.8" width="11.48" height="11.1" fill="#ffffff"/><rect x="347.09" y="580.8" width="11.48" height="11.1" fill="#ffff00"/><rect x="358.27" y="580.8" width="11.48" height="11.1" fill="#ffd08c"/><rect x="369.45" y="580.8" width="11.48" height="11.1" fill="#ffa000"/><rect x="380.64" y="580.8" width="11.48" height="11.1" fill="#e60000"/><rect x="391.82" y="580.8" width="11.48" height="11.1" fill="#780000"/><rect x="280.0" y="580.8" width="123.0" height="11.1" fill="none" stroke="#111" stroke-width="1.2"/><path d="M341.5 580.8v2.2M341.5 591.9v-2.2" stroke="#111" stroke-width="1"/><rect x="474.60" y="580.4" width="11.44" height="10.2" fill="#0000c8"/><rect x="485.74" y="580.4" width="11.44" height="10.2" fill="#1e64f0"/><rect x="496.87" y="580.4" width="11.44" height="10.2" fill="#1e96f0"/><rect x="508.01" y="580.4" width="11.44" height="10.2" fill="#14c8f0"/><rect x="519.15" y="580.4" width="11.44" height="10.2" fill="#5ae6a0"/><rect x="530.28" y="580.4" width="11.44" height="10.2" fill="#ffffff"/><rect x="541.42" y="580.4" width="11.44" height="10.2" fill="#ffff00"/><rect x="552.55" y="580.4" width="11.44" height="10.2" fill="#ffd08c"/><rect x="563.69" y="580.4" width="11.44" height="10.2" fill="#ffa000"/><rect x="574.83" y="580.4" width="11.44" height="10.2" fill="#e60000"/><rect x="585.96" y="580.4" width="11.44" height="10.2" fill="#780000"/><rect x="474.6" y="580.4" width="122.5" height="10.2" fill="none" stroke="#111" stroke-width="1.2"/><path d="M535.9 580.4v2.2M535.9 590.6v-2.2" stroke="#111" stroke-width="1"/><path d="M499.9 580.4v2.2M499.9 590.6v-2.2" stroke="#111" stroke-width="1"/><path d="M571.4 580.4v2.2M571.4 590.6v-2.2" stroke="#111" stroke-width="1"/><rect x="669.10" y="581.0" width="11.49" height="10.5" fill="#0000c8"/><rect x="680.29" y="581.0" width="11.49" height="10.5" fill="#1e64f0"/><rect x="691.48" y="581.0" width="11.49" height="10.5" fill="#1e96f0"/><rect x="702.67" y="581.0" width="11.49" height="10.5" fill="#14c8f0"/><rect x="713.86" y="581.0" width="11.49" height="10.5" fill="#5ae6a0"/><rect x="725.05" y="581.0" width="11.49" height="10.5" fill="#ffffff"/><rect x="736.25" y="581.0" width="11.49" height="10.5" fill="#ffff00"/><rect x="747.44" y="581.0" width="11.49" height="10.5" fill="#ffd08c"/><rect x="758.63" y="581.0" width="11.49" height="10.5" fill="#ffa000"/><rect x="769.82" y="581.0" width="11.49" height="10.5" fill="#e60000"/><rect x="781.01" y="581.0" width="11.49" height="10.5" fill="#780000"/><rect x="669.1" y="581.0" width="123.1" height="10.5" fill="none" stroke="#111" stroke-width="1.2"/><path d="M730.6 581.0v2.2M730.6 591.5v-2.2" stroke="#111" stroke-width="1"/><path d="M694.6 581.0v2.2M694.6 591.5v-2.2" stroke="#111" stroke-width="1"/><path d="M766.1 581.0v2.2M766.1 591.5v-2.2" stroke="#111" stroke-width="1"/><rect x="864.20" y="581.0" width="11.44" height="10.3" fill="#0000c8"/><rect x="875.34" y="581.0" width="11.44" height="10.3" fill="#1e64f0"/><rect x="886.47" y="581.0" width="11.44" height="10.3" fill="#1e96f0"/><rect x="897.61" y="581.0" width="11.44" height="10.3" fill="#14c8f0"/><rect x="908.75" y="581.0" width="11.44" height="10.3" fill="#5ae6a0"/><rect x="919.88" y="581.0" width="11.44" height="10.3" fill="#ffffff"/><rect x="931.02" y="581.0" width="11.44" height="10.3" fill="#ffff00"/><rect x="942.15" y="581.0" width="11.44" height="10.3" fill="#ffd08c"/><rect x="953.29" y="581.0" width="11.44" height="10.3" fill="#ffa000"/><rect x="964.43" y="581.0" width="11.44" height="10.3" fill="#e60000"/><rect x="975.56" y="581.0" width="11.44" height="10.3" fill="#780000"/><rect x="864.2" y="581.0" width="122.5" height="10.3" fill="none" stroke="#111" stroke-width="1.2"/><path d="M925.5 581.0v2.2M925.5 591.3v-2.2" stroke="#111" stroke-width="1"/><path d="M889.5 581.0v2.2M889.5 591.3v-2.2" stroke="#111" stroke-width="1"/><path d="M961.0 581.0v2.2M961.0 591.3v-2.2" stroke="#111" stroke-width="1"/><text x="73.0" y="614.4" font-size="14.5" fill="#222" text-anchor="start" textLength="22.0" lengthAdjust="spacingAndGlyphs">-0.5</text><text x="147.3" y="614.4" font-size="14.5" fill="#222" text-anchor="start" textLength="5.5" lengthAdjust="spacingAndGlyphs">0</text><text x="205.0" y="614.4" font-size="14.5" fill="#222" text-anchor="start" textLength="15.8" lengthAdjust="spacingAndGlyphs">0.5</text><text x="267.0" y="614.0" font-size="14.5" fill="#222" text-anchor="start" textLength="21.9" lengthAdjust="spacingAndGlyphs">-0.5</text><text x="338.9" y="614.0" font-size="14.5" fill="#222" text-anchor="start" textLength="6.1" lengthAdjust="spacingAndGlyphs">0</text><text x="395.0" y="614.0" font-size="14.5" fill="#222" text-anchor="start" textLength="15.8" lengthAdjust="spacingAndGlyphs">0.5</text><text x="482.9" y="612.8" font-size="14.2" fill="#222" text-anchor="start" textLength="24.2" lengthAdjust="spacingAndGlyphs">- 0.2</text><text x="530.3" y="612.8" font-size="14.2" fill="#222" text-anchor="start" textLength="6.7" lengthAdjust="spacingAndGlyphs">0</text><text x="563.7" y="612.8" font-size="14.2" fill="#222" text-anchor="start" textLength="16.7" lengthAdjust="spacingAndGlyphs">0.2</text><text x="686.4" y="613.2" font-size="14.5" fill="#222" text-anchor="start" textLength="11.9" lengthAdjust="spacingAndGlyphs">-2</text><text x="728.2" y="613.2" font-size="14.5" fill="#222" text-anchor="start" textLength="5.3" lengthAdjust="spacingAndGlyphs">0</text><text x="762.8" y="613.2" font-size="14.5" fill="#222" text-anchor="start" textLength="5.3" lengthAdjust="spacingAndGlyphs">2</text><text x="881.4" y="613.2" font-size="14.5" fill="#222" text-anchor="start" textLength="11.5" lengthAdjust="spacingAndGlyphs">-2</text><text x="922.7" y="613.2" font-size="14.5" fill="#222" text-anchor="start" textLength="5.7" lengthAdjust="spacingAndGlyphs">0</text><text x="957.4" y="613.2" font-size="14.5" fill="#222" text-anchor="start" textLength="5.8" lengthAdjust="spacingAndGlyphs">2</text><text x="187.0" y="573.5" font-size="16.0" fill="#000" text-anchor="start" textLength="31.4" lengthAdjust="spacingAndGlyphs">(kPa)</text><text x="381.6" y="575.5" font-size="16.0" fill="#000" text-anchor="start" textLength="32.3" lengthAdjust="spacingAndGlyphs">(kPa)</text><text x="591.0" y="575.5" font-size="16.0" fill="#000" text-anchor="start" textLength="31.6" lengthAdjust="spacingAndGlyphs">(kPa)</text><text transform="translate(767.6 572.5) scale(0.86 1)" font-size="16.5" fill="#000">(<tspan font-size="10.5" dy="-5.5">o</tspan><tspan dy="5.5">C)</tspan></text><text transform="translate(976.7 573.0) scale(0.86 1)" font-size="16.5" fill="#000">(<tspan font-size="10.5" dy="-5.5">o</tspan><tspan dy="5.5">C)</tspan></text><text x="504.8" y="557.8" font-size="16.5" fill="#000" text-anchor="start" textLength="70.3" lengthAdjust="spacingAndGlyphs">Longitude</text></svg></body></html>
